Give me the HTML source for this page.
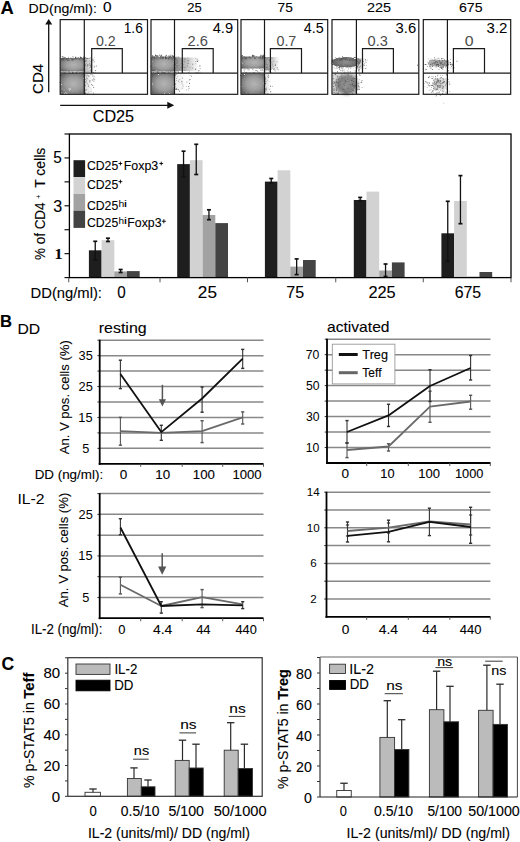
<!DOCTYPE html>
<html><head><meta charset="utf-8"><style>
html,body{margin:0;padding:0;background:#fff;}
body{width:520px;height:842px;overflow:hidden;}
svg{display:block;font-family:"Liberation Sans",sans-serif;}
</style></head><body>
<svg width="520" height="842" viewBox="0 0 520 842" font-family="Liberation Sans, sans-serif">
<defs>
<radialGradient id="bg" cx="0.55" cy="0.5" r="0.68"><stop offset="0" stop-color="#b4b4b4"/><stop offset="0.5" stop-color="#9c9c9c"/><stop offset="0.8" stop-color="#7a7a7a"/><stop offset="1" stop-color="#5a5a5a"/></radialGradient>
<radialGradient id="bg2" cx="0.2" cy="0.5" r="0.8"><stop offset="0" stop-color="#777"/><stop offset="1" stop-color="#aaa"/></radialGradient>
<radialGradient id="bg3" cx="0.6" cy="0.5" r="0.6"><stop offset="0" stop-color="#777"/><stop offset="1" stop-color="#9a9a9a"/></radialGradient>
<linearGradient id="fd" x1="0" y1="0" x2="1" y2="0"><stop offset="0" stop-color="#7a7a7a" stop-opacity="1"/><stop offset="0.55" stop-color="#9a9a9a" stop-opacity="0.6"/><stop offset="1" stop-color="#ccc" stop-opacity="0"/></linearGradient>
<filter id="rough2" x="-20%" y="-30%" width="140%" height="160%">
 <feTurbulence type="fractalNoise" baseFrequency="0.8" numOctaves="2" seed="9" result="t"/>
 <feDisplacementMap in="SourceGraphic" in2="t" scale="3.5" xChannelSelector="R" yChannelSelector="G" result="d"/>
 <feGaussianBlur in="d" stdDeviation="0.5"/>
</filter>
<radialGradient id="bg4" cx="0.5" cy="0.5" r="0.5"><stop offset="0" stop-color="#8c8c8c"/><stop offset="0.7" stop-color="#6a6a6a"/><stop offset="1" stop-color="#555"/></radialGradient>
<filter id="soft" x="-30%" y="-30%" width="160%" height="160%">
 <feTurbulence type="fractalNoise" baseFrequency="0.8" numOctaves="2" seed="11" result="t"/>
 <feDisplacementMap in="SourceGraphic" in2="t" scale="4" xChannelSelector="R" yChannelSelector="G" result="d"/>
 <feGaussianBlur in="d" stdDeviation="1.6"/>
</filter>
<filter id="rough" x="-10%" y="-10%" width="120%" height="120%">
 <feTurbulence type="fractalNoise" baseFrequency="0.9" numOctaves="2" seed="4" result="t"/>
 <feDisplacementMap in="SourceGraphic" in2="t" scale="2.2" xChannelSelector="R" yChannelSelector="G"/>
</filter>
</defs>
<rect x="0.00" y="0.00" width="520.00" height="842.00" fill="#fff"/>
<text x="0.44" y="13.80" font-size="17.5" font-weight="bold" fill="#000" stroke="#000" stroke-width="0.1" textLength="13.26" lengthAdjust="spacingAndGlyphs">A</text>
<text x="28.62" y="12.60" font-size="13.2" fill="#000" stroke="#000" stroke-width="0.1" textLength="68.20" lengthAdjust="spacingAndGlyphs">DD(ng/ml):</text>
<text x="102.98" y="11.50" font-size="14.5" fill="#000" stroke="#000" stroke-width="0.1" textLength="8.57" lengthAdjust="spacingAndGlyphs">0</text>
<text x="187.35" y="11.85" font-size="13.5" fill="#000" stroke="#000" stroke-width="0.1" textLength="14.50" lengthAdjust="spacingAndGlyphs">25</text>
<text x="277.61" y="11.85" font-size="13.5" fill="#000" stroke="#000" stroke-width="0.1" textLength="15.27" lengthAdjust="spacingAndGlyphs">75</text>
<text x="366.98" y="11.85" font-size="13.5" fill="#000" stroke="#000" stroke-width="0.1" textLength="24.05" lengthAdjust="spacingAndGlyphs">225</text>
<text x="458.99" y="11.85" font-size="13.5" fill="#000" stroke="#000" stroke-width="0.1" textLength="23.62" lengthAdjust="spacingAndGlyphs">675</text>
<line x1="48.70" y1="23.50" x2="48.70" y2="92.30" stroke="#111" stroke-width="1.3"/>
<polygon points="48.7,19.1 45.2,24.4 52.2,24.4" fill="#111"/>
<text transform="translate(43.40,93.95) rotate(-90)" x="0" y="0" font-size="15.4" fill="#000" stroke="#000" stroke-width="0.1" textLength="30.11" lengthAdjust="spacingAndGlyphs">CD4</text>
<line x1="60.20" y1="105.30" x2="168.00" y2="105.30" stroke="#111" stroke-width="1.3"/>
<polygon points="174.2,105.3 167.3,101.8 167.3,108.8" fill="#111"/>
<text x="92.69" y="122.30" font-size="16" fill="#000" stroke="#000" stroke-width="0.1" textLength="41.38" lengthAdjust="spacingAndGlyphs">CD25</text>
<rect x="60.6" y="58.0" width="23.7" height="13.5" fill="url(#bg)" opacity="1.0" filter="url(#rough)"/>
<rect x="68.2" y="56.9" width="0.8" height="0.8" fill="rgb(111,111,111)" opacity="1.0"/>
<rect x="79.8" y="56.6" width="0.8" height="0.8" fill="rgb(107,107,107)" opacity="1.0"/>
<rect x="72.5" y="56.4" width="1.0" height="1.0" fill="rgb(97,97,97)" opacity="1.0"/>
<rect x="66.2" y="58.3" width="1.2" height="1.2" fill="rgb(73,73,73)" opacity="1.0"/>
<rect x="63.5" y="57.1" width="1.1" height="1.1" fill="rgb(110,110,110)" opacity="1.0"/>
<rect x="62.0" y="58.5" width="1.3" height="1.3" fill="rgb(73,73,73)" opacity="1.0"/>
<rect x="61.7" y="59.5" width="1.0" height="1.0" fill="rgb(88,88,88)" opacity="1.0"/>
<rect x="73.3" y="58.4" width="1.2" height="1.2" fill="rgb(105,105,105)" opacity="1.0"/>
<rect x="64.8" y="58.5" width="0.9" height="0.9" fill="rgb(110,110,110)" opacity="1.0"/>
<rect x="62.9" y="58.9" width="0.8" height="0.8" fill="rgb(106,106,106)" opacity="1.0"/>
<rect x="65.4" y="58.8" width="1.2" height="1.2" fill="rgb(97,97,97)" opacity="1.0"/>
<rect x="71.5" y="59.7" width="0.9" height="0.9" fill="rgb(93,93,93)" opacity="1.0"/>
<rect x="79.2" y="58.9" width="0.8" height="0.8" fill="rgb(85,85,85)" opacity="1.0"/>
<rect x="67.6" y="58.1" width="1.2" height="1.2" fill="rgb(91,91,91)" opacity="1.0"/>
<rect x="67.3" y="59.9" width="1.1" height="1.1" fill="rgb(77,77,77)" opacity="1.0"/>
<rect x="64.5" y="57.6" width="1.0" height="1.0" fill="rgb(101,101,101)" opacity="1.0"/>
<rect x="83.1" y="56.6" width="1.1" height="1.1" fill="rgb(105,105,105)" opacity="1.0"/>
<rect x="81.1" y="57.5" width="1.0" height="1.0" fill="rgb(114,114,114)" opacity="1.0"/>
<rect x="72.2" y="59.2" width="1.2" height="1.2" fill="rgb(74,74,74)" opacity="1.0"/>
<rect x="82.7" y="58.1" width="0.8" height="0.8" fill="rgb(112,112,112)" opacity="1.0"/>
<rect x="77.7" y="57.4" width="1.3" height="1.3" fill="rgb(106,106,106)" opacity="1.0"/>
<rect x="79.8" y="57.4" width="1.2" height="1.2" fill="rgb(94,94,94)" opacity="1.0"/>
<rect x="68.7" y="59.8" width="0.9" height="0.9" fill="rgb(92,92,92)" opacity="1.0"/>
<rect x="63.3" y="56.5" width="0.9" height="0.9" fill="rgb(119,119,119)" opacity="1.0"/>
<rect x="77.9" y="57.8" width="0.8" height="0.8" fill="rgb(101,101,101)" opacity="1.0"/>
<rect x="71.1" y="58.3" width="1.2" height="1.2" fill="rgb(78,78,78)" opacity="1.0"/>
<rect x="80.8" y="57.3" width="1.3" height="1.3" fill="rgb(96,96,96)" opacity="1.0"/>
<rect x="76.6" y="57.7" width="0.9" height="0.9" fill="rgb(84,84,84)" opacity="1.0"/>
<rect x="64.7" y="57.2" width="0.8" height="0.8" fill="rgb(84,84,84)" opacity="1.0"/>
<rect x="80.0" y="57.0" width="0.8" height="0.8" fill="rgb(88,88,88)" opacity="1.0"/>
<rect x="70.4" y="57.7" width="1.0" height="1.0" fill="rgb(106,106,106)" opacity="1.0"/>
<rect x="63.5" y="59.5" width="1.1" height="1.1" fill="rgb(109,109,109)" opacity="1.0"/>
<rect x="77.9" y="58.0" width="1.3" height="1.3" fill="rgb(119,119,119)" opacity="1.0"/>
<rect x="76.5" y="58.4" width="1.0" height="1.0" fill="rgb(95,95,95)" opacity="1.0"/>
<rect x="63.0" y="58.6" width="0.9" height="0.9" fill="rgb(73,73,73)" opacity="1.0"/>
<rect x="83.6" y="57.9" width="1.0" height="1.0" fill="rgb(77,77,77)" opacity="1.0"/>
<rect x="61.8" y="56.3" width="1.1" height="1.1" fill="rgb(79,79,79)" opacity="1.0"/>
<rect x="82.8" y="58.6" width="1.2" height="1.2" fill="rgb(74,74,74)" opacity="1.0"/>
<rect x="75.0" y="56.8" width="1.3" height="1.3" fill="rgb(86,86,86)" opacity="1.0"/>
<rect x="74.7" y="58.1" width="1.2" height="1.2" fill="rgb(77,77,77)" opacity="1.0"/>
<rect x="83.8" y="58.0" width="1.0" height="1.0" fill="rgb(100,100,100)" opacity="1.0"/>
<rect x="64.0" y="59.1" width="0.9" height="0.9" fill="rgb(117,117,117)" opacity="1.0"/>
<rect x="80.0" y="56.9" width="0.9" height="0.9" fill="rgb(71,71,71)" opacity="1.0"/>
<rect x="82.9" y="57.6" width="1.1" height="1.1" fill="rgb(114,114,114)" opacity="1.0"/>
<rect x="61.2" y="58.3" width="1.2" height="1.2" fill="rgb(111,111,111)" opacity="1.0"/>
<rect x="76.9" y="71.1" width="1.3" height="1.3" fill="rgb(156,156,156)" opacity="1.0"/>
<rect x="68.9" y="71.0" width="1.2" height="1.2" fill="rgb(179,179,179)" opacity="1.0"/>
<rect x="68.3" y="71.0" width="1.2" height="1.2" fill="rgb(134,134,134)" opacity="1.0"/>
<rect x="79.7" y="72.2" width="0.9" height="0.9" fill="rgb(139,139,139)" opacity="1.0"/>
<rect x="72.1" y="72.2" width="1.2" height="1.2" fill="rgb(113,113,113)" opacity="1.0"/>
<rect x="71.7" y="70.9" width="1.0" height="1.0" fill="rgb(154,154,154)" opacity="1.0"/>
<rect x="82.5" y="72.8" width="0.8" height="0.8" fill="rgb(156,156,156)" opacity="1.0"/>
<rect x="63.0" y="71.6" width="0.9" height="0.9" fill="rgb(153,153,153)" opacity="1.0"/>
<rect x="75.2" y="72.6" width="1.0" height="1.0" fill="rgb(110,110,110)" opacity="1.0"/>
<rect x="75.9" y="72.3" width="1.2" height="1.2" fill="rgb(120,120,120)" opacity="1.0"/>
<rect x="63.4" y="71.4" width="1.0" height="1.0" fill="rgb(135,135,135)" opacity="1.0"/>
<rect x="64.8" y="72.3" width="0.8" height="0.8" fill="rgb(152,152,152)" opacity="1.0"/>
<rect x="82.7" y="72.2" width="1.0" height="1.0" fill="rgb(169,169,169)" opacity="1.0"/>
<rect x="82.8" y="72.2" width="1.3" height="1.3" fill="rgb(131,131,131)" opacity="1.0"/>
<rect x="61.2" y="71.9" width="1.2" height="1.2" fill="rgb(169,169,169)" opacity="1.0"/>
<rect x="64.0" y="72.4" width="1.1" height="1.1" fill="rgb(170,170,170)" opacity="1.0"/>
<rect x="68.8" y="71.8" width="0.8" height="0.8" fill="rgb(126,126,126)" opacity="1.0"/>
<rect x="79.3" y="72.2" width="1.1" height="1.1" fill="rgb(123,123,123)" opacity="1.0"/>
<rect x="82.4" y="71.5" width="1.2" height="1.2" fill="rgb(134,134,134)" opacity="1.0"/>
<rect x="65.5" y="71.1" width="1.1" height="1.1" fill="rgb(147,147,147)" opacity="1.0"/>
<rect x="78.5" y="71.2" width="1.0" height="1.0" fill="rgb(179,179,179)" opacity="1.0"/>
<rect x="63.7" y="72.6" width="1.2" height="1.2" fill="rgb(155,155,155)" opacity="1.0"/>
<rect x="76.1" y="72.4" width="1.0" height="1.0" fill="rgb(176,176,176)" opacity="1.0"/>
<rect x="82.1" y="71.7" width="0.9" height="0.9" fill="rgb(178,178,178)" opacity="1.0"/>
<rect x="72.5" y="72.5" width="1.1" height="1.1" fill="rgb(133,133,133)" opacity="1.0"/>
<rect x="84.3" y="58.0" width="10.7" height="14.5" fill="url(#fd)" opacity="0.55" filter="url(#rough)"/>
<rect x="91.0" y="59.3" width="0.8" height="0.8" fill="rgb(108,108,108)" opacity="1.0"/>
<rect x="90.1" y="65.6" width="0.9" height="0.9" fill="rgb(131,131,131)" opacity="1.0"/>
<rect x="87.2" y="64.5" width="1.0" height="1.0" fill="rgb(103,103,103)" opacity="1.0"/>
<rect x="84.3" y="60.0" width="0.9" height="0.9" fill="rgb(95,95,95)" opacity="1.0"/>
<rect x="86.9" y="65.7" width="0.8" height="0.8" fill="rgb(98,98,98)" opacity="1.0"/>
<rect x="88.3" y="64.8" width="0.7" height="0.7" fill="rgb(155,155,155)" opacity="1.0"/>
<rect x="85.0" y="64.9" width="0.8" height="0.8" fill="rgb(151,151,151)" opacity="1.0"/>
<rect x="84.8" y="65.1" width="1.0" height="1.0" fill="rgb(123,123,123)" opacity="1.0"/>
<rect x="93.4" y="60.1" width="0.7" height="0.7" fill="rgb(147,147,147)" opacity="1.0"/>
<rect x="84.4" y="63.9" width="0.9" height="0.9" fill="rgb(99,99,99)" opacity="1.0"/>
<rect x="86.1" y="60.3" width="0.9" height="0.9" fill="rgb(128,128,128)" opacity="1.0"/>
<rect x="93.5" y="59.4" width="0.7" height="0.7" fill="rgb(136,136,136)" opacity="1.0"/>
<rect x="93.2" y="72.0" width="0.9" height="0.9" fill="rgb(118,118,118)" opacity="1.0"/>
<rect x="84.4" y="70.7" width="1.0" height="1.0" fill="rgb(110,110,110)" opacity="1.0"/>
<rect x="92.1" y="59.5" width="1.0" height="1.0" fill="rgb(145,145,145)" opacity="1.0"/>
<rect x="85.9" y="63.5" width="0.7" height="0.7" fill="rgb(135,135,135)" opacity="1.0"/>
<rect x="90.0" y="57.3" width="0.8" height="0.8" fill="rgb(160,160,160)" opacity="1.0"/>
<rect x="89.7" y="63.0" width="0.8" height="0.8" fill="rgb(156,156,156)" opacity="1.0"/>
<rect x="87.0" y="58.0" width="1.0" height="1.0" fill="rgb(119,119,119)" opacity="1.0"/>
<rect x="84.4" y="61.1" width="1.0" height="1.0" fill="rgb(95,95,95)" opacity="1.0"/>
<rect x="84.6" y="68.7" width="0.9" height="0.9" fill="rgb(144,144,144)" opacity="1.0"/>
<rect x="89.2" y="71.7" width="0.7" height="0.7" fill="rgb(141,141,141)" opacity="1.0"/>
<rect x="94.0" y="65.8" width="0.6" height="0.6" fill="rgb(131,131,131)" opacity="1.0"/>
<rect x="84.3" y="67.7" width="1.0" height="1.0" fill="rgb(144,144,144)" opacity="1.0"/>
<rect x="85.0" y="57.3" width="0.9" height="0.9" fill="rgb(101,101,101)" opacity="1.0"/>
<rect x="84.3" y="70.3" width="0.7" height="0.7" fill="rgb(98,98,98)" opacity="1.0"/>
<rect x="84.4" y="57.2" width="0.8" height="0.8" fill="rgb(160,160,160)" opacity="1.0"/>
<rect x="93.9" y="66.6" width="0.8" height="0.8" fill="rgb(95,95,95)" opacity="1.0"/>
<rect x="84.8" y="58.7" width="0.7" height="0.7" fill="rgb(110,110,110)" opacity="1.0"/>
<rect x="84.6" y="71.4" width="0.7" height="0.7" fill="rgb(170,170,170)" opacity="1.0"/>
<rect x="90.7" y="61.5" width="0.9" height="0.9" fill="rgb(154,154,154)" opacity="1.0"/>
<rect x="85.0" y="69.5" width="0.6" height="0.6" fill="rgb(122,122,122)" opacity="1.0"/>
<rect x="84.3" y="64.8" width="0.8" height="0.8" fill="rgb(114,114,114)" opacity="1.0"/>
<rect x="84.8" y="63.9" width="0.9" height="0.9" fill="rgb(145,145,145)" opacity="1.0"/>
<rect x="87.4" y="70.8" width="0.7" height="0.7" fill="rgb(154,154,154)" opacity="1.0"/>
<rect x="84.7" y="60.6" width="0.9" height="0.9" fill="rgb(115,115,115)" opacity="1.0"/>
<rect x="89.8" y="66.9" width="1.0" height="1.0" fill="rgb(141,141,141)" opacity="1.0"/>
<rect x="95.5" y="70.0" width="0.6" height="0.6" fill="rgb(91,91,91)" opacity="1.0"/>
<rect x="90.3" y="61.0" width="0.6" height="0.6" fill="rgb(110,110,110)" opacity="1.0"/>
<rect x="89.1" y="62.9" width="0.9" height="0.9" fill="rgb(154,154,154)" opacity="1.0"/>
<rect x="85.0" y="60.8" width="0.6" height="0.6" fill="rgb(127,127,127)" opacity="1.0"/>
<rect x="84.6" y="61.2" width="0.7" height="0.7" fill="rgb(90,90,90)" opacity="1.0"/>
<rect x="95.0" y="72.1" width="0.7" height="0.7" fill="rgb(160,160,160)" opacity="1.0"/>
<rect x="84.3" y="70.7" width="0.7" height="0.7" fill="rgb(117,117,117)" opacity="1.0"/>
<rect x="84.3" y="62.9" width="0.7" height="0.7" fill="rgb(150,150,150)" opacity="1.0"/>
<rect x="88.9" y="60.8" width="0.6" height="0.6" fill="rgb(90,90,90)" opacity="1.0"/>
<rect x="91.8" y="59.2" width="0.6" height="0.6" fill="rgb(165,165,165)" opacity="1.0"/>
<rect x="84.3" y="61.7" width="0.6" height="0.6" fill="rgb(119,119,119)" opacity="1.0"/>
<rect x="94.9" y="70.2" width="0.9" height="0.9" fill="rgb(109,109,109)" opacity="1.0"/>
<rect x="89.9" y="70.6" width="0.9" height="0.9" fill="rgb(139,139,139)" opacity="1.0"/>
<rect x="90.0" y="64.7" width="0.9" height="0.9" fill="rgb(126,126,126)" opacity="1.0"/>
<rect x="88.7" y="57.7" width="0.9" height="0.9" fill="rgb(155,155,155)" opacity="1.0"/>
<rect x="90.2" y="69.6" width="1.0" height="1.0" fill="rgb(107,107,107)" opacity="1.0"/>
<rect x="90.6" y="65.8" width="0.9" height="0.9" fill="rgb(92,92,92)" opacity="1.0"/>
<rect x="87.9" y="70.8" width="0.6" height="0.6" fill="rgb(119,119,119)" opacity="1.0"/>
<rect x="84.3" y="66.9" width="0.8" height="0.8" fill="rgb(103,103,103)" opacity="1.0"/>
<rect x="86.3" y="57.8" width="0.9" height="0.9" fill="rgb(92,92,92)" opacity="1.0"/>
<rect x="89.3" y="64.6" width="0.8" height="0.8" fill="rgb(90,90,90)" opacity="1.0"/>
<rect x="84.3" y="71.5" width="0.6" height="0.6" fill="rgb(158,158,158)" opacity="1.0"/>
<rect x="87.1" y="68.6" width="0.7" height="0.7" fill="rgb(150,150,150)" opacity="1.0"/>
<rect x="84.3" y="61.1" width="0.7" height="0.7" fill="rgb(116,116,116)" opacity="1.0"/>
<rect x="88.8" y="64.1" width="0.6" height="0.6" fill="rgb(138,138,138)" opacity="1.0"/>
<rect x="93.8" y="61.5" width="0.8" height="0.8" fill="rgb(95,95,95)" opacity="1.0"/>
<rect x="88.7" y="58.2" width="0.7" height="0.7" fill="rgb(108,108,108)" opacity="1.0"/>
<rect x="88.9" y="67.7" width="0.8" height="0.8" fill="rgb(169,169,169)" opacity="1.0"/>
<rect x="84.3" y="57.9" width="1.0" height="1.0" fill="rgb(124,124,124)" opacity="1.0"/>
<rect x="84.4" y="60.4" width="0.7" height="0.7" fill="rgb(152,152,152)" opacity="1.0"/>
<rect x="87.0" y="64.2" width="0.9" height="0.9" fill="rgb(149,149,149)" opacity="1.0"/>
<rect x="95.8" y="65.5" width="1.0" height="1.0" fill="rgb(129,129,129)" opacity="1.0"/>
<rect x="94.4" y="57.3" width="0.6" height="0.6" fill="rgb(148,148,148)" opacity="1.0"/>
<rect x="60.6" y="73.8" width="23.7" height="20.0" fill="url(#bg)" opacity="1.0" filter="url(#rough)"/>
<rect x="84.3" y="74.0" width="8.7" height="20.0" fill="url(#fd)" opacity="0.3" filter="url(#rough)"/>
<rect x="86.7" y="93.9" width="0.8" height="0.8" fill="rgb(124,124,124)" opacity="1.0"/>
<rect x="93.1" y="92.6" width="0.8" height="0.8" fill="rgb(99,99,99)" opacity="1.0"/>
<rect x="84.4" y="84.5" width="0.7" height="0.7" fill="rgb(136,136,136)" opacity="1.0"/>
<rect x="91.2" y="84.2" width="0.9" height="0.9" fill="rgb(104,104,104)" opacity="1.0"/>
<rect x="84.7" y="92.0" width="0.8" height="0.8" fill="rgb(152,152,152)" opacity="1.0"/>
<rect x="84.5" y="93.0" width="0.8" height="0.8" fill="rgb(147,147,147)" opacity="1.0"/>
<rect x="89.6" y="82.3" width="0.7" height="0.7" fill="rgb(138,138,138)" opacity="1.0"/>
<rect x="91.6" y="74.0" width="0.9" height="0.9" fill="rgb(133,133,133)" opacity="1.0"/>
<rect x="84.4" y="92.5" width="1.0" height="1.0" fill="rgb(91,91,91)" opacity="1.0"/>
<rect x="85.0" y="81.4" width="0.8" height="0.8" fill="rgb(140,140,140)" opacity="1.0"/>
<rect x="92.2" y="75.5" width="0.9" height="0.9" fill="rgb(144,144,144)" opacity="1.0"/>
<rect x="91.9" y="79.6" width="0.9" height="0.9" fill="rgb(96,96,96)" opacity="1.0"/>
<rect x="85.0" y="92.7" width="1.0" height="1.0" fill="rgb(121,121,121)" opacity="1.0"/>
<rect x="86.0" y="80.3" width="0.9" height="0.9" fill="rgb(137,137,137)" opacity="1.0"/>
<rect x="86.0" y="74.6" width="0.8" height="0.8" fill="rgb(170,170,170)" opacity="1.0"/>
<rect x="92.3" y="85.1" width="0.9" height="0.9" fill="rgb(116,116,116)" opacity="1.0"/>
<rect x="84.3" y="88.6" width="0.8" height="0.8" fill="rgb(147,147,147)" opacity="1.0"/>
<rect x="84.4" y="91.4" width="0.6" height="0.6" fill="rgb(152,152,152)" opacity="1.0"/>
<rect x="93.4" y="76.5" width="0.8" height="0.8" fill="rgb(150,150,150)" opacity="1.0"/>
<rect x="85.0" y="79.1" width="0.8" height="0.8" fill="rgb(123,123,123)" opacity="1.0"/>
<rect x="84.8" y="83.7" width="0.6" height="0.6" fill="rgb(140,140,140)" opacity="1.0"/>
<rect x="88.4" y="75.5" width="1.0" height="1.0" fill="rgb(154,154,154)" opacity="1.0"/>
<rect x="86.6" y="78.4" width="1.0" height="1.0" fill="rgb(132,132,132)" opacity="1.0"/>
<rect x="86.1" y="76.8" width="0.7" height="0.7" fill="rgb(114,114,114)" opacity="1.0"/>
<rect x="84.5" y="85.1" width="0.7" height="0.7" fill="rgb(130,130,130)" opacity="1.0"/>
<rect x="84.8" y="85.4" width="0.9" height="0.9" fill="rgb(92,92,92)" opacity="1.0"/>
<rect x="85.8" y="82.3" width="0.7" height="0.7" fill="rgb(157,157,157)" opacity="1.0"/>
<rect x="84.9" y="89.0" width="0.7" height="0.7" fill="rgb(153,153,153)" opacity="1.0"/>
<rect x="94.3" y="76.5" width="0.8" height="0.8" fill="rgb(154,154,154)" opacity="1.0"/>
<rect x="90.7" y="91.0" width="0.7" height="0.7" fill="rgb(101,101,101)" opacity="1.0"/>
<rect x="84.8" y="82.0" width="0.8" height="0.8" fill="rgb(147,147,147)" opacity="1.0"/>
<rect x="85.1" y="90.3" width="0.7" height="0.7" fill="rgb(92,92,92)" opacity="1.0"/>
<rect x="85.9" y="89.3" width="1.0" height="1.0" fill="rgb(150,150,150)" opacity="1.0"/>
<rect x="86.5" y="75.5" width="0.9" height="0.9" fill="rgb(157,157,157)" opacity="1.0"/>
<rect x="94.4" y="79.0" width="0.7" height="0.7" fill="rgb(103,103,103)" opacity="1.0"/>
<rect x="84.5" y="93.4" width="1.0" height="1.0" fill="rgb(103,103,103)" opacity="1.0"/>
<rect x="89.5" y="86.9" width="0.6" height="0.6" fill="rgb(148,148,148)" opacity="1.0"/>
<rect x="90.4" y="74.0" width="0.7" height="0.7" fill="rgb(106,106,106)" opacity="1.0"/>
<rect x="93.2" y="86.9" width="1.0" height="1.0" fill="rgb(128,128,128)" opacity="1.0"/>
<rect x="88.1" y="84.6" width="0.9" height="0.9" fill="rgb(145,145,145)" opacity="1.0"/>
<rect x="84.4" y="75.4" width="1.0" height="1.0" fill="rgb(157,157,157)" opacity="1.0"/>
<rect x="84.6" y="79.2" width="0.6" height="0.6" fill="rgb(166,166,166)" opacity="1.0"/>
<rect x="87.0" y="93.9" width="1.0" height="1.0" fill="rgb(125,125,125)" opacity="1.0"/>
<rect x="88.4" y="91.7" width="0.8" height="0.8" fill="rgb(150,150,150)" opacity="1.0"/>
<rect x="87.1" y="74.6" width="0.9" height="0.9" fill="rgb(142,142,142)" opacity="1.0"/>
<rect x="85.1" y="74.4" width="1.0" height="1.0" fill="rgb(153,153,153)" opacity="1.0"/>
<rect x="88.4" y="75.6" width="0.9" height="0.9" fill="rgb(119,119,119)" opacity="1.0"/>
<rect x="93.3" y="78.5" width="0.9" height="0.9" fill="rgb(94,94,94)" opacity="1.0"/>
<rect x="89.5" y="81.2" width="0.7" height="0.7" fill="rgb(140,140,140)" opacity="1.0"/>
<rect x="90.8" y="88.8" width="0.6" height="0.6" fill="rgb(154,154,154)" opacity="1.0"/>
<rect x="86.6" y="78.0" width="0.7" height="0.7" fill="rgb(114,114,114)" opacity="1.0"/>
<rect x="84.7" y="89.2" width="0.6" height="0.6" fill="rgb(127,127,127)" opacity="1.0"/>
<rect x="88.1" y="86.2" width="0.8" height="0.8" fill="rgb(118,118,118)" opacity="1.0"/>
<rect x="93.0" y="75.1" width="0.7" height="0.7" fill="rgb(166,166,166)" opacity="1.0"/>
<rect x="85.7" y="78.3" width="0.7" height="0.7" fill="rgb(166,166,166)" opacity="1.0"/>
<rect x="84.3" y="75.2" width="0.8" height="0.8" fill="rgb(140,140,140)" opacity="1.0"/>
<rect x="89.4" y="80.3" width="1.0" height="1.0" fill="rgb(104,104,104)" opacity="1.0"/>
<rect x="93.5" y="80.6" width="0.9" height="0.9" fill="rgb(113,113,113)" opacity="1.0"/>
<rect x="86.9" y="83.4" width="0.9" height="0.9" fill="rgb(129,129,129)" opacity="1.0"/>
<rect x="85.6" y="81.5" width="0.8" height="0.8" fill="rgb(132,132,132)" opacity="1.0"/>
<rect x="61.6" y="88.5" width="1.0" height="1.0" fill="rgb(175,175,175)" opacity="1.0"/>
<rect x="69.6" y="88.7" width="0.9" height="0.9" fill="rgb(218,218,218)" opacity="1.0"/>
<rect x="64.0" y="92.9" width="1.2" height="1.2" fill="rgb(222,222,222)" opacity="1.0"/>
<rect x="61.4" y="92.2" width="1.0" height="1.0" fill="rgb(182,182,182)" opacity="1.0"/>
<rect x="69.2" y="89.2" width="1.2" height="1.2" fill="rgb(193,193,193)" opacity="1.0"/>
<rect x="65.1" y="91.8" width="1.2" height="1.2" fill="rgb(185,185,185)" opacity="1.0"/>
<rect x="67.8" y="88.2" width="1.0" height="1.0" fill="rgb(172,172,172)" opacity="1.0"/>
<rect x="68.2" y="88.4" width="1.2" height="1.2" fill="rgb(182,182,182)" opacity="1.0"/>
<rect x="69.0" y="90.0" width="1.0" height="1.0" fill="rgb(187,187,187)" opacity="1.0"/>
<rect x="69.6" y="88.3" width="1.2" height="1.2" fill="rgb(217,217,217)" opacity="1.0"/>
<rect x="63.6" y="89.7" width="1.2" height="1.2" fill="rgb(170,170,170)" opacity="1.0"/>
<rect x="66.2" y="92.8" width="1.3" height="1.3" fill="rgb(230,230,230)" opacity="1.0"/>
<rect x="60.20" y="19.60" width="87.30" height="74.70" fill="none" stroke="#1a1a1a" stroke-width="1.2"/>
<line x1="84.30" y1="19.60" x2="84.30" y2="94.30" stroke="#1a1a1a" stroke-width="1.2"/>
<line x1="60.20" y1="73.10" x2="147.50" y2="73.10" stroke="#1a1a1a" stroke-width="1.2"/>
<polyline points="91.7,73.1 91.7,48.6 122.3,48.6 122.3,73.1" fill="none" stroke="#1a1a1a" stroke-width="1.2"/>
<text x="123.72" y="33.30" font-size="14" fill="#000" stroke="#000" stroke-width="0" textLength="19.08" lengthAdjust="spacingAndGlyphs">1.6</text>
<text x="95.93" y="45.80" font-size="14" fill="#4d4d4d" stroke="#4d4d4d" stroke-width="0" textLength="19.78" lengthAdjust="spacingAndGlyphs">0.2</text>
<rect x="151.4" y="56.5" width="23.1" height="15.0" fill="url(#bg)" opacity="1.0" filter="url(#rough)"/>
<rect x="151.9" y="55.4" width="1.2" height="1.2" fill="rgb(100,100,100)" opacity="1.0"/>
<rect x="161.9" y="57.6" width="0.9" height="0.9" fill="rgb(120,120,120)" opacity="1.0"/>
<rect x="161.1" y="56.5" width="0.9" height="0.9" fill="rgb(101,101,101)" opacity="1.0"/>
<rect x="169.5" y="57.5" width="1.2" height="1.2" fill="rgb(114,114,114)" opacity="1.0"/>
<rect x="165.1" y="55.8" width="1.0" height="1.0" fill="rgb(90,90,90)" opacity="1.0"/>
<rect x="169.1" y="56.9" width="0.9" height="0.9" fill="rgb(102,102,102)" opacity="1.0"/>
<rect x="168.4" y="55.5" width="1.1" height="1.1" fill="rgb(74,74,74)" opacity="1.0"/>
<rect x="162.3" y="56.7" width="1.3" height="1.3" fill="rgb(80,80,80)" opacity="1.0"/>
<rect x="171.4" y="58.5" width="1.1" height="1.1" fill="rgb(86,86,86)" opacity="1.0"/>
<rect x="156.1" y="56.2" width="1.3" height="1.3" fill="rgb(115,115,115)" opacity="1.0"/>
<rect x="155.3" y="55.0" width="1.1" height="1.1" fill="rgb(99,99,99)" opacity="1.0"/>
<rect x="166.6" y="57.5" width="1.1" height="1.1" fill="rgb(119,119,119)" opacity="1.0"/>
<rect x="154.1" y="57.9" width="0.9" height="0.9" fill="rgb(88,88,88)" opacity="1.0"/>
<rect x="157.4" y="55.5" width="0.9" height="0.9" fill="rgb(86,86,86)" opacity="1.0"/>
<rect x="157.0" y="55.5" width="0.9" height="0.9" fill="rgb(79,79,79)" opacity="1.0"/>
<rect x="171.9" y="55.3" width="1.0" height="1.0" fill="rgb(74,74,74)" opacity="1.0"/>
<rect x="173.8" y="56.5" width="1.1" height="1.1" fill="rgb(84,84,84)" opacity="1.0"/>
<rect x="153.7" y="56.4" width="0.9" height="0.9" fill="rgb(72,72,72)" opacity="1.0"/>
<rect x="162.1" y="57.8" width="1.3" height="1.3" fill="rgb(98,98,98)" opacity="1.0"/>
<rect x="152.3" y="55.7" width="0.8" height="0.8" fill="rgb(77,77,77)" opacity="1.0"/>
<rect x="165.0" y="57.8" width="1.3" height="1.3" fill="rgb(82,82,82)" opacity="1.0"/>
<rect x="159.8" y="58.0" width="1.1" height="1.1" fill="rgb(98,98,98)" opacity="1.0"/>
<rect x="168.9" y="57.2" width="0.9" height="0.9" fill="rgb(70,70,70)" opacity="1.0"/>
<rect x="164.9" y="57.0" width="0.8" height="0.8" fill="rgb(83,83,83)" opacity="1.0"/>
<rect x="159.1" y="54.7" width="0.8" height="0.8" fill="rgb(86,86,86)" opacity="1.0"/>
<rect x="167.9" y="58.2" width="1.2" height="1.2" fill="rgb(70,70,70)" opacity="1.0"/>
<rect x="160.6" y="56.0" width="1.0" height="1.0" fill="rgb(109,109,109)" opacity="1.0"/>
<rect x="156.0" y="57.7" width="1.0" height="1.0" fill="rgb(105,105,105)" opacity="1.0"/>
<rect x="160.6" y="57.7" width="1.1" height="1.1" fill="rgb(112,112,112)" opacity="1.0"/>
<rect x="165.8" y="54.9" width="1.0" height="1.0" fill="rgb(80,80,80)" opacity="1.0"/>
<rect x="157.5" y="58.5" width="1.0" height="1.0" fill="rgb(112,112,112)" opacity="1.0"/>
<rect x="172.9" y="55.7" width="1.2" height="1.2" fill="rgb(106,106,106)" opacity="1.0"/>
<rect x="160.8" y="54.6" width="1.3" height="1.3" fill="rgb(119,119,119)" opacity="1.0"/>
<rect x="159.6" y="55.3" width="1.0" height="1.0" fill="rgb(116,116,116)" opacity="1.0"/>
<rect x="172.7" y="56.2" width="1.0" height="1.0" fill="rgb(80,80,80)" opacity="1.0"/>
<rect x="169.9" y="56.1" width="1.0" height="1.0" fill="rgb(93,93,93)" opacity="1.0"/>
<rect x="155.1" y="54.6" width="0.9" height="0.9" fill="rgb(105,105,105)" opacity="1.0"/>
<rect x="169.6" y="56.1" width="1.1" height="1.1" fill="rgb(106,106,106)" opacity="1.0"/>
<rect x="159.8" y="56.5" width="1.0" height="1.0" fill="rgb(79,79,79)" opacity="1.0"/>
<rect x="155.1" y="55.2" width="0.9" height="0.9" fill="rgb(74,74,74)" opacity="1.0"/>
<rect x="162.5" y="57.7" width="1.0" height="1.0" fill="rgb(82,82,82)" opacity="1.0"/>
<rect x="170.3" y="54.7" width="1.0" height="1.0" fill="rgb(100,100,100)" opacity="1.0"/>
<rect x="165.1" y="57.0" width="1.3" height="1.3" fill="rgb(75,75,75)" opacity="1.0"/>
<rect x="165.4" y="57.8" width="1.1" height="1.1" fill="rgb(80,80,80)" opacity="1.0"/>
<rect x="170.8" y="57.0" width="1.2" height="1.2" fill="rgb(109,109,109)" opacity="1.0"/>
<rect x="170.1" y="70.9" width="0.8" height="0.8" fill="rgb(137,137,137)" opacity="1.0"/>
<rect x="172.6" y="70.9" width="0.9" height="0.9" fill="rgb(155,155,155)" opacity="1.0"/>
<rect x="157.0" y="72.2" width="0.8" height="0.8" fill="rgb(134,134,134)" opacity="1.0"/>
<rect x="164.1" y="72.2" width="1.1" height="1.1" fill="rgb(114,114,114)" opacity="1.0"/>
<rect x="158.7" y="71.4" width="1.1" height="1.1" fill="rgb(168,168,168)" opacity="1.0"/>
<rect x="165.6" y="71.2" width="1.0" height="1.0" fill="rgb(163,163,163)" opacity="1.0"/>
<rect x="157.0" y="71.4" width="1.0" height="1.0" fill="rgb(157,157,157)" opacity="1.0"/>
<rect x="161.3" y="70.6" width="1.0" height="1.0" fill="rgb(172,172,172)" opacity="1.0"/>
<rect x="161.5" y="71.9" width="1.2" height="1.2" fill="rgb(168,168,168)" opacity="1.0"/>
<rect x="169.7" y="71.4" width="0.9" height="0.9" fill="rgb(118,118,118)" opacity="1.0"/>
<rect x="161.1" y="70.7" width="1.1" height="1.1" fill="rgb(166,166,166)" opacity="1.0"/>
<rect x="166.3" y="70.6" width="0.8" height="0.8" fill="rgb(126,126,126)" opacity="1.0"/>
<rect x="168.0" y="72.3" width="0.8" height="0.8" fill="rgb(175,175,175)" opacity="1.0"/>
<rect x="168.4" y="72.6" width="0.8" height="0.8" fill="rgb(127,127,127)" opacity="1.0"/>
<rect x="152.9" y="71.9" width="0.9" height="0.9" fill="rgb(124,124,124)" opacity="1.0"/>
<rect x="173.6" y="71.6" width="1.1" height="1.1" fill="rgb(131,131,131)" opacity="1.0"/>
<rect x="167.7" y="71.0" width="1.1" height="1.1" fill="rgb(154,154,154)" opacity="1.0"/>
<rect x="157.1" y="71.2" width="1.3" height="1.3" fill="rgb(145,145,145)" opacity="1.0"/>
<rect x="161.7" y="71.1" width="0.9" height="0.9" fill="rgb(171,171,171)" opacity="1.0"/>
<rect x="157.3" y="71.7" width="1.0" height="1.0" fill="rgb(150,150,150)" opacity="1.0"/>
<rect x="155.9" y="71.4" width="1.1" height="1.1" fill="rgb(145,145,145)" opacity="1.0"/>
<rect x="171.6" y="70.9" width="0.9" height="0.9" fill="rgb(143,143,143)" opacity="1.0"/>
<rect x="163.4" y="72.0" width="1.3" height="1.3" fill="rgb(156,156,156)" opacity="1.0"/>
<rect x="161.6" y="71.7" width="0.9" height="0.9" fill="rgb(123,123,123)" opacity="1.0"/>
<rect x="163.5" y="72.5" width="0.9" height="0.9" fill="rgb(157,157,157)" opacity="1.0"/>
<rect x="174.5" y="57.5" width="25.5" height="13.5" fill="url(#fd)" opacity="0.9" filter="url(#rough)"/>
<rect x="199.5" y="65.7" width="0.7" height="0.7" fill="rgb(136,136,136)" opacity="1.0"/>
<rect x="174.6" y="60.2" width="0.9" height="0.9" fill="rgb(168,168,168)" opacity="1.0"/>
<rect x="174.5" y="69.6" width="0.7" height="0.7" fill="rgb(122,122,122)" opacity="1.0"/>
<rect x="198.1" y="70.4" width="0.9" height="0.9" fill="rgb(130,130,130)" opacity="1.0"/>
<rect x="187.9" y="60.0" width="0.8" height="0.8" fill="rgb(127,127,127)" opacity="1.0"/>
<rect x="178.5" y="64.7" width="0.7" height="0.7" fill="rgb(96,96,96)" opacity="1.0"/>
<rect x="175.5" y="66.9" width="0.6" height="0.6" fill="rgb(92,92,92)" opacity="1.0"/>
<rect x="181.8" y="61.4" width="0.7" height="0.7" fill="rgb(156,156,156)" opacity="1.0"/>
<rect x="175.5" y="65.8" width="0.7" height="0.7" fill="rgb(165,165,165)" opacity="1.0"/>
<rect x="177.3" y="69.8" width="0.7" height="0.7" fill="rgb(110,110,110)" opacity="1.0"/>
<rect x="196.6" y="60.4" width="0.8" height="0.8" fill="rgb(109,109,109)" opacity="1.0"/>
<rect x="174.6" y="58.8" width="0.8" height="0.8" fill="rgb(124,124,124)" opacity="1.0"/>
<rect x="175.9" y="56.7" width="1.0" height="1.0" fill="rgb(161,161,161)" opacity="1.0"/>
<rect x="182.6" y="65.8" width="1.0" height="1.0" fill="rgb(167,167,167)" opacity="1.0"/>
<rect x="187.4" y="60.5" width="0.6" height="0.6" fill="rgb(90,90,90)" opacity="1.0"/>
<rect x="180.8" y="63.0" width="0.7" height="0.7" fill="rgb(120,120,120)" opacity="1.0"/>
<rect x="195.3" y="58.2" width="0.8" height="0.8" fill="rgb(168,168,168)" opacity="1.0"/>
<rect x="196.8" y="58.8" width="0.8" height="0.8" fill="rgb(115,115,115)" opacity="1.0"/>
<rect x="184.1" y="66.9" width="0.9" height="0.9" fill="rgb(143,143,143)" opacity="1.0"/>
<rect x="175.0" y="61.5" width="0.9" height="0.9" fill="rgb(128,128,128)" opacity="1.0"/>
<rect x="199.7" y="68.1" width="0.9" height="0.9" fill="rgb(151,151,151)" opacity="1.0"/>
<rect x="174.5" y="70.0" width="0.6" height="0.6" fill="rgb(149,149,149)" opacity="1.0"/>
<rect x="184.6" y="59.3" width="0.7" height="0.7" fill="rgb(103,103,103)" opacity="1.0"/>
<rect x="184.2" y="58.5" width="0.9" height="0.9" fill="rgb(123,123,123)" opacity="1.0"/>
<rect x="175.9" y="65.4" width="0.9" height="0.9" fill="rgb(145,145,145)" opacity="1.0"/>
<rect x="195.6" y="72.1" width="0.9" height="0.9" fill="rgb(127,127,127)" opacity="1.0"/>
<rect x="198.1" y="60.0" width="0.6" height="0.6" fill="rgb(154,154,154)" opacity="1.0"/>
<rect x="175.8" y="60.3" width="1.0" height="1.0" fill="rgb(115,115,115)" opacity="1.0"/>
<rect x="187.9" y="61.7" width="0.7" height="0.7" fill="rgb(139,139,139)" opacity="1.0"/>
<rect x="175.6" y="71.0" width="1.0" height="1.0" fill="rgb(170,170,170)" opacity="1.0"/>
<rect x="199.0" y="70.0" width="0.8" height="0.8" fill="rgb(158,158,158)" opacity="1.0"/>
<rect x="191.9" y="67.7" width="0.8" height="0.8" fill="rgb(93,93,93)" opacity="1.0"/>
<rect x="187.1" y="65.6" width="0.9" height="0.9" fill="rgb(129,129,129)" opacity="1.0"/>
<rect x="177.7" y="65.9" width="1.0" height="1.0" fill="rgb(162,162,162)" opacity="1.0"/>
<rect x="174.9" y="56.9" width="0.8" height="0.8" fill="rgb(103,103,103)" opacity="1.0"/>
<rect x="175.0" y="72.1" width="0.6" height="0.6" fill="rgb(93,93,93)" opacity="1.0"/>
<rect x="174.8" y="66.8" width="0.9" height="0.9" fill="rgb(95,95,95)" opacity="1.0"/>
<rect x="187.5" y="57.6" width="0.9" height="0.9" fill="rgb(165,165,165)" opacity="1.0"/>
<rect x="175.2" y="71.8" width="1.0" height="1.0" fill="rgb(158,158,158)" opacity="1.0"/>
<rect x="174.6" y="70.4" width="0.6" height="0.6" fill="rgb(139,139,139)" opacity="1.0"/>
<rect x="175.3" y="58.3" width="1.0" height="1.0" fill="rgb(94,94,94)" opacity="1.0"/>
<rect x="195.3" y="68.6" width="0.9" height="0.9" fill="rgb(101,101,101)" opacity="1.0"/>
<rect x="183.8" y="61.1" width="0.7" height="0.7" fill="rgb(102,102,102)" opacity="1.0"/>
<rect x="189.8" y="66.8" width="0.7" height="0.7" fill="rgb(127,127,127)" opacity="1.0"/>
<rect x="178.4" y="56.8" width="1.0" height="1.0" fill="rgb(122,122,122)" opacity="1.0"/>
<rect x="174.5" y="68.7" width="0.9" height="0.9" fill="rgb(131,131,131)" opacity="1.0"/>
<rect x="182.8" y="64.1" width="0.8" height="0.8" fill="rgb(126,126,126)" opacity="1.0"/>
<rect x="174.5" y="63.1" width="0.8" height="0.8" fill="rgb(145,145,145)" opacity="1.0"/>
<rect x="174.7" y="64.0" width="0.8" height="0.8" fill="rgb(96,96,96)" opacity="1.0"/>
<rect x="175.4" y="70.3" width="0.8" height="0.8" fill="rgb(101,101,101)" opacity="1.0"/>
<rect x="176.1" y="63.5" width="0.7" height="0.7" fill="rgb(157,157,157)" opacity="1.0"/>
<rect x="188.5" y="72.1" width="0.7" height="0.7" fill="rgb(90,90,90)" opacity="1.0"/>
<rect x="174.6" y="67.6" width="1.0" height="1.0" fill="rgb(113,113,113)" opacity="1.0"/>
<rect x="182.6" y="71.8" width="0.7" height="0.7" fill="rgb(155,155,155)" opacity="1.0"/>
<rect x="197.0" y="61.0" width="1.0" height="1.0" fill="rgb(117,117,117)" opacity="1.0"/>
<rect x="175.5" y="59.2" width="0.8" height="0.8" fill="rgb(100,100,100)" opacity="1.0"/>
<rect x="199.5" y="65.5" width="0.9" height="0.9" fill="rgb(103,103,103)" opacity="1.0"/>
<rect x="177.1" y="62.9" width="1.0" height="1.0" fill="rgb(140,140,140)" opacity="1.0"/>
<rect x="187.9" y="63.3" width="0.7" height="0.7" fill="rgb(93,93,93)" opacity="1.0"/>
<rect x="176.3" y="63.3" width="0.8" height="0.8" fill="rgb(159,159,159)" opacity="1.0"/>
<rect x="177.5" y="70.6" width="1.0" height="1.0" fill="rgb(119,119,119)" opacity="1.0"/>
<rect x="174.8" y="66.0" width="0.9" height="0.9" fill="rgb(167,167,167)" opacity="1.0"/>
<rect x="177.0" y="61.7" width="0.9" height="0.9" fill="rgb(109,109,109)" opacity="1.0"/>
<rect x="178.9" y="65.4" width="0.7" height="0.7" fill="rgb(131,131,131)" opacity="1.0"/>
<rect x="178.7" y="68.9" width="0.7" height="0.7" fill="rgb(164,164,164)" opacity="1.0"/>
<rect x="176.8" y="66.8" width="0.8" height="0.8" fill="rgb(120,120,120)" opacity="1.0"/>
<rect x="175.9" y="68.6" width="0.7" height="0.7" fill="rgb(169,169,169)" opacity="1.0"/>
<rect x="174.9" y="60.5" width="0.8" height="0.8" fill="rgb(131,131,131)" opacity="1.0"/>
<rect x="177.0" y="60.3" width="0.7" height="0.7" fill="rgb(114,114,114)" opacity="1.0"/>
<rect x="197.5" y="72.4" width="1.0" height="1.0" fill="rgb(111,111,111)" opacity="1.0"/>
<rect x="174.7" y="62.6" width="0.9" height="0.9" fill="rgb(108,108,108)" opacity="1.0"/>
<rect x="187.4" y="63.5" width="0.6" height="0.6" fill="rgb(115,115,115)" opacity="1.0"/>
<rect x="195.3" y="61.0" width="0.8" height="0.8" fill="rgb(139,139,139)" opacity="1.0"/>
<rect x="174.5" y="70.2" width="0.9" height="0.9" fill="rgb(145,145,145)" opacity="1.0"/>
<rect x="180.1" y="66.6" width="0.6" height="0.6" fill="rgb(149,149,149)" opacity="1.0"/>
<rect x="175.8" y="68.3" width="0.9" height="0.9" fill="rgb(90,90,90)" opacity="1.0"/>
<rect x="195.1" y="63.4" width="0.8" height="0.8" fill="rgb(163,163,163)" opacity="1.0"/>
<rect x="184.3" y="70.0" width="0.9" height="0.9" fill="rgb(164,164,164)" opacity="1.0"/>
<rect x="185.4" y="66.8" width="0.8" height="0.8" fill="rgb(148,148,148)" opacity="1.0"/>
<rect x="175.8" y="67.7" width="0.7" height="0.7" fill="rgb(143,143,143)" opacity="1.0"/>
<rect x="177.9" y="67.9" width="0.7" height="0.7" fill="rgb(110,110,110)" opacity="1.0"/>
<rect x="178.4" y="63.8" width="0.9" height="0.9" fill="rgb(169,169,169)" opacity="1.0"/>
<rect x="180.5" y="67.1" width="1.0" height="1.0" fill="rgb(113,113,113)" opacity="1.0"/>
<rect x="176.7" y="56.7" width="1.0" height="1.0" fill="rgb(152,152,152)" opacity="1.0"/>
<rect x="174.7" y="60.5" width="0.7" height="0.7" fill="rgb(117,117,117)" opacity="1.0"/>
<rect x="189.3" y="71.5" width="0.7" height="0.7" fill="rgb(156,156,156)" opacity="1.0"/>
<rect x="192.2" y="63.8" width="0.9" height="0.9" fill="rgb(116,116,116)" opacity="1.0"/>
<rect x="180.4" y="66.7" width="0.8" height="0.8" fill="rgb(137,137,137)" opacity="1.0"/>
<rect x="178.1" y="71.7" width="1.0" height="1.0" fill="rgb(116,116,116)" opacity="1.0"/>
<rect x="175.1" y="64.7" width="0.9" height="0.9" fill="rgb(105,105,105)" opacity="1.0"/>
<rect x="183.2" y="66.7" width="0.7" height="0.7" fill="rgb(122,122,122)" opacity="1.0"/>
<rect x="177.9" y="56.7" width="1.0" height="1.0" fill="rgb(143,143,143)" opacity="1.0"/>
<rect x="183.7" y="67.3" width="0.7" height="0.7" fill="rgb(164,164,164)" opacity="1.0"/>
<rect x="175.5" y="68.4" width="1.0" height="1.0" fill="rgb(157,157,157)" opacity="1.0"/>
<rect x="199.7" y="71.9" width="0.7" height="0.7" fill="rgb(149,149,149)" opacity="1.0"/>
<rect x="174.8" y="68.9" width="0.8" height="0.8" fill="rgb(114,114,114)" opacity="1.0"/>
<rect x="181.7" y="60.1" width="0.7" height="0.7" fill="rgb(108,108,108)" opacity="1.0"/>
<rect x="184.0" y="69.6" width="0.8" height="0.8" fill="rgb(142,142,142)" opacity="1.0"/>
<rect x="176.2" y="65.3" width="0.9" height="0.9" fill="rgb(106,106,106)" opacity="1.0"/>
<rect x="179.3" y="69.0" width="0.7" height="0.7" fill="rgb(119,119,119)" opacity="1.0"/>
<rect x="177.5" y="60.6" width="0.9" height="0.9" fill="rgb(144,144,144)" opacity="1.0"/>
<rect x="179.6" y="69.4" width="0.7" height="0.7" fill="rgb(125,125,125)" opacity="1.0"/>
<rect x="184.5" y="61.6" width="0.8" height="0.8" fill="rgb(152,152,152)" opacity="1.0"/>
<rect x="184.0" y="67.0" width="0.7" height="0.7" fill="rgb(136,136,136)" opacity="1.0"/>
<rect x="176.3" y="62.7" width="0.9" height="0.9" fill="rgb(100,100,100)" opacity="1.0"/>
<rect x="195.0" y="69.0" width="0.8" height="0.8" fill="rgb(107,107,107)" opacity="1.0"/>
<rect x="177.0" y="65.8" width="0.7" height="0.7" fill="rgb(91,91,91)" opacity="1.0"/>
<rect x="174.6" y="61.2" width="0.6" height="0.6" fill="rgb(167,167,167)" opacity="1.0"/>
<rect x="174.9" y="60.2" width="0.7" height="0.7" fill="rgb(147,147,147)" opacity="1.0"/>
<rect x="174.9" y="71.0" width="0.7" height="0.7" fill="rgb(158,158,158)" opacity="1.0"/>
<rect x="151.4" y="73.8" width="23.1" height="20.0" fill="url(#bg)" opacity="1.0" filter="url(#rough)"/>
<rect x="174.5" y="74.0" width="13.5" height="16.0" fill="url(#fd)" opacity="0.15" filter="url(#rough)"/>
<rect x="188.1" y="86.2" width="0.9" height="0.9" fill="rgb(101,101,101)" opacity="1.0"/>
<rect x="188.2" y="89.8" width="0.7" height="0.7" fill="rgb(128,128,128)" opacity="1.0"/>
<rect x="182.3" y="84.6" width="0.9" height="0.9" fill="rgb(146,146,146)" opacity="1.0"/>
<rect x="174.7" y="76.4" width="0.7" height="0.7" fill="rgb(143,143,143)" opacity="1.0"/>
<rect x="174.7" y="83.9" width="0.8" height="0.8" fill="rgb(97,97,97)" opacity="1.0"/>
<rect x="188.6" y="88.0" width="0.8" height="0.8" fill="rgb(121,121,121)" opacity="1.0"/>
<rect x="179.0" y="91.3" width="0.7" height="0.7" fill="rgb(90,90,90)" opacity="1.0"/>
<rect x="175.9" y="87.9" width="0.9" height="0.9" fill="rgb(153,153,153)" opacity="1.0"/>
<rect x="186.4" y="81.5" width="1.0" height="1.0" fill="rgb(143,143,143)" opacity="1.0"/>
<rect x="181.9" y="77.6" width="0.9" height="0.9" fill="rgb(136,136,136)" opacity="1.0"/>
<rect x="174.5" y="86.2" width="0.9" height="0.9" fill="rgb(132,132,132)" opacity="1.0"/>
<rect x="174.6" y="83.7" width="0.6" height="0.6" fill="rgb(108,108,108)" opacity="1.0"/>
<rect x="182.9" y="86.5" width="0.6" height="0.6" fill="rgb(133,133,133)" opacity="1.0"/>
<rect x="181.5" y="80.8" width="0.8" height="0.8" fill="rgb(157,157,157)" opacity="1.0"/>
<rect x="188.8" y="79.7" width="0.8" height="0.8" fill="rgb(133,133,133)" opacity="1.0"/>
<rect x="179.3" y="90.5" width="0.7" height="0.7" fill="rgb(127,127,127)" opacity="1.0"/>
<rect x="178.2" y="80.7" width="0.9" height="0.9" fill="rgb(124,124,124)" opacity="1.0"/>
<rect x="176.2" y="78.1" width="0.9" height="0.9" fill="rgb(153,153,153)" opacity="1.0"/>
<rect x="176.0" y="80.3" width="0.7" height="0.7" fill="rgb(128,128,128)" opacity="1.0"/>
<rect x="191.0" y="75.8" width="0.8" height="0.8" fill="rgb(95,95,95)" opacity="1.0"/>
<rect x="179.3" y="82.1" width="0.6" height="0.6" fill="rgb(163,163,163)" opacity="1.0"/>
<rect x="175.7" y="74.1" width="0.9" height="0.9" fill="rgb(114,114,114)" opacity="1.0"/>
<rect x="177.9" y="89.3" width="0.9" height="0.9" fill="rgb(97,97,97)" opacity="1.0"/>
<rect x="188.7" y="86.2" width="0.7" height="0.7" fill="rgb(168,168,168)" opacity="1.0"/>
<rect x="181.8" y="87.8" width="0.7" height="0.7" fill="rgb(100,100,100)" opacity="1.0"/>
<rect x="181.7" y="83.2" width="0.6" height="0.6" fill="rgb(112,112,112)" opacity="1.0"/>
<rect x="174.9" y="74.7" width="1.0" height="1.0" fill="rgb(102,102,102)" opacity="1.0"/>
<rect x="181.4" y="81.4" width="0.9" height="0.9" fill="rgb(107,107,107)" opacity="1.0"/>
<rect x="179.4" y="79.2" width="0.7" height="0.7" fill="rgb(128,128,128)" opacity="1.0"/>
<rect x="174.5" y="74.4" width="0.9" height="0.9" fill="rgb(162,162,162)" opacity="1.0"/>
<rect x="189.6" y="75.1" width="0.8" height="0.8" fill="rgb(162,162,162)" opacity="1.0"/>
<rect x="186.0" y="89.5" width="0.8" height="0.8" fill="rgb(143,143,143)" opacity="1.0"/>
<rect x="189.0" y="82.9" width="0.9" height="0.9" fill="rgb(91,91,91)" opacity="1.0"/>
<rect x="180.1" y="93.9" width="0.8" height="0.8" fill="rgb(109,109,109)" opacity="1.0"/>
<rect x="177.0" y="76.0" width="0.7" height="0.7" fill="rgb(150,150,150)" opacity="1.0"/>
<rect x="174.8" y="74.3" width="0.6" height="0.6" fill="rgb(90,90,90)" opacity="1.0"/>
<rect x="181.7" y="93.7" width="0.7" height="0.7" fill="rgb(101,101,101)" opacity="1.0"/>
<rect x="174.7" y="83.4" width="0.9" height="0.9" fill="rgb(125,125,125)" opacity="1.0"/>
<rect x="175.3" y="88.7" width="1.0" height="1.0" fill="rgb(113,113,113)" opacity="1.0"/>
<rect x="176.4" y="88.9" width="0.9" height="0.9" fill="rgb(108,108,108)" opacity="1.0"/>
<rect x="174.6" y="86.6" width="0.8" height="0.8" fill="rgb(153,153,153)" opacity="1.0"/>
<rect x="189.5" y="79.1" width="0.9" height="0.9" fill="rgb(96,96,96)" opacity="1.0"/>
<rect x="174.5" y="74.3" width="0.6" height="0.6" fill="rgb(169,169,169)" opacity="1.0"/>
<rect x="175.8" y="88.6" width="1.0" height="1.0" fill="rgb(111,111,111)" opacity="1.0"/>
<rect x="186.3" y="86.2" width="0.7" height="0.7" fill="rgb(130,130,130)" opacity="1.0"/>
<rect x="151.00" y="19.60" width="86.70" height="74.70" fill="none" stroke="#1a1a1a" stroke-width="1.2"/>
<line x1="174.50" y1="19.60" x2="174.50" y2="94.30" stroke="#1a1a1a" stroke-width="1.2"/>
<line x1="151.00" y1="73.10" x2="237.70" y2="73.10" stroke="#1a1a1a" stroke-width="1.2"/>
<polyline points="182.3,73.1 182.3,48.6 213.2,48.6 213.2,73.1" fill="none" stroke="#1a1a1a" stroke-width="1.2"/>
<text x="212.71" y="33.30" font-size="14" fill="#000" stroke="#000" stroke-width="0" textLength="20.35" lengthAdjust="spacingAndGlyphs">4.9</text>
<text x="187.47" y="45.80" font-size="14" fill="#4d4d4d" stroke="#4d4d4d" stroke-width="0" textLength="20.42" lengthAdjust="spacingAndGlyphs">2.6</text>
<rect x="241.4" y="56.5" width="23.1" height="12.0" fill="url(#bg)" opacity="1.0" filter="url(#rough)"/>
<rect x="254.4" y="56.3" width="0.9" height="0.9" fill="rgb(113,113,113)" opacity="1.0"/>
<rect x="263.2" y="55.0" width="0.9" height="0.9" fill="rgb(111,111,111)" opacity="1.0"/>
<rect x="259.5" y="56.4" width="1.2" height="1.2" fill="rgb(119,119,119)" opacity="1.0"/>
<rect x="262.8" y="57.6" width="1.0" height="1.0" fill="rgb(106,106,106)" opacity="1.0"/>
<rect x="247.7" y="57.0" width="1.2" height="1.2" fill="rgb(111,111,111)" opacity="1.0"/>
<rect x="260.1" y="55.8" width="1.2" height="1.2" fill="rgb(108,108,108)" opacity="1.0"/>
<rect x="241.8" y="55.1" width="1.1" height="1.1" fill="rgb(89,89,89)" opacity="1.0"/>
<rect x="263.5" y="55.5" width="1.1" height="1.1" fill="rgb(94,94,94)" opacity="1.0"/>
<rect x="255.0" y="58.1" width="0.9" height="0.9" fill="rgb(98,98,98)" opacity="1.0"/>
<rect x="241.4" y="55.6" width="0.9" height="0.9" fill="rgb(97,97,97)" opacity="1.0"/>
<rect x="262.2" y="57.6" width="0.8" height="0.8" fill="rgb(120,120,120)" opacity="1.0"/>
<rect x="260.2" y="57.7" width="0.9" height="0.9" fill="rgb(106,106,106)" opacity="1.0"/>
<rect x="263.4" y="57.7" width="1.1" height="1.1" fill="rgb(105,105,105)" opacity="1.0"/>
<rect x="262.1" y="55.9" width="1.1" height="1.1" fill="rgb(75,75,75)" opacity="1.0"/>
<rect x="252.4" y="56.0" width="1.2" height="1.2" fill="rgb(120,120,120)" opacity="1.0"/>
<rect x="262.5" y="55.4" width="0.8" height="0.8" fill="rgb(108,108,108)" opacity="1.0"/>
<rect x="250.3" y="57.3" width="1.1" height="1.1" fill="rgb(86,86,86)" opacity="1.0"/>
<rect x="241.6" y="56.0" width="0.8" height="0.8" fill="rgb(104,104,104)" opacity="1.0"/>
<rect x="259.6" y="57.6" width="1.0" height="1.0" fill="rgb(84,84,84)" opacity="1.0"/>
<rect x="253.2" y="55.5" width="1.0" height="1.0" fill="rgb(103,103,103)" opacity="1.0"/>
<rect x="252.8" y="55.3" width="0.9" height="0.9" fill="rgb(83,83,83)" opacity="1.0"/>
<rect x="245.5" y="57.3" width="1.1" height="1.1" fill="rgb(93,93,93)" opacity="1.0"/>
<rect x="249.5" y="57.6" width="0.9" height="0.9" fill="rgb(79,79,79)" opacity="1.0"/>
<rect x="262.3" y="56.5" width="1.0" height="1.0" fill="rgb(76,76,76)" opacity="1.0"/>
<rect x="251.9" y="54.8" width="1.1" height="1.1" fill="rgb(90,90,90)" opacity="1.0"/>
<rect x="249.2" y="56.6" width="0.8" height="0.8" fill="rgb(71,71,71)" opacity="1.0"/>
<rect x="246.0" y="58.0" width="1.0" height="1.0" fill="rgb(106,106,106)" opacity="1.0"/>
<rect x="254.2" y="55.5" width="0.9" height="0.9" fill="rgb(119,119,119)" opacity="1.0"/>
<rect x="243.6" y="56.3" width="1.2" height="1.2" fill="rgb(107,107,107)" opacity="1.0"/>
<rect x="263.2" y="55.5" width="1.0" height="1.0" fill="rgb(72,72,72)" opacity="1.0"/>
<rect x="263.9" y="56.0" width="0.8" height="0.8" fill="rgb(71,71,71)" opacity="1.0"/>
<rect x="254.0" y="58.0" width="1.0" height="1.0" fill="rgb(99,99,99)" opacity="1.0"/>
<rect x="260.5" y="58.1" width="1.1" height="1.1" fill="rgb(108,108,108)" opacity="1.0"/>
<rect x="262.2" y="57.3" width="0.9" height="0.9" fill="rgb(75,75,75)" opacity="1.0"/>
<rect x="254.2" y="57.1" width="1.1" height="1.1" fill="rgb(112,112,112)" opacity="1.0"/>
<rect x="245.5" y="57.9" width="1.3" height="1.3" fill="rgb(93,93,93)" opacity="1.0"/>
<rect x="263.8" y="55.4" width="1.3" height="1.3" fill="rgb(72,72,72)" opacity="1.0"/>
<rect x="262.7" y="54.7" width="1.3" height="1.3" fill="rgb(105,105,105)" opacity="1.0"/>
<rect x="260.3" y="54.7" width="1.1" height="1.1" fill="rgb(120,120,120)" opacity="1.0"/>
<rect x="258.1" y="57.5" width="0.8" height="0.8" fill="rgb(100,100,100)" opacity="1.0"/>
<rect x="244.7" y="57.5" width="1.1" height="1.1" fill="rgb(82,82,82)" opacity="1.0"/>
<rect x="248.2" y="56.9" width="1.1" height="1.1" fill="rgb(118,118,118)" opacity="1.0"/>
<rect x="252.0" y="56.0" width="0.9" height="0.9" fill="rgb(94,94,94)" opacity="1.0"/>
<rect x="252.3" y="55.2" width="1.2" height="1.2" fill="rgb(85,85,85)" opacity="1.0"/>
<rect x="262.1" y="58.1" width="1.2" height="1.2" fill="rgb(99,99,99)" opacity="1.0"/>
<rect x="247.4" y="67.7" width="0.6" height="0.6" fill="rgb(128,128,128)" opacity="1.0"/>
<rect x="260.3" y="69.5" width="0.9" height="0.9" fill="rgb(117,117,117)" opacity="1.0"/>
<rect x="270.7" y="72.4" width="0.9" height="0.9" fill="rgb(149,149,149)" opacity="1.0"/>
<rect x="260.6" y="69.9" width="0.7" height="0.7" fill="rgb(143,143,143)" opacity="1.0"/>
<rect x="248.6" y="68.1" width="0.7" height="0.7" fill="rgb(146,146,146)" opacity="1.0"/>
<rect x="248.2" y="67.8" width="0.8" height="0.8" fill="rgb(157,157,157)" opacity="1.0"/>
<rect x="245.8" y="72.1" width="0.8" height="0.8" fill="rgb(134,134,134)" opacity="1.0"/>
<rect x="249.0" y="67.6" width="0.9" height="0.9" fill="rgb(173,173,173)" opacity="1.0"/>
<rect x="251.6" y="68.4" width="0.6" height="0.6" fill="rgb(162,162,162)" opacity="1.0"/>
<rect x="255.4" y="70.1" width="1.0" height="1.0" fill="rgb(119,119,119)" opacity="1.0"/>
<rect x="243.1" y="72.2" width="1.0" height="1.0" fill="rgb(185,185,185)" opacity="1.0"/>
<rect x="258.5" y="71.9" width="0.7" height="0.7" fill="rgb(115,115,115)" opacity="1.0"/>
<rect x="247.6" y="69.4" width="1.0" height="1.0" fill="rgb(133,133,133)" opacity="1.0"/>
<rect x="269.7" y="68.0" width="0.8" height="0.8" fill="rgb(137,137,137)" opacity="1.0"/>
<rect x="246.4" y="71.9" width="0.7" height="0.7" fill="rgb(137,137,137)" opacity="1.0"/>
<rect x="261.0" y="69.8" width="0.7" height="0.7" fill="rgb(164,164,164)" opacity="1.0"/>
<rect x="245.7" y="67.5" width="0.7" height="0.7" fill="rgb(167,167,167)" opacity="1.0"/>
<rect x="252.4" y="67.7" width="0.7" height="0.7" fill="rgb(152,152,152)" opacity="1.0"/>
<rect x="258.9" y="68.2" width="0.8" height="0.8" fill="rgb(123,123,123)" opacity="1.0"/>
<rect x="248.5" y="68.4" width="0.6" height="0.6" fill="rgb(176,176,176)" opacity="1.0"/>
<rect x="244.1" y="70.7" width="0.9" height="0.9" fill="rgb(163,163,163)" opacity="1.0"/>
<rect x="246.8" y="68.2" width="0.9" height="0.9" fill="rgb(185,185,185)" opacity="1.0"/>
<rect x="266.2" y="70.6" width="0.6" height="0.6" fill="rgb(125,125,125)" opacity="1.0"/>
<rect x="262.6" y="70.3" width="0.8" height="0.8" fill="rgb(107,107,107)" opacity="1.0"/>
<rect x="252.0" y="69.0" width="0.9" height="0.9" fill="rgb(181,181,181)" opacity="1.0"/>
<rect x="256.5" y="67.6" width="0.7" height="0.7" fill="rgb(161,161,161)" opacity="1.0"/>
<rect x="261.8" y="68.8" width="0.9" height="0.9" fill="rgb(172,172,172)" opacity="1.0"/>
<rect x="252.6" y="68.4" width="0.8" height="0.8" fill="rgb(147,147,147)" opacity="1.0"/>
<rect x="267.7" y="69.4" width="1.0" height="1.0" fill="rgb(157,157,157)" opacity="1.0"/>
<rect x="243.6" y="69.4" width="0.9" height="0.9" fill="rgb(131,131,131)" opacity="1.0"/>
<rect x="267.9" y="69.2" width="0.8" height="0.8" fill="rgb(148,148,148)" opacity="1.0"/>
<rect x="268.9" y="69.0" width="1.0" height="1.0" fill="rgb(113,113,113)" opacity="1.0"/>
<rect x="256.5" y="70.2" width="0.9" height="0.9" fill="rgb(167,167,167)" opacity="1.0"/>
<rect x="245.5" y="68.8" width="0.7" height="0.7" fill="rgb(111,111,111)" opacity="1.0"/>
<rect x="247.0" y="68.0" width="0.8" height="0.8" fill="rgb(132,132,132)" opacity="1.0"/>
<rect x="270.6" y="67.6" width="0.9" height="0.9" fill="rgb(189,189,189)" opacity="1.0"/>
<rect x="249.4" y="71.9" width="0.8" height="0.8" fill="rgb(181,181,181)" opacity="1.0"/>
<rect x="257.4" y="71.2" width="0.7" height="0.7" fill="rgb(113,113,113)" opacity="1.0"/>
<rect x="244.3" y="68.4" width="0.6" height="0.6" fill="rgb(134,134,134)" opacity="1.0"/>
<rect x="256.5" y="70.2" width="0.6" height="0.6" fill="rgb(135,135,135)" opacity="1.0"/>
<rect x="245.1" y="72.2" width="0.8" height="0.8" fill="rgb(169,169,169)" opacity="1.0"/>
<rect x="267.7" y="68.3" width="0.8" height="0.8" fill="rgb(173,173,173)" opacity="1.0"/>
<rect x="253.5" y="72.5" width="1.0" height="1.0" fill="rgb(102,102,102)" opacity="1.0"/>
<rect x="253.3" y="69.7" width="0.8" height="0.8" fill="rgb(177,177,177)" opacity="1.0"/>
<rect x="253.5" y="72.5" width="0.7" height="0.7" fill="rgb(146,146,146)" opacity="1.0"/>
<rect x="248.8" y="69.3" width="0.9" height="0.9" fill="rgb(155,155,155)" opacity="1.0"/>
<rect x="258.7" y="72.7" width="0.9" height="0.9" fill="rgb(141,141,141)" opacity="1.0"/>
<rect x="267.3" y="67.8" width="0.7" height="0.7" fill="rgb(166,166,166)" opacity="1.0"/>
<rect x="262.2" y="69.4" width="0.9" height="0.9" fill="rgb(154,154,154)" opacity="1.0"/>
<rect x="241.8" y="68.1" width="0.6" height="0.6" fill="rgb(123,123,123)" opacity="1.0"/>
<rect x="264.5" y="57.0" width="15.5" height="13.0" fill="url(#fd)" opacity="0.85" filter="url(#rough)"/>
<rect x="266.6" y="64.1" width="0.7" height="0.7" fill="rgb(92,92,92)" opacity="1.0"/>
<rect x="266.5" y="62.6" width="0.9" height="0.9" fill="rgb(148,148,148)" opacity="1.0"/>
<rect x="273.0" y="69.4" width="0.6" height="0.6" fill="rgb(95,95,95)" opacity="1.0"/>
<rect x="269.6" y="60.7" width="0.7" height="0.7" fill="rgb(169,169,169)" opacity="1.0"/>
<rect x="268.0" y="69.9" width="0.6" height="0.6" fill="rgb(169,169,169)" opacity="1.0"/>
<rect x="264.6" y="57.2" width="1.0" height="1.0" fill="rgb(120,120,120)" opacity="1.0"/>
<rect x="265.4" y="61.3" width="0.6" height="0.6" fill="rgb(111,111,111)" opacity="1.0"/>
<rect x="268.8" y="70.4" width="1.0" height="1.0" fill="rgb(155,155,155)" opacity="1.0"/>
<rect x="264.6" y="65.3" width="0.8" height="0.8" fill="rgb(108,108,108)" opacity="1.0"/>
<rect x="267.6" y="69.4" width="0.8" height="0.8" fill="rgb(142,142,142)" opacity="1.0"/>
<rect x="265.3" y="67.3" width="0.7" height="0.7" fill="rgb(159,159,159)" opacity="1.0"/>
<rect x="266.9" y="66.7" width="0.9" height="0.9" fill="rgb(118,118,118)" opacity="1.0"/>
<rect x="264.9" y="66.9" width="1.0" height="1.0" fill="rgb(148,148,148)" opacity="1.0"/>
<rect x="265.5" y="63.7" width="0.6" height="0.6" fill="rgb(129,129,129)" opacity="1.0"/>
<rect x="265.7" y="59.6" width="0.8" height="0.8" fill="rgb(159,159,159)" opacity="1.0"/>
<rect x="268.7" y="57.2" width="0.7" height="0.7" fill="rgb(135,135,135)" opacity="1.0"/>
<rect x="276.6" y="61.5" width="0.8" height="0.8" fill="rgb(131,131,131)" opacity="1.0"/>
<rect x="265.4" y="70.8" width="0.6" height="0.6" fill="rgb(127,127,127)" opacity="1.0"/>
<rect x="264.5" y="64.7" width="0.9" height="0.9" fill="rgb(167,167,167)" opacity="1.0"/>
<rect x="266.7" y="57.9" width="0.9" height="0.9" fill="rgb(139,139,139)" opacity="1.0"/>
<rect x="265.9" y="67.7" width="0.7" height="0.7" fill="rgb(156,156,156)" opacity="1.0"/>
<rect x="276.8" y="67.3" width="0.8" height="0.8" fill="rgb(109,109,109)" opacity="1.0"/>
<rect x="270.1" y="59.0" width="0.8" height="0.8" fill="rgb(115,115,115)" opacity="1.0"/>
<rect x="273.9" y="68.5" width="0.6" height="0.6" fill="rgb(156,156,156)" opacity="1.0"/>
<rect x="274.1" y="69.9" width="0.7" height="0.7" fill="rgb(150,150,150)" opacity="1.0"/>
<rect x="269.4" y="65.8" width="0.8" height="0.8" fill="rgb(106,106,106)" opacity="1.0"/>
<rect x="264.6" y="62.7" width="0.8" height="0.8" fill="rgb(160,160,160)" opacity="1.0"/>
<rect x="267.4" y="70.5" width="0.7" height="0.7" fill="rgb(163,163,163)" opacity="1.0"/>
<rect x="273.9" y="60.9" width="0.8" height="0.8" fill="rgb(169,169,169)" opacity="1.0"/>
<rect x="266.1" y="63.3" width="0.7" height="0.7" fill="rgb(148,148,148)" opacity="1.0"/>
<rect x="265.9" y="61.9" width="0.8" height="0.8" fill="rgb(157,157,157)" opacity="1.0"/>
<rect x="266.1" y="61.5" width="0.8" height="0.8" fill="rgb(153,153,153)" opacity="1.0"/>
<rect x="265.5" y="64.5" width="0.8" height="0.8" fill="rgb(108,108,108)" opacity="1.0"/>
<rect x="266.1" y="60.2" width="0.7" height="0.7" fill="rgb(132,132,132)" opacity="1.0"/>
<rect x="273.8" y="68.7" width="0.7" height="0.7" fill="rgb(131,131,131)" opacity="1.0"/>
<rect x="266.6" y="69.7" width="0.6" height="0.6" fill="rgb(91,91,91)" opacity="1.0"/>
<rect x="265.2" y="69.5" width="1.0" height="1.0" fill="rgb(128,128,128)" opacity="1.0"/>
<rect x="272.2" y="64.5" width="0.8" height="0.8" fill="rgb(145,145,145)" opacity="1.0"/>
<rect x="267.7" y="66.6" width="0.8" height="0.8" fill="rgb(139,139,139)" opacity="1.0"/>
<rect x="264.5" y="66.5" width="1.0" height="1.0" fill="rgb(147,147,147)" opacity="1.0"/>
<rect x="270.2" y="64.4" width="0.8" height="0.8" fill="rgb(102,102,102)" opacity="1.0"/>
<rect x="267.4" y="66.1" width="0.7" height="0.7" fill="rgb(163,163,163)" opacity="1.0"/>
<rect x="264.8" y="62.9" width="0.8" height="0.8" fill="rgb(141,141,141)" opacity="1.0"/>
<rect x="269.3" y="70.9" width="0.9" height="0.9" fill="rgb(133,133,133)" opacity="1.0"/>
<rect x="271.6" y="58.3" width="0.7" height="0.7" fill="rgb(136,136,136)" opacity="1.0"/>
<rect x="277.4" y="68.6" width="0.7" height="0.7" fill="rgb(155,155,155)" opacity="1.0"/>
<rect x="269.8" y="61.1" width="0.9" height="0.9" fill="rgb(133,133,133)" opacity="1.0"/>
<rect x="277.7" y="69.4" width="0.9" height="0.9" fill="rgb(143,143,143)" opacity="1.0"/>
<rect x="267.8" y="68.4" width="0.8" height="0.8" fill="rgb(116,116,116)" opacity="1.0"/>
<rect x="264.8" y="59.6" width="0.8" height="0.8" fill="rgb(170,170,170)" opacity="1.0"/>
<rect x="264.6" y="65.0" width="0.9" height="0.9" fill="rgb(170,170,170)" opacity="1.0"/>
<rect x="264.5" y="62.8" width="0.7" height="0.7" fill="rgb(90,90,90)" opacity="1.0"/>
<rect x="270.5" y="57.1" width="0.8" height="0.8" fill="rgb(128,128,128)" opacity="1.0"/>
<rect x="264.6" y="57.2" width="0.7" height="0.7" fill="rgb(93,93,93)" opacity="1.0"/>
<rect x="267.4" y="64.7" width="0.9" height="0.9" fill="rgb(124,124,124)" opacity="1.0"/>
<rect x="275.1" y="64.2" width="0.8" height="0.8" fill="rgb(108,108,108)" opacity="1.0"/>
<rect x="266.4" y="58.7" width="0.8" height="0.8" fill="rgb(110,110,110)" opacity="1.0"/>
<rect x="267.6" y="57.4" width="0.7" height="0.7" fill="rgb(99,99,99)" opacity="1.0"/>
<rect x="267.7" y="68.5" width="0.8" height="0.8" fill="rgb(168,168,168)" opacity="1.0"/>
<rect x="272.8" y="66.1" width="0.7" height="0.7" fill="rgb(164,164,164)" opacity="1.0"/>
<rect x="271.0" y="62.0" width="0.6" height="0.6" fill="rgb(111,111,111)" opacity="1.0"/>
<rect x="269.4" y="69.0" width="0.6" height="0.6" fill="rgb(164,164,164)" opacity="1.0"/>
<rect x="264.9" y="65.7" width="0.6" height="0.6" fill="rgb(92,92,92)" opacity="1.0"/>
<rect x="275.0" y="65.2" width="0.8" height="0.8" fill="rgb(95,95,95)" opacity="1.0"/>
<rect x="269.2" y="60.5" width="0.7" height="0.7" fill="rgb(95,95,95)" opacity="1.0"/>
<rect x="268.7" y="59.4" width="1.0" height="1.0" fill="rgb(90,90,90)" opacity="1.0"/>
<rect x="273.1" y="61.3" width="0.7" height="0.7" fill="rgb(167,167,167)" opacity="1.0"/>
<rect x="274.9" y="70.7" width="0.7" height="0.7" fill="rgb(98,98,98)" opacity="1.0"/>
<rect x="266.2" y="67.1" width="0.8" height="0.8" fill="rgb(118,118,118)" opacity="1.0"/>
<rect x="266.3" y="67.0" width="0.9" height="0.9" fill="rgb(92,92,92)" opacity="1.0"/>
<rect x="241.4" y="73.8" width="23.1" height="20.0" fill="url(#bg)" opacity="1.0" filter="url(#rough)"/>
<rect x="264.5" y="74.0" width="6.5" height="20.0" fill="url(#fd)" opacity="0.3" filter="url(#rough)"/>
<rect x="264.8" y="77.5" width="0.8" height="0.8" fill="rgb(135,135,135)" opacity="1.0"/>
<rect x="264.5" y="91.6" width="0.8" height="0.8" fill="rgb(140,140,140)" opacity="1.0"/>
<rect x="264.6" y="84.7" width="0.7" height="0.7" fill="rgb(139,139,139)" opacity="1.0"/>
<rect x="267.4" y="93.2" width="0.9" height="0.9" fill="rgb(144,144,144)" opacity="1.0"/>
<rect x="265.3" y="78.9" width="0.8" height="0.8" fill="rgb(114,114,114)" opacity="1.0"/>
<rect x="265.2" y="82.7" width="0.9" height="0.9" fill="rgb(125,125,125)" opacity="1.0"/>
<rect x="265.2" y="77.1" width="0.6" height="0.6" fill="rgb(106,106,106)" opacity="1.0"/>
<rect x="264.9" y="90.7" width="0.8" height="0.8" fill="rgb(106,106,106)" opacity="1.0"/>
<rect x="265.9" y="89.9" width="0.7" height="0.7" fill="rgb(120,120,120)" opacity="1.0"/>
<rect x="265.3" y="88.4" width="0.9" height="0.9" fill="rgb(138,138,138)" opacity="1.0"/>
<rect x="266.8" y="79.9" width="0.8" height="0.8" fill="rgb(150,150,150)" opacity="1.0"/>
<rect x="264.8" y="83.1" width="1.0" height="1.0" fill="rgb(106,106,106)" opacity="1.0"/>
<rect x="272.0" y="85.9" width="0.8" height="0.8" fill="rgb(146,146,146)" opacity="1.0"/>
<rect x="265.3" y="78.9" width="0.8" height="0.8" fill="rgb(167,167,167)" opacity="1.0"/>
<rect x="264.6" y="89.0" width="0.6" height="0.6" fill="rgb(155,155,155)" opacity="1.0"/>
<rect x="269.8" y="88.7" width="0.6" height="0.6" fill="rgb(139,139,139)" opacity="1.0"/>
<rect x="268.1" y="76.9" width="0.8" height="0.8" fill="rgb(91,91,91)" opacity="1.0"/>
<rect x="264.5" y="77.5" width="0.7" height="0.7" fill="rgb(119,119,119)" opacity="1.0"/>
<rect x="267.5" y="76.2" width="1.0" height="1.0" fill="rgb(161,161,161)" opacity="1.0"/>
<rect x="269.2" y="89.2" width="0.6" height="0.6" fill="rgb(114,114,114)" opacity="1.0"/>
<rect x="265.1" y="78.5" width="0.9" height="0.9" fill="rgb(106,106,106)" opacity="1.0"/>
<rect x="265.5" y="81.1" width="0.9" height="0.9" fill="rgb(149,149,149)" opacity="1.0"/>
<rect x="270.2" y="91.2" width="1.0" height="1.0" fill="rgb(106,106,106)" opacity="1.0"/>
<rect x="264.7" y="81.3" width="1.0" height="1.0" fill="rgb(134,134,134)" opacity="1.0"/>
<rect x="264.5" y="88.1" width="0.7" height="0.7" fill="rgb(149,149,149)" opacity="1.0"/>
<rect x="269.7" y="81.0" width="0.6" height="0.6" fill="rgb(170,170,170)" opacity="1.0"/>
<rect x="265.0" y="79.4" width="0.9" height="0.9" fill="rgb(167,167,167)" opacity="1.0"/>
<rect x="268.1" y="74.8" width="0.8" height="0.8" fill="rgb(95,95,95)" opacity="1.0"/>
<rect x="265.7" y="89.1" width="0.8" height="0.8" fill="rgb(109,109,109)" opacity="1.0"/>
<rect x="264.5" y="80.2" width="0.8" height="0.8" fill="rgb(112,112,112)" opacity="1.0"/>
<rect x="264.8" y="84.0" width="0.7" height="0.7" fill="rgb(156,156,156)" opacity="1.0"/>
<rect x="265.7" y="87.7" width="1.0" height="1.0" fill="rgb(134,134,134)" opacity="1.0"/>
<rect x="264.6" y="89.3" width="1.0" height="1.0" fill="rgb(126,126,126)" opacity="1.0"/>
<rect x="270.1" y="85.7" width="1.0" height="1.0" fill="rgb(96,96,96)" opacity="1.0"/>
<rect x="267.7" y="74.7" width="0.7" height="0.7" fill="rgb(130,130,130)" opacity="1.0"/>
<rect x="241.00" y="19.60" width="86.70" height="74.70" fill="none" stroke="#1a1a1a" stroke-width="1.2"/>
<line x1="264.50" y1="19.60" x2="264.50" y2="94.30" stroke="#1a1a1a" stroke-width="1.2"/>
<line x1="241.00" y1="73.10" x2="327.70" y2="73.10" stroke="#1a1a1a" stroke-width="1.2"/>
<polyline points="270.4,73.1 270.4,48.6 301.5,48.6 301.5,73.1" fill="none" stroke="#1a1a1a" stroke-width="1.2"/>
<text x="303.71" y="33.30" font-size="14" fill="#000" stroke="#000" stroke-width="0" textLength="19.96" lengthAdjust="spacingAndGlyphs">4.5</text>
<text x="276.43" y="45.80" font-size="14" fill="#4d4d4d" stroke="#4d4d4d" stroke-width="0" textLength="19.89" lengthAdjust="spacingAndGlyphs">0.7</text>
<ellipse cx="346.0" cy="62.3" rx="14.5" ry="5.3" fill="url(#bg4)" opacity="0.95" filter="url(#rough2)"/>
<rect x="355.9" y="59.4" width="1.0" height="1.0" fill="rgb(75,75,75)" opacity="1.0"/>
<rect x="351.6" y="60.0" width="1.2" height="1.2" fill="rgb(109,109,109)" opacity="1.0"/>
<rect x="340.0" y="57.7" width="1.3" height="1.3" fill="rgb(130,130,130)" opacity="1.0"/>
<rect x="344.1" y="58.4" width="1.2" height="1.2" fill="rgb(102,102,102)" opacity="1.0"/>
<rect x="353.7" y="59.1" width="1.1" height="1.1" fill="rgb(98,98,98)" opacity="1.0"/>
<rect x="349.9" y="58.0" width="1.1" height="1.1" fill="rgb(113,113,113)" opacity="1.0"/>
<rect x="356.2" y="57.8" width="0.9" height="0.9" fill="rgb(118,118,118)" opacity="1.0"/>
<rect x="356.8" y="59.6" width="0.9" height="0.9" fill="rgb(105,105,105)" opacity="1.0"/>
<rect x="346.7" y="59.9" width="0.9" height="0.9" fill="rgb(110,110,110)" opacity="1.0"/>
<rect x="339.5" y="59.9" width="1.0" height="1.0" fill="rgb(80,80,80)" opacity="1.0"/>
<rect x="343.3" y="58.0" width="0.9" height="0.9" fill="rgb(89,89,89)" opacity="1.0"/>
<rect x="350.2" y="58.7" width="0.9" height="0.9" fill="rgb(100,100,100)" opacity="1.0"/>
<rect x="339.0" y="58.8" width="0.9" height="0.9" fill="rgb(98,98,98)" opacity="1.0"/>
<rect x="349.0" y="59.2" width="1.2" height="1.2" fill="rgb(78,78,78)" opacity="1.0"/>
<rect x="336.5" y="58.9" width="1.1" height="1.1" fill="rgb(91,91,91)" opacity="1.0"/>
<rect x="335.9" y="58.6" width="0.9" height="0.9" fill="rgb(130,130,130)" opacity="1.0"/>
<rect x="349.7" y="59.0" width="1.2" height="1.2" fill="rgb(99,99,99)" opacity="1.0"/>
<rect x="343.2" y="58.0" width="0.9" height="0.9" fill="rgb(114,114,114)" opacity="1.0"/>
<rect x="342.0" y="58.0" width="1.2" height="1.2" fill="rgb(73,73,73)" opacity="1.0"/>
<rect x="340.6" y="57.8" width="1.0" height="1.0" fill="rgb(89,89,89)" opacity="1.0"/>
<rect x="335.8" y="58.3" width="1.1" height="1.1" fill="rgb(99,99,99)" opacity="1.0"/>
<rect x="340.2" y="58.9" width="0.8" height="0.8" fill="rgb(72,72,72)" opacity="1.0"/>
<rect x="357.8" y="59.4" width="1.2" height="1.2" fill="rgb(75,75,75)" opacity="1.0"/>
<rect x="341.3" y="59.3" width="0.9" height="0.9" fill="rgb(86,86,86)" opacity="1.0"/>
<rect x="345.2" y="58.6" width="1.2" height="1.2" fill="rgb(82,82,82)" opacity="1.0"/>
<rect x="341.0" y="58.4" width="1.1" height="1.1" fill="rgb(75,75,75)" opacity="1.0"/>
<rect x="348.7" y="59.8" width="1.1" height="1.1" fill="rgb(111,111,111)" opacity="1.0"/>
<rect x="349.3" y="57.7" width="0.8" height="0.8" fill="rgb(117,117,117)" opacity="1.0"/>
<rect x="352.4" y="59.6" width="1.0" height="1.0" fill="rgb(88,88,88)" opacity="1.0"/>
<rect x="357.1" y="58.8" width="1.3" height="1.3" fill="rgb(127,127,127)" opacity="1.0"/>
<rect x="337.0" y="71.1" width="0.9" height="0.9" fill="rgb(139,139,139)" opacity="1.0"/>
<rect x="341.4" y="67.2" width="0.7" height="0.7" fill="rgb(145,145,145)" opacity="1.0"/>
<rect x="342.6" y="69.6" width="0.9" height="0.9" fill="rgb(147,147,147)" opacity="1.0"/>
<rect x="339.4" y="66.4" width="0.8" height="0.8" fill="rgb(113,113,113)" opacity="1.0"/>
<rect x="349.7" y="71.3" width="0.8" height="0.8" fill="rgb(190,190,190)" opacity="1.0"/>
<rect x="333.8" y="67.4" width="0.8" height="0.8" fill="rgb(154,154,154)" opacity="1.0"/>
<rect x="336.7" y="67.9" width="0.9" height="0.9" fill="rgb(174,174,174)" opacity="1.0"/>
<rect x="336.3" y="67.5" width="0.8" height="0.8" fill="rgb(117,117,117)" opacity="1.0"/>
<rect x="359.2" y="66.6" width="0.9" height="0.9" fill="rgb(105,105,105)" opacity="1.0"/>
<rect x="345.6" y="67.4" width="0.6" height="0.6" fill="rgb(147,147,147)" opacity="1.0"/>
<rect x="355.6" y="71.6" width="0.8" height="0.8" fill="rgb(165,165,165)" opacity="1.0"/>
<rect x="340.2" y="70.3" width="0.9" height="0.9" fill="rgb(165,165,165)" opacity="1.0"/>
<rect x="357.0" y="66.4" width="0.9" height="0.9" fill="rgb(101,101,101)" opacity="1.0"/>
<rect x="355.2" y="71.9" width="0.8" height="0.8" fill="rgb(121,121,121)" opacity="1.0"/>
<rect x="332.5" y="71.2" width="0.7" height="0.7" fill="rgb(186,186,186)" opacity="1.0"/>
<rect x="337.8" y="66.6" width="0.8" height="0.8" fill="rgb(141,141,141)" opacity="1.0"/>
<rect x="344.2" y="69.5" width="0.9" height="0.9" fill="rgb(180,180,180)" opacity="1.0"/>
<rect x="359.3" y="72.3" width="0.6" height="0.6" fill="rgb(179,179,179)" opacity="1.0"/>
<rect x="354.7" y="70.7" width="0.8" height="0.8" fill="rgb(142,142,142)" opacity="1.0"/>
<rect x="340.6" y="69.7" width="0.8" height="0.8" fill="rgb(147,147,147)" opacity="1.0"/>
<rect x="350.3" y="67.9" width="0.8" height="0.8" fill="rgb(143,143,143)" opacity="1.0"/>
<rect x="349.9" y="71.5" width="0.9" height="0.9" fill="rgb(128,128,128)" opacity="1.0"/>
<rect x="344.7" y="66.6" width="0.8" height="0.8" fill="rgb(184,184,184)" opacity="1.0"/>
<rect x="347.7" y="72.1" width="0.8" height="0.8" fill="rgb(146,146,146)" opacity="1.0"/>
<rect x="348.0" y="68.6" width="0.7" height="0.7" fill="rgb(114,114,114)" opacity="1.0"/>
<rect x="359.1" y="67.3" width="0.7" height="0.7" fill="rgb(114,114,114)" opacity="1.0"/>
<rect x="355.5" y="70.2" width="0.8" height="0.8" fill="rgb(124,124,124)" opacity="1.0"/>
<rect x="339.3" y="69.2" width="0.8" height="0.8" fill="rgb(170,170,170)" opacity="1.0"/>
<rect x="347.3" y="70.5" width="1.0" height="1.0" fill="rgb(165,165,165)" opacity="1.0"/>
<rect x="348.0" y="71.5" width="0.6" height="0.6" fill="rgb(186,186,186)" opacity="1.0"/>
<rect x="344.5" y="71.6" width="0.8" height="0.8" fill="rgb(170,170,170)" opacity="1.0"/>
<rect x="355.5" y="72.2" width="1.0" height="1.0" fill="rgb(180,180,180)" opacity="1.0"/>
<rect x="352.3" y="66.7" width="0.8" height="0.8" fill="rgb(187,187,187)" opacity="1.0"/>
<rect x="337.1" y="72.2" width="0.8" height="0.8" fill="rgb(172,172,172)" opacity="1.0"/>
<rect x="335.0" y="68.4" width="0.6" height="0.6" fill="rgb(179,179,179)" opacity="1.0"/>
<rect x="338.9" y="68.4" width="0.9" height="0.9" fill="rgb(101,101,101)" opacity="1.0"/>
<rect x="358.8" y="69.0" width="0.9" height="0.9" fill="rgb(115,115,115)" opacity="1.0"/>
<rect x="344.2" y="71.8" width="1.0" height="1.0" fill="rgb(179,179,179)" opacity="1.0"/>
<rect x="338.0" y="66.7" width="0.7" height="0.7" fill="rgb(145,145,145)" opacity="1.0"/>
<rect x="353.0" y="68.2" width="0.6" height="0.6" fill="rgb(187,187,187)" opacity="1.0"/>
<rect x="339.5" y="67.6" width="0.9" height="0.9" fill="rgb(165,165,165)" opacity="1.0"/>
<rect x="358.6" y="70.7" width="0.9" height="0.9" fill="rgb(105,105,105)" opacity="1.0"/>
<rect x="342.2" y="68.3" width="0.9" height="0.9" fill="rgb(141,141,141)" opacity="1.0"/>
<rect x="335.5" y="72.0" width="0.7" height="0.7" fill="rgb(186,186,186)" opacity="1.0"/>
<rect x="342.2" y="70.5" width="0.9" height="0.9" fill="rgb(102,102,102)" opacity="1.0"/>
<rect x="356.4" y="58.0" width="9.6" height="11.0" fill="url(#fd)" opacity="0.5" filter="url(#rough)"/>
<rect x="359.6" y="59.4" width="0.8" height="0.8" fill="rgb(92,92,92)" opacity="1.0"/>
<rect x="356.4" y="61.1" width="0.8" height="0.8" fill="rgb(109,109,109)" opacity="1.0"/>
<rect x="357.1" y="66.2" width="0.9" height="0.9" fill="rgb(138,138,138)" opacity="1.0"/>
<rect x="359.7" y="61.0" width="1.0" height="1.0" fill="rgb(124,124,124)" opacity="1.0"/>
<rect x="356.4" y="62.1" width="0.8" height="0.8" fill="rgb(109,109,109)" opacity="1.0"/>
<rect x="358.5" y="58.4" width="0.6" height="0.6" fill="rgb(94,94,94)" opacity="1.0"/>
<rect x="360.1" y="65.7" width="0.8" height="0.8" fill="rgb(166,166,166)" opacity="1.0"/>
<rect x="358.5" y="59.9" width="0.8" height="0.8" fill="rgb(147,147,147)" opacity="1.0"/>
<rect x="364.3" y="65.3" width="0.7" height="0.7" fill="rgb(99,99,99)" opacity="1.0"/>
<rect x="359.0" y="61.7" width="0.8" height="0.8" fill="rgb(106,106,106)" opacity="1.0"/>
<rect x="356.4" y="60.0" width="0.9" height="0.9" fill="rgb(136,136,136)" opacity="1.0"/>
<rect x="357.3" y="63.6" width="0.7" height="0.7" fill="rgb(135,135,135)" opacity="1.0"/>
<rect x="357.4" y="63.8" width="0.6" height="0.6" fill="rgb(119,119,119)" opacity="1.0"/>
<rect x="358.3" y="69.8" width="0.9" height="0.9" fill="rgb(95,95,95)" opacity="1.0"/>
<rect x="361.7" y="59.7" width="0.7" height="0.7" fill="rgb(139,139,139)" opacity="1.0"/>
<rect x="358.7" y="61.1" width="0.8" height="0.8" fill="rgb(162,162,162)" opacity="1.0"/>
<rect x="359.7" y="59.7" width="1.0" height="1.0" fill="rgb(94,94,94)" opacity="1.0"/>
<rect x="364.9" y="59.1" width="0.9" height="0.9" fill="rgb(115,115,115)" opacity="1.0"/>
<rect x="360.3" y="65.6" width="0.9" height="0.9" fill="rgb(136,136,136)" opacity="1.0"/>
<rect x="362.8" y="60.9" width="0.9" height="0.9" fill="rgb(108,108,108)" opacity="1.0"/>
<rect x="357.2" y="67.2" width="0.8" height="0.8" fill="rgb(136,136,136)" opacity="1.0"/>
<rect x="360.3" y="62.2" width="0.9" height="0.9" fill="rgb(160,160,160)" opacity="1.0"/>
<rect x="357.4" y="66.5" width="1.0" height="1.0" fill="rgb(131,131,131)" opacity="1.0"/>
<rect x="362.6" y="64.0" width="0.9" height="0.9" fill="rgb(121,121,121)" opacity="1.0"/>
<rect x="366.9" y="59.8" width="0.6" height="0.6" fill="rgb(116,116,116)" opacity="1.0"/>
<rect x="364.2" y="63.4" width="0.8" height="0.8" fill="rgb(147,147,147)" opacity="1.0"/>
<rect x="362.4" y="69.2" width="0.6" height="0.6" fill="rgb(165,165,165)" opacity="1.0"/>
<rect x="357.2" y="61.7" width="0.8" height="0.8" fill="rgb(163,163,163)" opacity="1.0"/>
<rect x="365.6" y="62.1" width="0.8" height="0.8" fill="rgb(114,114,114)" opacity="1.0"/>
<rect x="356.4" y="60.1" width="0.7" height="0.7" fill="rgb(164,164,164)" opacity="1.0"/>
<rect x="358.4" y="69.6" width="0.9" height="0.9" fill="rgb(144,144,144)" opacity="1.0"/>
<rect x="365.3" y="68.1" width="1.0" height="1.0" fill="rgb(130,130,130)" opacity="1.0"/>
<rect x="357.0" y="61.1" width="0.9" height="0.9" fill="rgb(92,92,92)" opacity="1.0"/>
<rect x="360.2" y="60.8" width="0.7" height="0.7" fill="rgb(92,92,92)" opacity="1.0"/>
<rect x="357.8" y="60.4" width="0.7" height="0.7" fill="rgb(167,167,167)" opacity="1.0"/>
<rect x="358.7" y="59.2" width="0.9" height="0.9" fill="rgb(120,120,120)" opacity="1.0"/>
<rect x="366.2" y="65.2" width="0.6" height="0.6" fill="rgb(100,100,100)" opacity="1.0"/>
<rect x="363.2" y="64.9" width="0.6" height="0.6" fill="rgb(107,107,107)" opacity="1.0"/>
<rect x="357.0" y="65.7" width="0.9" height="0.9" fill="rgb(91,91,91)" opacity="1.0"/>
<rect x="365.3" y="60.5" width="0.9" height="0.9" fill="rgb(131,131,131)" opacity="1.0"/>
<rect x="356.4" y="63.8" width="0.9" height="0.9" fill="rgb(168,168,168)" opacity="1.0"/>
<rect x="357.4" y="58.7" width="0.9" height="0.9" fill="rgb(143,143,143)" opacity="1.0"/>
<rect x="356.4" y="65.4" width="1.0" height="1.0" fill="rgb(153,153,153)" opacity="1.0"/>
<rect x="357.8" y="69.3" width="0.6" height="0.6" fill="rgb(91,91,91)" opacity="1.0"/>
<rect x="357.2" y="65.8" width="0.6" height="0.6" fill="rgb(130,130,130)" opacity="1.0"/>
<rect x="333.0" y="74.0" width="23.4" height="19.8" fill="url(#bg3)" opacity="0.35" filter="url(#rough)"/>
<ellipse cx="347.0" cy="84.5" rx="11.0" ry="10.0" fill="url(#bg4)" opacity="0.8" filter="url(#soft)"/>
<rect x="347.1" y="88.5" width="0.7" height="0.7" fill="rgb(112,112,112)" opacity="1.0"/>
<rect x="332.8" y="78.2" width="1.0" height="1.0" fill="rgb(137,137,137)" opacity="1.0"/>
<rect x="334.6" y="90.3" width="0.8" height="0.8" fill="rgb(124,124,124)" opacity="1.0"/>
<rect x="348.7" y="91.3" width="0.9" height="0.9" fill="rgb(89,89,89)" opacity="1.0"/>
<rect x="346.8" y="80.6" width="0.9" height="0.9" fill="rgb(164,164,164)" opacity="1.0"/>
<rect x="351.9" y="83.6" width="1.0" height="1.0" fill="rgb(74,74,74)" opacity="1.0"/>
<rect x="339.8" y="89.5" width="0.8" height="0.8" fill="rgb(160,160,160)" opacity="1.0"/>
<rect x="339.1" y="84.5" width="0.7" height="0.7" fill="rgb(105,105,105)" opacity="1.0"/>
<rect x="332.6" y="83.5" width="1.0" height="1.0" fill="rgb(153,153,153)" opacity="1.0"/>
<rect x="355.8" y="77.0" width="0.7" height="0.7" fill="rgb(150,150,150)" opacity="1.0"/>
<rect x="350.6" y="75.8" width="0.9" height="0.9" fill="rgb(73,73,73)" opacity="1.0"/>
<rect x="335.3" y="84.9" width="0.9" height="0.9" fill="rgb(96,96,96)" opacity="1.0"/>
<rect x="336.8" y="92.8" width="1.0" height="1.0" fill="rgb(116,116,116)" opacity="1.0"/>
<rect x="354.1" y="91.4" width="0.7" height="0.7" fill="rgb(169,169,169)" opacity="1.0"/>
<rect x="333.1" y="89.6" width="0.8" height="0.8" fill="rgb(101,101,101)" opacity="1.0"/>
<rect x="353.0" y="78.3" width="1.1" height="1.1" fill="rgb(114,114,114)" opacity="1.0"/>
<rect x="341.7" y="78.2" width="0.7" height="0.7" fill="rgb(73,73,73)" opacity="1.0"/>
<rect x="350.0" y="75.3" width="1.1" height="1.1" fill="rgb(152,152,152)" opacity="1.0"/>
<rect x="348.6" y="81.0" width="0.9" height="0.9" fill="rgb(99,99,99)" opacity="1.0"/>
<rect x="342.2" y="92.4" width="0.9" height="0.9" fill="rgb(154,154,154)" opacity="1.0"/>
<rect x="337.8" y="79.0" width="1.0" height="1.0" fill="rgb(103,103,103)" opacity="1.0"/>
<rect x="338.2" y="81.1" width="1.0" height="1.0" fill="rgb(111,111,111)" opacity="1.0"/>
<rect x="347.8" y="80.0" width="0.7" height="0.7" fill="rgb(133,133,133)" opacity="1.0"/>
<rect x="346.1" y="77.1" width="0.7" height="0.7" fill="rgb(168,168,168)" opacity="1.0"/>
<rect x="350.4" y="90.5" width="0.6" height="0.6" fill="rgb(106,106,106)" opacity="1.0"/>
<rect x="332.5" y="91.4" width="0.7" height="0.7" fill="rgb(101,101,101)" opacity="1.0"/>
<rect x="348.8" y="86.0" width="0.7" height="0.7" fill="rgb(127,127,127)" opacity="1.0"/>
<rect x="333.7" y="89.6" width="0.8" height="0.8" fill="rgb(164,164,164)" opacity="1.0"/>
<rect x="351.1" y="91.3" width="0.8" height="0.8" fill="rgb(93,93,93)" opacity="1.0"/>
<rect x="335.8" y="92.7" width="0.6" height="0.6" fill="rgb(157,157,157)" opacity="1.0"/>
<rect x="335.1" y="93.5" width="0.7" height="0.7" fill="rgb(71,71,71)" opacity="1.0"/>
<rect x="339.7" y="84.1" width="0.6" height="0.6" fill="rgb(115,115,115)" opacity="1.0"/>
<rect x="336.4" y="87.7" width="0.8" height="0.8" fill="rgb(81,81,81)" opacity="1.0"/>
<rect x="347.8" y="87.3" width="1.0" height="1.0" fill="rgb(120,120,120)" opacity="1.0"/>
<rect x="355.9" y="74.7" width="0.7" height="0.7" fill="rgb(100,100,100)" opacity="1.0"/>
<rect x="347.5" y="74.3" width="0.9" height="0.9" fill="rgb(87,87,87)" opacity="1.0"/>
<rect x="338.0" y="82.6" width="1.0" height="1.0" fill="rgb(83,83,83)" opacity="1.0"/>
<rect x="333.6" y="91.9" width="1.0" height="1.0" fill="rgb(78,78,78)" opacity="1.0"/>
<rect x="335.3" y="83.7" width="0.9" height="0.9" fill="rgb(87,87,87)" opacity="1.0"/>
<rect x="332.5" y="78.5" width="0.7" height="0.7" fill="rgb(139,139,139)" opacity="1.0"/>
<rect x="350.1" y="84.0" width="0.9" height="0.9" fill="rgb(84,84,84)" opacity="1.0"/>
<rect x="352.5" y="93.1" width="0.8" height="0.8" fill="rgb(79,79,79)" opacity="1.0"/>
<rect x="337.6" y="93.4" width="1.0" height="1.0" fill="rgb(98,98,98)" opacity="1.0"/>
<rect x="339.0" y="77.5" width="0.7" height="0.7" fill="rgb(103,103,103)" opacity="1.0"/>
<rect x="355.6" y="77.9" width="0.8" height="0.8" fill="rgb(76,76,76)" opacity="1.0"/>
<rect x="345.8" y="81.3" width="0.8" height="0.8" fill="rgb(71,71,71)" opacity="1.0"/>
<rect x="333.4" y="83.1" width="0.9" height="0.9" fill="rgb(106,106,106)" opacity="1.0"/>
<rect x="349.0" y="93.6" width="1.0" height="1.0" fill="rgb(165,165,165)" opacity="1.0"/>
<rect x="342.0" y="80.4" width="0.8" height="0.8" fill="rgb(123,123,123)" opacity="1.0"/>
<rect x="336.0" y="89.2" width="1.0" height="1.0" fill="rgb(122,122,122)" opacity="1.0"/>
<rect x="354.0" y="86.7" width="0.9" height="0.9" fill="rgb(100,100,100)" opacity="1.0"/>
<rect x="354.6" y="79.1" width="1.0" height="1.0" fill="rgb(148,148,148)" opacity="1.0"/>
<rect x="356.2" y="90.5" width="0.7" height="0.7" fill="rgb(154,154,154)" opacity="1.0"/>
<rect x="352.6" y="89.7" width="0.6" height="0.6" fill="rgb(161,161,161)" opacity="1.0"/>
<rect x="349.1" y="80.5" width="0.8" height="0.8" fill="rgb(152,152,152)" opacity="1.0"/>
<rect x="348.4" y="83.1" width="0.6" height="0.6" fill="rgb(143,143,143)" opacity="1.0"/>
<rect x="350.3" y="91.1" width="0.8" height="0.8" fill="rgb(135,135,135)" opacity="1.0"/>
<rect x="345.5" y="81.6" width="1.0" height="1.0" fill="rgb(150,150,150)" opacity="1.0"/>
<rect x="353.3" y="81.1" width="0.8" height="0.8" fill="rgb(78,78,78)" opacity="1.0"/>
<rect x="345.0" y="86.3" width="1.0" height="1.0" fill="rgb(156,156,156)" opacity="1.0"/>
<rect x="334.1" y="89.9" width="0.7" height="0.7" fill="rgb(155,155,155)" opacity="1.0"/>
<rect x="347.1" y="79.3" width="1.0" height="1.0" fill="rgb(130,130,130)" opacity="1.0"/>
<rect x="340.7" y="85.8" width="0.7" height="0.7" fill="rgb(143,143,143)" opacity="1.0"/>
<rect x="335.8" y="92.5" width="0.8" height="0.8" fill="rgb(137,137,137)" opacity="1.0"/>
<rect x="337.3" y="77.4" width="0.7" height="0.7" fill="rgb(116,116,116)" opacity="1.0"/>
<rect x="336.5" y="90.4" width="0.7" height="0.7" fill="rgb(128,128,128)" opacity="1.0"/>
<rect x="355.1" y="91.1" width="1.0" height="1.0" fill="rgb(153,153,153)" opacity="1.0"/>
<rect x="333.4" y="81.6" width="0.7" height="0.7" fill="rgb(124,124,124)" opacity="1.0"/>
<rect x="336.1" y="79.0" width="0.8" height="0.8" fill="rgb(83,83,83)" opacity="1.0"/>
<rect x="348.3" y="84.5" width="0.8" height="0.8" fill="rgb(108,108,108)" opacity="1.0"/>
<rect x="334.5" y="81.9" width="0.9" height="0.9" fill="rgb(127,127,127)" opacity="1.0"/>
<rect x="343.2" y="83.6" width="1.0" height="1.0" fill="rgb(92,92,92)" opacity="1.0"/>
<rect x="336.0" y="87.6" width="0.8" height="0.8" fill="rgb(116,116,116)" opacity="1.0"/>
<rect x="348.2" y="86.5" width="0.8" height="0.8" fill="rgb(136,136,136)" opacity="1.0"/>
<rect x="341.5" y="74.4" width="0.6" height="0.6" fill="rgb(95,95,95)" opacity="1.0"/>
<rect x="338.6" y="85.8" width="1.0" height="1.0" fill="rgb(109,109,109)" opacity="1.0"/>
<rect x="339.0" y="80.5" width="0.7" height="0.7" fill="rgb(100,100,100)" opacity="1.0"/>
<rect x="342.9" y="84.5" width="1.0" height="1.0" fill="rgb(133,133,133)" opacity="1.0"/>
<rect x="337.2" y="82.5" width="0.9" height="0.9" fill="rgb(107,107,107)" opacity="1.0"/>
<rect x="341.3" y="74.9" width="0.8" height="0.8" fill="rgb(126,126,126)" opacity="1.0"/>
<rect x="333.4" y="89.1" width="0.8" height="0.8" fill="rgb(122,122,122)" opacity="1.0"/>
<rect x="347.0" y="79.1" width="0.8" height="0.8" fill="rgb(100,100,100)" opacity="1.0"/>
<rect x="346.3" y="92.5" width="1.1" height="1.1" fill="rgb(94,94,94)" opacity="1.0"/>
<rect x="352.8" y="85.6" width="0.9" height="0.9" fill="rgb(78,78,78)" opacity="1.0"/>
<rect x="340.3" y="75.4" width="0.8" height="0.8" fill="rgb(166,166,166)" opacity="1.0"/>
<rect x="341.8" y="82.3" width="1.0" height="1.0" fill="rgb(152,152,152)" opacity="1.0"/>
<rect x="333.0" y="85.9" width="1.1" height="1.1" fill="rgb(129,129,129)" opacity="1.0"/>
<rect x="349.2" y="82.7" width="0.7" height="0.7" fill="rgb(130,130,130)" opacity="1.0"/>
<rect x="334.0" y="82.0" width="0.9" height="0.9" fill="rgb(87,87,87)" opacity="1.0"/>
<rect x="352.2" y="87.4" width="0.7" height="0.7" fill="rgb(164,164,164)" opacity="1.0"/>
<rect x="345.4" y="92.5" width="0.9" height="0.9" fill="rgb(107,107,107)" opacity="1.0"/>
<rect x="350.9" y="89.4" width="0.6" height="0.6" fill="rgb(85,85,85)" opacity="1.0"/>
<rect x="352.7" y="85.4" width="0.7" height="0.7" fill="rgb(71,71,71)" opacity="1.0"/>
<rect x="334.5" y="89.1" width="0.8" height="0.8" fill="rgb(142,142,142)" opacity="1.0"/>
<rect x="352.2" y="78.0" width="0.8" height="0.8" fill="rgb(112,112,112)" opacity="1.0"/>
<rect x="333.7" y="87.8" width="1.0" height="1.0" fill="rgb(123,123,123)" opacity="1.0"/>
<rect x="335.8" y="82.1" width="1.0" height="1.0" fill="rgb(76,76,76)" opacity="1.0"/>
<rect x="335.9" y="80.7" width="1.1" height="1.1" fill="rgb(136,136,136)" opacity="1.0"/>
<rect x="336.9" y="84.8" width="0.7" height="0.7" fill="rgb(136,136,136)" opacity="1.0"/>
<rect x="339.9" y="79.1" width="0.9" height="0.9" fill="rgb(108,108,108)" opacity="1.0"/>
<rect x="344.7" y="82.4" width="0.8" height="0.8" fill="rgb(76,76,76)" opacity="1.0"/>
<rect x="338.4" y="81.6" width="1.0" height="1.0" fill="rgb(125,125,125)" opacity="1.0"/>
<rect x="338.6" y="78.0" width="0.7" height="0.7" fill="rgb(76,76,76)" opacity="1.0"/>
<rect x="348.1" y="92.6" width="0.8" height="0.8" fill="rgb(154,154,154)" opacity="1.0"/>
<rect x="346.4" y="81.3" width="0.7" height="0.7" fill="rgb(113,113,113)" opacity="1.0"/>
<rect x="354.5" y="85.1" width="1.0" height="1.0" fill="rgb(76,76,76)" opacity="1.0"/>
<rect x="332.6" y="75.4" width="1.0" height="1.0" fill="rgb(142,142,142)" opacity="1.0"/>
<rect x="333.2" y="78.4" width="0.7" height="0.7" fill="rgb(126,126,126)" opacity="1.0"/>
<rect x="349.5" y="90.0" width="0.9" height="0.9" fill="rgb(145,145,145)" opacity="1.0"/>
<rect x="342.1" y="88.6" width="1.0" height="1.0" fill="rgb(96,96,96)" opacity="1.0"/>
<rect x="333.8" y="82.7" width="0.7" height="0.7" fill="rgb(151,151,151)" opacity="1.0"/>
<rect x="335.7" y="91.6" width="0.8" height="0.8" fill="rgb(146,146,146)" opacity="1.0"/>
<rect x="332.7" y="88.4" width="1.0" height="1.0" fill="rgb(164,164,164)" opacity="1.0"/>
<rect x="344.4" y="87.5" width="1.0" height="1.0" fill="rgb(156,156,156)" opacity="1.0"/>
<rect x="351.6" y="84.7" width="0.7" height="0.7" fill="rgb(90,90,90)" opacity="1.0"/>
<rect x="354.4" y="78.1" width="0.8" height="0.8" fill="rgb(82,82,82)" opacity="1.0"/>
<rect x="337.2" y="75.8" width="0.8" height="0.8" fill="rgb(76,76,76)" opacity="1.0"/>
<rect x="348.2" y="79.2" width="0.9" height="0.9" fill="rgb(126,126,126)" opacity="1.0"/>
<rect x="336.1" y="75.1" width="0.7" height="0.7" fill="rgb(159,159,159)" opacity="1.0"/>
<rect x="336.2" y="82.9" width="0.7" height="0.7" fill="rgb(167,167,167)" opacity="1.0"/>
<rect x="346.4" y="80.4" width="1.0" height="1.0" fill="rgb(141,141,141)" opacity="1.0"/>
<rect x="339.8" y="79.2" width="1.0" height="1.0" fill="rgb(140,140,140)" opacity="1.0"/>
<rect x="336.0" y="90.0" width="0.8" height="0.8" fill="rgb(99,99,99)" opacity="1.0"/>
<rect x="333.2" y="81.6" width="0.7" height="0.7" fill="rgb(152,152,152)" opacity="1.0"/>
<rect x="348.1" y="87.9" width="0.8" height="0.8" fill="rgb(95,95,95)" opacity="1.0"/>
<rect x="349.9" y="82.6" width="0.8" height="0.8" fill="rgb(156,156,156)" opacity="1.0"/>
<rect x="333.3" y="81.0" width="1.1" height="1.1" fill="rgb(154,154,154)" opacity="1.0"/>
<rect x="356.3" y="92.8" width="0.6" height="0.6" fill="rgb(137,137,137)" opacity="1.0"/>
<rect x="344.2" y="74.4" width="0.8" height="0.8" fill="rgb(170,170,170)" opacity="1.0"/>
<rect x="354.7" y="75.9" width="0.7" height="0.7" fill="rgb(132,132,132)" opacity="1.0"/>
<rect x="339.7" y="85.7" width="0.6" height="0.6" fill="rgb(166,166,166)" opacity="1.0"/>
<rect x="335.8" y="79.4" width="1.0" height="1.0" fill="rgb(167,167,167)" opacity="1.0"/>
<rect x="337.9" y="92.5" width="0.9" height="0.9" fill="rgb(74,74,74)" opacity="1.0"/>
<rect x="334.8" y="74.0" width="1.1" height="1.1" fill="rgb(94,94,94)" opacity="1.0"/>
<rect x="348.2" y="75.0" width="0.8" height="0.8" fill="rgb(112,112,112)" opacity="1.0"/>
<rect x="343.9" y="80.6" width="0.7" height="0.7" fill="rgb(116,116,116)" opacity="1.0"/>
<rect x="351.3" y="80.0" width="1.0" height="1.0" fill="rgb(78,78,78)" opacity="1.0"/>
<rect x="343.3" y="88.9" width="1.0" height="1.0" fill="rgb(84,84,84)" opacity="1.0"/>
<rect x="346.7" y="83.2" width="0.6" height="0.6" fill="rgb(74,74,74)" opacity="1.0"/>
<rect x="346.3" y="82.3" width="0.7" height="0.7" fill="rgb(159,159,159)" opacity="1.0"/>
<rect x="346.3" y="81.1" width="1.0" height="1.0" fill="rgb(117,117,117)" opacity="1.0"/>
<rect x="350.0" y="81.2" width="1.1" height="1.1" fill="rgb(154,154,154)" opacity="1.0"/>
<rect x="340.4" y="90.8" width="0.8" height="0.8" fill="rgb(131,131,131)" opacity="1.0"/>
<rect x="338.7" y="76.1" width="0.7" height="0.7" fill="rgb(100,100,100)" opacity="1.0"/>
<rect x="344.3" y="84.7" width="0.8" height="0.8" fill="rgb(85,85,85)" opacity="1.0"/>
<rect x="338.3" y="85.4" width="0.9" height="0.9" fill="rgb(75,75,75)" opacity="1.0"/>
<rect x="341.2" y="78.0" width="0.9" height="0.9" fill="rgb(121,121,121)" opacity="1.0"/>
<rect x="356.1" y="92.2" width="1.0" height="1.0" fill="rgb(163,163,163)" opacity="1.0"/>
<rect x="344.4" y="91.8" width="0.7" height="0.7" fill="rgb(71,71,71)" opacity="1.0"/>
<rect x="333.7" y="89.8" width="0.9" height="0.9" fill="rgb(159,159,159)" opacity="1.0"/>
<rect x="348.9" y="78.6" width="0.7" height="0.7" fill="rgb(166,166,166)" opacity="1.0"/>
<rect x="352.6" y="94.0" width="0.8" height="0.8" fill="rgb(124,124,124)" opacity="1.0"/>
<rect x="344.8" y="79.8" width="0.6" height="0.6" fill="rgb(85,85,85)" opacity="1.0"/>
<rect x="346.3" y="78.7" width="1.0" height="1.0" fill="rgb(146,146,146)" opacity="1.0"/>
<rect x="344.7" y="90.4" width="0.6" height="0.6" fill="rgb(101,101,101)" opacity="1.0"/>
<rect x="340.5" y="76.0" width="0.9" height="0.9" fill="rgb(97,97,97)" opacity="1.0"/>
<rect x="349.0" y="90.3" width="0.6" height="0.6" fill="rgb(113,113,113)" opacity="1.0"/>
<rect x="350.6" y="85.8" width="0.6" height="0.6" fill="rgb(93,93,93)" opacity="1.0"/>
<rect x="355.0" y="82.2" width="0.6" height="0.6" fill="rgb(122,122,122)" opacity="1.0"/>
<rect x="351.3" y="77.0" width="0.9" height="0.9" fill="rgb(135,135,135)" opacity="1.0"/>
<rect x="336.0" y="80.9" width="0.7" height="0.7" fill="rgb(87,87,87)" opacity="1.0"/>
<rect x="354.6" y="87.7" width="1.1" height="1.1" fill="rgb(160,160,160)" opacity="1.0"/>
<rect x="356.3" y="89.8" width="0.6" height="0.6" fill="rgb(131,131,131)" opacity="1.0"/>
<rect x="345.0" y="80.6" width="1.0" height="1.0" fill="rgb(78,78,78)" opacity="1.0"/>
<rect x="347.7" y="78.0" width="0.6" height="0.6" fill="rgb(150,150,150)" opacity="1.0"/>
<rect x="341.2" y="82.2" width="1.0" height="1.0" fill="rgb(153,153,153)" opacity="1.0"/>
<rect x="340.8" y="77.2" width="0.9" height="0.9" fill="rgb(133,133,133)" opacity="1.0"/>
<rect x="350.3" y="76.7" width="1.1" height="1.1" fill="rgb(158,158,158)" opacity="1.0"/>
<rect x="354.1" y="88.9" width="1.0" height="1.0" fill="rgb(170,170,170)" opacity="1.0"/>
<rect x="346.6" y="82.7" width="1.0" height="1.0" fill="rgb(151,151,151)" opacity="1.0"/>
<rect x="353.3" y="80.0" width="0.9" height="0.9" fill="rgb(145,145,145)" opacity="1.0"/>
<rect x="355.1" y="76.3" width="1.0" height="1.0" fill="rgb(170,170,170)" opacity="1.0"/>
<rect x="338.4" y="90.8" width="0.7" height="0.7" fill="rgb(99,99,99)" opacity="1.0"/>
<rect x="346.5" y="85.2" width="0.9" height="0.9" fill="rgb(133,133,133)" opacity="1.0"/>
<rect x="354.8" y="91.8" width="0.8" height="0.8" fill="rgb(76,76,76)" opacity="1.0"/>
<rect x="351.2" y="89.9" width="1.0" height="1.0" fill="rgb(157,157,157)" opacity="1.0"/>
<rect x="340.6" y="81.6" width="0.7" height="0.7" fill="rgb(81,81,81)" opacity="1.0"/>
<rect x="348.5" y="89.8" width="0.9" height="0.9" fill="rgb(154,154,154)" opacity="1.0"/>
<rect x="352.5" y="89.9" width="0.8" height="0.8" fill="rgb(70,70,70)" opacity="1.0"/>
<rect x="346.9" y="93.0" width="0.8" height="0.8" fill="rgb(130,130,130)" opacity="1.0"/>
<rect x="358.3" y="83.1" width="0.8" height="0.8" fill="rgb(132,132,132)" opacity="1.0"/>
<rect x="356.4" y="81.9" width="0.8" height="0.8" fill="rgb(149,149,149)" opacity="1.0"/>
<rect x="356.8" y="75.8" width="0.7" height="0.7" fill="rgb(124,124,124)" opacity="1.0"/>
<rect x="360.7" y="82.1" width="0.9" height="0.9" fill="rgb(158,158,158)" opacity="1.0"/>
<rect x="356.5" y="87.7" width="0.8" height="0.8" fill="rgb(95,95,95)" opacity="1.0"/>
<rect x="360.8" y="81.8" width="1.0" height="1.0" fill="rgb(132,132,132)" opacity="1.0"/>
<rect x="357.0" y="78.5" width="1.0" height="1.0" fill="rgb(168,168,168)" opacity="1.0"/>
<rect x="361.5" y="80.2" width="1.0" height="1.0" fill="rgb(130,130,130)" opacity="1.0"/>
<rect x="357.7" y="93.8" width="0.9" height="0.9" fill="rgb(114,114,114)" opacity="1.0"/>
<rect x="361.6" y="81.8" width="0.6" height="0.6" fill="rgb(91,91,91)" opacity="1.0"/>
<rect x="356.5" y="92.9" width="0.8" height="0.8" fill="rgb(148,148,148)" opacity="1.0"/>
<rect x="358.6" y="88.7" width="1.0" height="1.0" fill="rgb(102,102,102)" opacity="1.0"/>
<rect x="359.2" y="89.1" width="0.7" height="0.7" fill="rgb(138,138,138)" opacity="1.0"/>
<rect x="359.4" y="79.1" width="0.6" height="0.6" fill="rgb(143,143,143)" opacity="1.0"/>
<rect x="358.4" y="82.9" width="0.7" height="0.7" fill="rgb(127,127,127)" opacity="1.0"/>
<rect x="358.7" y="86.6" width="1.0" height="1.0" fill="rgb(138,138,138)" opacity="1.0"/>
<rect x="359.9" y="75.2" width="0.8" height="0.8" fill="rgb(153,153,153)" opacity="1.0"/>
<rect x="358.9" y="74.4" width="0.8" height="0.8" fill="rgb(105,105,105)" opacity="1.0"/>
<rect x="357.4" y="89.0" width="0.9" height="0.9" fill="rgb(109,109,109)" opacity="1.0"/>
<rect x="359.4" y="74.7" width="0.8" height="0.8" fill="rgb(131,131,131)" opacity="1.0"/>
<rect x="356.4" y="92.7" width="0.7" height="0.7" fill="rgb(124,124,124)" opacity="1.0"/>
<rect x="358.1" y="85.5" width="1.0" height="1.0" fill="rgb(95,95,95)" opacity="1.0"/>
<rect x="356.5" y="85.8" width="0.9" height="0.9" fill="rgb(125,125,125)" opacity="1.0"/>
<rect x="356.6" y="89.5" width="0.8" height="0.8" fill="rgb(93,93,93)" opacity="1.0"/>
<rect x="361.7" y="87.0" width="0.8" height="0.8" fill="rgb(138,138,138)" opacity="1.0"/>
<rect x="332.00" y="19.60" width="86.80" height="74.70" fill="none" stroke="#1a1a1a" stroke-width="1.2"/>
<line x1="356.40" y1="19.60" x2="356.40" y2="94.30" stroke="#1a1a1a" stroke-width="1.2"/>
<line x1="332.00" y1="73.10" x2="418.80" y2="73.10" stroke="#1a1a1a" stroke-width="1.2"/>
<polyline points="362.5,73.1 362.5,48.6 393.4,48.6 393.4,73.1" fill="none" stroke="#1a1a1a" stroke-width="1.2"/>
<text x="395.61" y="33.30" font-size="14" fill="#000" stroke="#000" stroke-width="0" textLength="20.59" lengthAdjust="spacingAndGlyphs">3.6</text>
<text x="367.62" y="45.80" font-size="14" fill="#4d4d4d" stroke="#4d4d4d" stroke-width="0" textLength="20.27" lengthAdjust="spacingAndGlyphs">0.3</text>
<rect x="429.0" y="60.0" width="20.0" height="6.5" fill="url(#bg3)" opacity="0.7" filter="url(#rough)"/>
<rect x="444.5" y="62.9" width="0.8" height="0.8" fill="rgb(105,105,105)" opacity="1.0"/>
<rect x="442.1" y="60.6" width="1.0" height="1.0" fill="rgb(76,76,76)" opacity="1.0"/>
<rect x="435.8" y="64.4" width="1.0" height="1.0" fill="rgb(136,136,136)" opacity="1.0"/>
<rect x="443.6" y="64.1" width="0.7" height="0.7" fill="rgb(136,136,136)" opacity="1.0"/>
<rect x="437.1" y="64.1" width="1.1" height="1.1" fill="rgb(108,108,108)" opacity="1.0"/>
<rect x="439.1" y="60.8" width="0.7" height="0.7" fill="rgb(158,158,158)" opacity="1.0"/>
<rect x="431.9" y="69.1" width="0.9" height="0.9" fill="rgb(95,95,95)" opacity="1.0"/>
<rect x="444.4" y="62.1" width="0.7" height="0.7" fill="rgb(157,157,157)" opacity="1.0"/>
<rect x="432.6" y="64.9" width="0.7" height="0.7" fill="rgb(130,130,130)" opacity="1.0"/>
<rect x="442.4" y="68.8" width="0.9" height="0.9" fill="rgb(127,127,127)" opacity="1.0"/>
<rect x="434.5" y="64.1" width="0.6" height="0.6" fill="rgb(110,110,110)" opacity="1.0"/>
<rect x="436.4" y="66.4" width="0.9" height="0.9" fill="rgb(154,154,154)" opacity="1.0"/>
<rect x="432.4" y="59.4" width="0.8" height="0.8" fill="rgb(105,105,105)" opacity="1.0"/>
<rect x="436.6" y="60.7" width="1.0" height="1.0" fill="rgb(106,106,106)" opacity="1.0"/>
<rect x="443.5" y="65.2" width="0.6" height="0.6" fill="rgb(71,71,71)" opacity="1.0"/>
<rect x="442.2" y="60.2" width="0.9" height="0.9" fill="rgb(115,115,115)" opacity="1.0"/>
<rect x="425.5" y="68.9" width="1.0" height="1.0" fill="rgb(78,78,78)" opacity="1.0"/>
<rect x="445.8" y="65.3" width="1.0" height="1.0" fill="rgb(122,122,122)" opacity="1.0"/>
<rect x="434.2" y="57.4" width="0.9" height="0.9" fill="rgb(91,91,91)" opacity="1.0"/>
<rect x="447.7" y="62.5" width="0.7" height="0.7" fill="rgb(158,158,158)" opacity="1.0"/>
<rect x="426.9" y="66.1" width="0.8" height="0.8" fill="rgb(113,113,113)" opacity="1.0"/>
<rect x="431.7" y="63.3" width="1.0" height="1.0" fill="rgb(93,93,93)" opacity="1.0"/>
<rect x="445.1" y="66.6" width="0.9" height="0.9" fill="rgb(122,122,122)" opacity="1.0"/>
<rect x="441.1" y="62.4" width="0.9" height="0.9" fill="rgb(113,113,113)" opacity="1.0"/>
<rect x="440.3" y="62.8" width="1.0" height="1.0" fill="rgb(70,70,70)" opacity="1.0"/>
<rect x="433.5" y="60.3" width="0.7" height="0.7" fill="rgb(121,121,121)" opacity="1.0"/>
<rect x="436.4" y="58.7" width="1.0" height="1.0" fill="rgb(156,156,156)" opacity="1.0"/>
<rect x="440.1" y="62.0" width="1.0" height="1.0" fill="rgb(155,155,155)" opacity="1.0"/>
<rect x="438.3" y="64.6" width="1.0" height="1.0" fill="rgb(106,106,106)" opacity="1.0"/>
<rect x="437.4" y="58.4" width="0.8" height="0.8" fill="rgb(153,153,153)" opacity="1.0"/>
<rect x="435.6" y="66.9" width="0.8" height="0.8" fill="rgb(160,160,160)" opacity="1.0"/>
<rect x="446.8" y="60.7" width="0.9" height="0.9" fill="rgb(147,147,147)" opacity="1.0"/>
<rect x="428.4" y="63.0" width="0.8" height="0.8" fill="rgb(98,98,98)" opacity="1.0"/>
<rect x="432.2" y="65.9" width="0.8" height="0.8" fill="rgb(80,80,80)" opacity="1.0"/>
<rect x="437.2" y="62.3" width="0.7" height="0.7" fill="rgb(111,111,111)" opacity="1.0"/>
<rect x="426.5" y="64.4" width="0.7" height="0.7" fill="rgb(127,127,127)" opacity="1.0"/>
<rect x="445.1" y="64.3" width="0.9" height="0.9" fill="rgb(141,141,141)" opacity="1.0"/>
<rect x="446.5" y="63.9" width="0.7" height="0.7" fill="rgb(129,129,129)" opacity="1.0"/>
<rect x="439.6" y="66.9" width="1.1" height="1.1" fill="rgb(113,113,113)" opacity="1.0"/>
<rect x="433.0" y="62.9" width="1.0" height="1.0" fill="rgb(141,141,141)" opacity="1.0"/>
<rect x="441.4" y="68.1" width="0.9" height="0.9" fill="rgb(143,143,143)" opacity="1.0"/>
<rect x="449.9" y="64.1" width="1.0" height="1.0" fill="rgb(73,73,73)" opacity="1.0"/>
<rect x="437.2" y="65.8" width="0.7" height="0.7" fill="rgb(150,150,150)" opacity="1.0"/>
<rect x="440.9" y="63.9" width="0.9" height="0.9" fill="rgb(119,119,119)" opacity="1.0"/>
<rect x="433.7" y="62.3" width="1.0" height="1.0" fill="rgb(77,77,77)" opacity="1.0"/>
<rect x="444.1" y="62.7" width="0.6" height="0.6" fill="rgb(102,102,102)" opacity="1.0"/>
<rect x="434.3" y="63.4" width="1.1" height="1.1" fill="rgb(128,128,128)" opacity="1.0"/>
<rect x="445.1" y="60.8" width="0.8" height="0.8" fill="rgb(94,94,94)" opacity="1.0"/>
<rect x="440.6" y="65.7" width="1.0" height="1.0" fill="rgb(106,106,106)" opacity="1.0"/>
<rect x="451.2" y="65.8" width="0.8" height="0.8" fill="rgb(72,72,72)" opacity="1.0"/>
<rect x="441.5" y="67.1" width="1.0" height="1.0" fill="rgb(95,95,95)" opacity="1.0"/>
<rect x="441.5" y="67.5" width="1.0" height="1.0" fill="rgb(107,107,107)" opacity="1.0"/>
<rect x="452.9" y="61.4" width="1.0" height="1.0" fill="rgb(148,148,148)" opacity="1.0"/>
<rect x="442.4" y="63.9" width="1.0" height="1.0" fill="rgb(71,71,71)" opacity="1.0"/>
<rect x="430.7" y="59.9" width="0.7" height="0.7" fill="rgb(138,138,138)" opacity="1.0"/>
<rect x="435.4" y="64.5" width="0.8" height="0.8" fill="rgb(150,150,150)" opacity="1.0"/>
<rect x="436.0" y="64.2" width="0.9" height="0.9" fill="rgb(92,92,92)" opacity="1.0"/>
<rect x="436.5" y="63.6" width="1.0" height="1.0" fill="rgb(128,128,128)" opacity="1.0"/>
<rect x="430.4" y="67.6" width="1.0" height="1.0" fill="rgb(116,116,116)" opacity="1.0"/>
<rect x="417.0" y="64.7" width="1.0" height="1.0" fill="rgb(113,113,113)" opacity="1.0"/>
<rect x="425.1" y="64.0" width="1.0" height="1.0" fill="rgb(86,86,86)" opacity="1.0"/>
<rect x="432.8" y="62.9" width="0.7" height="0.7" fill="rgb(119,119,119)" opacity="1.0"/>
<rect x="438.0" y="63.8" width="1.0" height="1.0" fill="rgb(94,94,94)" opacity="1.0"/>
<rect x="456.5" y="60.8" width="1.0" height="1.0" fill="rgb(125,125,125)" opacity="1.0"/>
<rect x="437.4" y="61.7" width="0.7" height="0.7" fill="rgb(125,125,125)" opacity="1.0"/>
<rect x="442.8" y="63.4" width="0.9" height="0.9" fill="rgb(144,144,144)" opacity="1.0"/>
<rect x="450.6" y="64.1" width="0.8" height="0.8" fill="rgb(81,81,81)" opacity="1.0"/>
<rect x="452.1" y="64.7" width="1.1" height="1.1" fill="rgb(138,138,138)" opacity="1.0"/>
<rect x="442.0" y="61.4" width="1.0" height="1.0" fill="rgb(141,141,141)" opacity="1.0"/>
<rect x="428.0" y="63.6" width="0.6" height="0.6" fill="rgb(96,96,96)" opacity="1.0"/>
<rect x="439.8" y="65.6" width="0.6" height="0.6" fill="rgb(83,83,83)" opacity="1.0"/>
<rect x="450.1" y="58.9" width="0.8" height="0.8" fill="rgb(126,126,126)" opacity="1.0"/>
<rect x="429.4" y="61.3" width="1.1" height="1.1" fill="rgb(160,160,160)" opacity="1.0"/>
<rect x="438.7" y="59.8" width="1.0" height="1.0" fill="rgb(76,76,76)" opacity="1.0"/>
<rect x="443.0" y="66.6" width="1.0" height="1.0" fill="rgb(100,100,100)" opacity="1.0"/>
<rect x="423.8" y="64.3" width="0.7" height="0.7" fill="rgb(147,147,147)" opacity="1.0"/>
<rect x="446.0" y="61.3" width="0.9" height="0.9" fill="rgb(78,78,78)" opacity="1.0"/>
<rect x="442.5" y="58.0" width="0.8" height="0.8" fill="rgb(70,70,70)" opacity="1.0"/>
<rect x="441.1" y="58.5" width="1.0" height="1.0" fill="rgb(151,151,151)" opacity="1.0"/>
<rect x="434.9" y="61.7" width="1.0" height="1.0" fill="rgb(95,95,95)" opacity="1.0"/>
<rect x="440.1" y="63.4" width="1.1" height="1.1" fill="rgb(100,100,100)" opacity="1.0"/>
<rect x="449.7" y="62.1" width="1.1" height="1.1" fill="rgb(75,75,75)" opacity="1.0"/>
<rect x="427.9" y="58.7" width="0.6" height="0.6" fill="rgb(103,103,103)" opacity="1.0"/>
<rect x="430.2" y="63.9" width="1.0" height="1.0" fill="rgb(83,83,83)" opacity="1.0"/>
<rect x="440.3" y="62.5" width="1.0" height="1.0" fill="rgb(88,88,88)" opacity="1.0"/>
<rect x="442.4" y="65.9" width="0.9" height="0.9" fill="rgb(83,83,83)" opacity="1.0"/>
<rect x="444.6" y="62.6" width="0.6" height="0.6" fill="rgb(70,70,70)" opacity="1.0"/>
<rect x="447.9" y="64.0" width="0.9" height="0.9" fill="rgb(80,80,80)" opacity="1.0"/>
<rect x="431.1" y="60.8" width="0.6" height="0.6" fill="rgb(138,138,138)" opacity="1.0"/>
<rect x="446.3" y="64.4" width="0.8" height="0.8" fill="rgb(107,107,107)" opacity="1.0"/>
<rect x="433.7" y="60.3" width="0.6" height="0.6" fill="rgb(96,96,96)" opacity="1.0"/>
<rect x="444.1" y="59.0" width="0.7" height="0.7" fill="rgb(128,128,128)" opacity="1.0"/>
<rect x="435.0" y="59.1" width="0.8" height="0.8" fill="rgb(155,155,155)" opacity="1.0"/>
<rect x="452.7" y="67.8" width="0.9" height="0.9" fill="rgb(139,139,139)" opacity="1.0"/>
<rect x="436.7" y="62.2" width="1.0" height="1.0" fill="rgb(100,100,100)" opacity="1.0"/>
<rect x="439.9" y="62.3" width="0.7" height="0.7" fill="rgb(117,117,117)" opacity="1.0"/>
<rect x="435.9" y="65.3" width="0.9" height="0.9" fill="rgb(133,133,133)" opacity="1.0"/>
<rect x="449.9" y="62.6" width="0.6" height="0.6" fill="rgb(70,70,70)" opacity="1.0"/>
<rect x="448.2" y="64.3" width="0.7" height="0.7" fill="rgb(146,146,146)" opacity="1.0"/>
<rect x="422.9" y="68.2" width="0.9" height="0.9" fill="rgb(148,148,148)" opacity="1.0"/>
<rect x="440.9" y="67.5" width="1.1" height="1.1" fill="rgb(80,80,80)" opacity="1.0"/>
<rect x="443.8" y="59.7" width="0.9" height="0.9" fill="rgb(73,73,73)" opacity="1.0"/>
<rect x="448.2" y="67.6" width="0.7" height="0.7" fill="rgb(77,77,77)" opacity="1.0"/>
<rect x="445.1" y="62.3" width="0.7" height="0.7" fill="rgb(160,160,160)" opacity="1.0"/>
<rect x="441.2" y="58.3" width="0.8" height="0.8" fill="rgb(73,73,73)" opacity="1.0"/>
<rect x="444.3" y="64.8" width="0.9" height="0.9" fill="rgb(153,153,153)" opacity="1.0"/>
<rect x="428.4" y="63.9" width="0.7" height="0.7" fill="rgb(111,111,111)" opacity="1.0"/>
<rect x="438.0" y="66.0" width="0.8" height="0.8" fill="rgb(72,72,72)" opacity="1.0"/>
<rect x="431.7" y="62.6" width="0.6" height="0.6" fill="rgb(112,112,112)" opacity="1.0"/>
<rect x="438.7" y="61.3" width="1.0" height="1.0" fill="rgb(113,113,113)" opacity="1.0"/>
<rect x="434.8" y="63.0" width="0.8" height="0.8" fill="rgb(110,110,110)" opacity="1.0"/>
<rect x="436.7" y="64.1" width="1.1" height="1.1" fill="rgb(85,85,85)" opacity="1.0"/>
<rect x="442.6" y="66.0" width="0.9" height="0.9" fill="rgb(153,153,153)" opacity="1.0"/>
<rect x="438.5" y="69.1" width="0.9" height="0.9" fill="rgb(136,136,136)" opacity="1.0"/>
<rect x="441.0" y="63.0" width="0.7" height="0.7" fill="rgb(97,97,97)" opacity="1.0"/>
<rect x="438.5" y="57.8" width="0.8" height="0.8" fill="rgb(103,103,103)" opacity="1.0"/>
<rect x="450.5" y="67.6" width="0.8" height="0.8" fill="rgb(148,148,148)" opacity="1.0"/>
<rect x="433.9" y="59.5" width="1.0" height="1.0" fill="rgb(106,106,106)" opacity="1.0"/>
<rect x="438.1" y="65.3" width="0.6" height="0.6" fill="rgb(73,73,73)" opacity="1.0"/>
<rect x="444.7" y="60.5" width="1.1" height="1.1" fill="rgb(149,149,149)" opacity="1.0"/>
<rect x="432.2" y="60.5" width="0.6" height="0.6" fill="rgb(153,153,153)" opacity="1.0"/>
<rect x="444.3" y="64.3" width="0.6" height="0.6" fill="rgb(79,79,79)" opacity="1.0"/>
<rect x="439.1" y="63.4" width="0.6" height="0.6" fill="rgb(116,116,116)" opacity="1.0"/>
<rect x="427.5" y="61.8" width="1.1" height="1.1" fill="rgb(152,152,152)" opacity="1.0"/>
<rect x="435.9" y="61.3" width="0.7" height="0.7" fill="rgb(127,127,127)" opacity="1.0"/>
<rect x="442.8" y="64.6" width="0.9" height="0.9" fill="rgb(122,122,122)" opacity="1.0"/>
<rect x="447.8" y="70.3" width="1.0" height="1.0" fill="rgb(82,82,82)" opacity="1.0"/>
<rect x="432.0" y="63.8" width="0.6" height="0.6" fill="rgb(96,96,96)" opacity="1.0"/>
<rect x="440.4" y="61.6" width="1.0" height="1.0" fill="rgb(96,96,96)" opacity="1.0"/>
<rect x="435.3" y="61.4" width="1.0" height="1.0" fill="rgb(71,71,71)" opacity="1.0"/>
<rect x="440.7" y="63.8" width="0.9" height="0.9" fill="rgb(154,154,154)" opacity="1.0"/>
<rect x="435.9" y="65.1" width="0.7" height="0.7" fill="rgb(75,75,75)" opacity="1.0"/>
<rect x="454.3" y="67.5" width="0.7" height="0.7" fill="rgb(119,119,119)" opacity="1.0"/>
<rect x="445.9" y="65.1" width="0.6" height="0.6" fill="rgb(77,77,77)" opacity="1.0"/>
<rect x="451.6" y="63.7" width="1.1" height="1.1" fill="rgb(86,86,86)" opacity="1.0"/>
<rect x="432.6" y="65.8" width="0.7" height="0.7" fill="rgb(92,92,92)" opacity="1.0"/>
<rect x="439.3" y="61.3" width="0.7" height="0.7" fill="rgb(116,116,116)" opacity="1.0"/>
<rect x="430.6" y="58.7" width="0.7" height="0.7" fill="rgb(91,91,91)" opacity="1.0"/>
<rect x="429.3" y="66.3" width="0.9" height="0.9" fill="rgb(98,98,98)" opacity="1.0"/>
<rect x="447.0" y="60.3" width="0.7" height="0.7" fill="rgb(116,116,116)" opacity="1.0"/>
<rect x="440.4" y="81.6" width="0.6" height="0.6" fill="rgb(70,70,70)" opacity="1.0"/>
<rect x="431.6" y="75.9" width="0.7" height="0.7" fill="rgb(100,100,100)" opacity="1.0"/>
<rect x="430.7" y="85.0" width="0.8" height="0.8" fill="rgb(84,84,84)" opacity="1.0"/>
<rect x="436.4" y="81.8" width="0.8" height="0.8" fill="rgb(85,85,85)" opacity="1.0"/>
<rect x="447.7" y="78.9" width="0.8" height="0.8" fill="rgb(124,124,124)" opacity="1.0"/>
<rect x="438.5" y="85.3" width="0.8" height="0.8" fill="rgb(116,116,116)" opacity="1.0"/>
<rect x="437.3" y="88.5" width="0.6" height="0.6" fill="rgb(77,77,77)" opacity="1.0"/>
<rect x="438.6" y="92.1" width="0.9" height="0.9" fill="rgb(142,142,142)" opacity="1.0"/>
<rect x="449.6" y="84.0" width="0.7" height="0.7" fill="rgb(118,118,118)" opacity="1.0"/>
<rect x="443.3" y="81.9" width="0.9" height="0.9" fill="rgb(100,100,100)" opacity="1.0"/>
<rect x="432.2" y="83.7" width="0.6" height="0.6" fill="rgb(82,82,82)" opacity="1.0"/>
<rect x="435.8" y="95.3" width="1.0" height="1.0" fill="rgb(128,128,128)" opacity="1.0"/>
<rect x="443.7" y="90.7" width="0.8" height="0.8" fill="rgb(150,150,150)" opacity="1.0"/>
<rect x="439.2" y="91.1" width="0.6" height="0.6" fill="rgb(116,116,116)" opacity="1.0"/>
<rect x="435.2" y="78.6" width="0.7" height="0.7" fill="rgb(102,102,102)" opacity="1.0"/>
<rect x="445.0" y="84.5" width="1.1" height="1.1" fill="rgb(135,135,135)" opacity="1.0"/>
<rect x="431.8" y="78.0" width="0.9" height="0.9" fill="rgb(74,74,74)" opacity="1.0"/>
<rect x="437.6" y="89.8" width="0.7" height="0.7" fill="rgb(147,147,147)" opacity="1.0"/>
<rect x="433.4" y="87.7" width="1.0" height="1.0" fill="rgb(111,111,111)" opacity="1.0"/>
<rect x="440.3" y="80.3" width="0.7" height="0.7" fill="rgb(153,153,153)" opacity="1.0"/>
<rect x="438.1" y="90.7" width="0.6" height="0.6" fill="rgb(162,162,162)" opacity="1.0"/>
<rect x="437.3" y="85.3" width="1.1" height="1.1" fill="rgb(126,126,126)" opacity="1.0"/>
<rect x="439.5" y="80.4" width="0.9" height="0.9" fill="rgb(110,110,110)" opacity="1.0"/>
<rect x="442.2" y="82.1" width="0.7" height="0.7" fill="rgb(156,156,156)" opacity="1.0"/>
<rect x="433.0" y="88.4" width="0.8" height="0.8" fill="rgb(78,78,78)" opacity="1.0"/>
<rect x="423.6" y="83.1" width="0.9" height="0.9" fill="rgb(132,132,132)" opacity="1.0"/>
<rect x="439.8" y="94.6" width="1.0" height="1.0" fill="rgb(94,94,94)" opacity="1.0"/>
<rect x="443.5" y="102.8" width="0.7" height="0.7" fill="rgb(128,128,128)" opacity="1.0"/>
<rect x="446.1" y="82.7" width="0.8" height="0.8" fill="rgb(74,74,74)" opacity="1.0"/>
<rect x="432.5" y="90.2" width="0.9" height="0.9" fill="rgb(72,72,72)" opacity="1.0"/>
<rect x="437.5" y="80.3" width="0.7" height="0.7" fill="rgb(70,70,70)" opacity="1.0"/>
<rect x="439.8" y="77.7" width="0.9" height="0.9" fill="rgb(130,130,130)" opacity="1.0"/>
<rect x="436.3" y="81.4" width="0.9" height="0.9" fill="rgb(100,100,100)" opacity="1.0"/>
<rect x="436.1" y="89.1" width="1.1" height="1.1" fill="rgb(87,87,87)" opacity="1.0"/>
<rect x="440.2" y="87.3" width="0.6" height="0.6" fill="rgb(166,166,166)" opacity="1.0"/>
<rect x="437.3" y="87.0" width="1.0" height="1.0" fill="rgb(144,144,144)" opacity="1.0"/>
<rect x="438.0" y="80.3" width="0.9" height="0.9" fill="rgb(142,142,142)" opacity="1.0"/>
<rect x="445.8" y="74.3" width="1.1" height="1.1" fill="rgb(104,104,104)" opacity="1.0"/>
<rect x="436.4" y="81.8" width="1.1" height="1.1" fill="rgb(125,125,125)" opacity="1.0"/>
<rect x="437.8" y="84.6" width="0.6" height="0.6" fill="rgb(107,107,107)" opacity="1.0"/>
<rect x="437.1" y="80.9" width="0.8" height="0.8" fill="rgb(87,87,87)" opacity="1.0"/>
<rect x="426.5" y="82.2" width="0.9" height="0.9" fill="rgb(154,154,154)" opacity="1.0"/>
<rect x="434.3" y="83.8" width="0.8" height="0.8" fill="rgb(101,101,101)" opacity="1.0"/>
<rect x="428.9" y="82.6" width="1.0" height="1.0" fill="rgb(117,117,117)" opacity="1.0"/>
<rect x="440.5" y="83.2" width="0.9" height="0.9" fill="rgb(79,79,79)" opacity="1.0"/>
<rect x="436.9" y="88.9" width="1.1" height="1.1" fill="rgb(158,158,158)" opacity="1.0"/>
<rect x="433.5" y="80.0" width="0.7" height="0.7" fill="rgb(137,137,137)" opacity="1.0"/>
<rect x="440.7" y="77.0" width="0.9" height="0.9" fill="rgb(77,77,77)" opacity="1.0"/>
<rect x="428.9" y="85.3" width="0.8" height="0.8" fill="rgb(71,71,71)" opacity="1.0"/>
<rect x="432.0" y="91.1" width="1.0" height="1.0" fill="rgb(152,152,152)" opacity="1.0"/>
<rect x="432.2" y="85.0" width="1.1" height="1.1" fill="rgb(99,99,99)" opacity="1.0"/>
<rect x="449.4" y="91.1" width="0.8" height="0.8" fill="rgb(139,139,139)" opacity="1.0"/>
<rect x="448.5" y="81.4" width="0.8" height="0.8" fill="rgb(99,99,99)" opacity="1.0"/>
<rect x="435.6" y="79.3" width="1.0" height="1.0" fill="rgb(133,133,133)" opacity="1.0"/>
<rect x="439.7" y="86.5" width="1.0" height="1.0" fill="rgb(97,97,97)" opacity="1.0"/>
<rect x="442.0" y="87.9" width="0.9" height="0.9" fill="rgb(121,121,121)" opacity="1.0"/>
<rect x="433.2" y="79.5" width="1.1" height="1.1" fill="rgb(128,128,128)" opacity="1.0"/>
<rect x="432.4" y="81.8" width="1.0" height="1.0" fill="rgb(160,160,160)" opacity="1.0"/>
<rect x="433.0" y="92.4" width="0.6" height="0.6" fill="rgb(158,158,158)" opacity="1.0"/>
<rect x="435.5" y="81.4" width="0.7" height="0.7" fill="rgb(117,117,117)" opacity="1.0"/>
<rect x="433.9" y="81.0" width="0.9" height="0.9" fill="rgb(140,140,140)" opacity="1.0"/>
<rect x="431.3" y="78.2" width="0.7" height="0.7" fill="rgb(168,168,168)" opacity="1.0"/>
<rect x="437.5" y="79.8" width="0.7" height="0.7" fill="rgb(102,102,102)" opacity="1.0"/>
<rect x="442.6" y="86.2" width="1.0" height="1.0" fill="rgb(155,155,155)" opacity="1.0"/>
<rect x="433.9" y="82.2" width="0.9" height="0.9" fill="rgb(71,71,71)" opacity="1.0"/>
<rect x="431.0" y="87.4" width="0.6" height="0.6" fill="rgb(73,73,73)" opacity="1.0"/>
<rect x="440.4" y="84.1" width="0.7" height="0.7" fill="rgb(159,159,159)" opacity="1.0"/>
<rect x="438.6" y="86.7" width="1.0" height="1.0" fill="rgb(161,161,161)" opacity="1.0"/>
<rect x="437.1" y="85.1" width="1.1" height="1.1" fill="rgb(80,80,80)" opacity="1.0"/>
<rect x="440.1" y="83.5" width="0.6" height="0.6" fill="rgb(112,112,112)" opacity="1.0"/>
<rect x="434.3" y="87.4" width="0.8" height="0.8" fill="rgb(165,165,165)" opacity="1.0"/>
<rect x="436.9" y="85.7" width="0.7" height="0.7" fill="rgb(80,80,80)" opacity="1.0"/>
<rect x="436.8" y="85.8" width="0.9" height="0.9" fill="rgb(76,76,76)" opacity="1.0"/>
<rect x="436.2" y="92.8" width="0.8" height="0.8" fill="rgb(163,163,163)" opacity="1.0"/>
<rect x="434.0" y="84.0" width="1.1" height="1.1" fill="rgb(147,147,147)" opacity="1.0"/>
<rect x="435.3" y="83.4" width="1.0" height="1.0" fill="rgb(89,89,89)" opacity="1.0"/>
<rect x="432.9" y="85.9" width="0.7" height="0.7" fill="rgb(72,72,72)" opacity="1.0"/>
<rect x="439.9" y="75.4" width="0.6" height="0.6" fill="rgb(82,82,82)" opacity="1.0"/>
<rect x="442.6" y="91.3" width="1.0" height="1.0" fill="rgb(127,127,127)" opacity="1.0"/>
<rect x="438.0" y="80.5" width="1.0" height="1.0" fill="rgb(81,81,81)" opacity="1.0"/>
<rect x="431.2" y="84.9" width="0.7" height="0.7" fill="rgb(71,71,71)" opacity="1.0"/>
<rect x="434.7" y="82.8" width="0.8" height="0.8" fill="rgb(151,151,151)" opacity="1.0"/>
<rect x="437.0" y="78.1" width="0.9" height="0.9" fill="rgb(136,136,136)" opacity="1.0"/>
<rect x="436.8" y="82.8" width="0.6" height="0.6" fill="rgb(162,162,162)" opacity="1.0"/>
<rect x="433.2" y="83.7" width="0.9" height="0.9" fill="rgb(161,161,161)" opacity="1.0"/>
<rect x="428.1" y="76.9" width="1.1" height="1.1" fill="rgb(96,96,96)" opacity="1.0"/>
<rect x="448.8" y="83.7" width="0.7" height="0.7" fill="rgb(86,86,86)" opacity="1.0"/>
<rect x="438.4" y="92.5" width="1.0" height="1.0" fill="rgb(160,160,160)" opacity="1.0"/>
<rect x="446.5" y="81.7" width="0.8" height="0.8" fill="rgb(109,109,109)" opacity="1.0"/>
<rect x="432.3" y="83.4" width="0.9" height="0.9" fill="rgb(169,169,169)" opacity="1.0"/>
<rect x="438.5" y="84.8" width="0.7" height="0.7" fill="rgb(135,135,135)" opacity="1.0"/>
<rect x="440.5" y="90.3" width="0.8" height="0.8" fill="rgb(101,101,101)" opacity="1.0"/>
<rect x="437.9" y="86.4" width="1.0" height="1.0" fill="rgb(134,134,134)" opacity="1.0"/>
<rect x="442.7" y="78.5" width="0.9" height="0.9" fill="rgb(130,130,130)" opacity="1.0"/>
<rect x="437.4" y="81.7" width="0.9" height="0.9" fill="rgb(78,78,78)" opacity="1.0"/>
<rect x="435.1" y="84.7" width="0.9" height="0.9" fill="rgb(155,155,155)" opacity="1.0"/>
<rect x="426.8" y="87.0" width="0.8" height="0.8" fill="rgb(161,161,161)" opacity="1.0"/>
<rect x="435.1" y="78.1" width="1.1" height="1.1" fill="rgb(169,169,169)" opacity="1.0"/>
<rect x="444.0" y="81.2" width="1.0" height="1.0" fill="rgb(83,83,83)" opacity="1.0"/>
<rect x="447.6" y="89.9" width="0.6" height="0.6" fill="rgb(87,87,87)" opacity="1.0"/>
<rect x="449.0" y="82.7" width="0.6" height="0.6" fill="rgb(86,86,86)" opacity="1.0"/>
<rect x="436.4" y="82.8" width="0.6" height="0.6" fill="rgb(154,154,154)" opacity="1.0"/>
<rect x="437.0" y="75.4" width="0.9" height="0.9" fill="rgb(125,125,125)" opacity="1.0"/>
<rect x="442.2" y="90.1" width="1.1" height="1.1" fill="rgb(161,161,161)" opacity="1.0"/>
<rect x="441.3" y="85.3" width="0.9" height="0.9" fill="rgb(168,168,168)" opacity="1.0"/>
<rect x="428.6" y="82.5" width="0.7" height="0.7" fill="rgb(110,110,110)" opacity="1.0"/>
<rect x="426.8" y="82.1" width="0.7" height="0.7" fill="rgb(91,91,91)" opacity="1.0"/>
<rect x="429.4" y="89.9" width="0.8" height="0.8" fill="rgb(160,160,160)" opacity="1.0"/>
<rect x="439.9" y="86.6" width="0.7" height="0.7" fill="rgb(140,140,140)" opacity="1.0"/>
<rect x="436.5" y="92.2" width="1.1" height="1.1" fill="rgb(162,162,162)" opacity="1.0"/>
<rect x="423.4" y="86.1" width="1.0" height="1.0" fill="rgb(147,147,147)" opacity="1.0"/>
<rect x="437.3" y="79.0" width="1.0" height="1.0" fill="rgb(95,95,95)" opacity="1.0"/>
<rect x="439.5" y="86.4" width="0.7" height="0.7" fill="rgb(132,132,132)" opacity="1.0"/>
<rect x="438.9" y="79.8" width="0.6" height="0.6" fill="rgb(101,101,101)" opacity="1.0"/>
<rect x="426.9" y="83.3" width="0.7" height="0.7" fill="rgb(159,159,159)" opacity="1.0"/>
<rect x="440.0" y="80.5" width="1.0" height="1.0" fill="rgb(92,92,92)" opacity="1.0"/>
<rect x="441.8" y="77.8" width="0.8" height="0.8" fill="rgb(154,154,154)" opacity="1.0"/>
<rect x="441.8" y="75.0" width="0.8" height="0.8" fill="rgb(143,143,143)" opacity="1.0"/>
<rect x="438.0" y="80.3" width="1.0" height="1.0" fill="rgb(75,75,75)" opacity="1.0"/>
<rect x="441.7" y="82.7" width="1.0" height="1.0" fill="rgb(110,110,110)" opacity="1.0"/>
<rect x="436.5" y="88.7" width="0.9" height="0.9" fill="rgb(117,117,117)" opacity="1.0"/>
<rect x="433.5" y="86.5" width="0.6" height="0.6" fill="rgb(99,99,99)" opacity="1.0"/>
<rect x="432.8" y="76.5" width="1.0" height="1.0" fill="rgb(168,168,168)" opacity="1.0"/>
<rect x="437.1" y="80.3" width="1.0" height="1.0" fill="rgb(152,152,152)" opacity="1.0"/>
<rect x="445.9" y="83.5" width="0.7" height="0.7" fill="rgb(166,166,166)" opacity="1.0"/>
<rect x="434.7" y="89.6" width="0.8" height="0.8" fill="rgb(111,111,111)" opacity="1.0"/>
<rect x="438.6" y="81.7" width="1.0" height="1.0" fill="rgb(139,139,139)" opacity="1.0"/>
<rect x="436.1" y="82.5" width="1.0" height="1.0" fill="rgb(92,92,92)" opacity="1.0"/>
<rect x="439.2" y="82.1" width="1.0" height="1.0" fill="rgb(165,165,165)" opacity="1.0"/>
<rect x="425.3" y="81.1" width="1.1" height="1.1" fill="rgb(140,140,140)" opacity="1.0"/>
<rect x="442.8" y="82.1" width="1.0" height="1.0" fill="rgb(129,129,129)" opacity="1.0"/>
<rect x="439.6" y="81.5" width="0.8" height="0.8" fill="rgb(113,113,113)" opacity="1.0"/>
<rect x="439.5" y="85.0" width="1.1" height="1.1" fill="rgb(73,73,73)" opacity="1.0"/>
<rect x="442.2" y="84.8" width="0.6" height="0.6" fill="rgb(148,148,148)" opacity="1.0"/>
<rect x="436.8" y="80.7" width="0.9" height="0.9" fill="rgb(129,129,129)" opacity="1.0"/>
<rect x="434.7" y="89.3" width="0.8" height="0.8" fill="rgb(118,118,118)" opacity="1.0"/>
<rect x="429.1" y="76.2" width="0.8" height="0.8" fill="rgb(130,130,130)" opacity="1.0"/>
<rect x="431.1" y="91.9" width="1.0" height="1.0" fill="rgb(164,164,164)" opacity="1.0"/>
<rect x="434.7" y="82.9" width="1.1" height="1.1" fill="rgb(145,145,145)" opacity="1.0"/>
<rect x="438.6" y="82.9" width="0.8" height="0.8" fill="rgb(127,127,127)" opacity="1.0"/>
<rect x="443.0" y="78.9" width="0.7" height="0.7" fill="rgb(96,96,96)" opacity="1.0"/>
<rect x="424.8" y="81.0" width="0.9" height="0.9" fill="rgb(154,154,154)" opacity="1.0"/>
<rect x="445.6" y="91.8" width="0.8" height="0.8" fill="rgb(74,74,74)" opacity="1.0"/>
<rect x="435.9" y="83.5" width="0.8" height="0.8" fill="rgb(86,86,86)" opacity="1.0"/>
<rect x="442.6" y="87.3" width="1.0" height="1.0" fill="rgb(135,135,135)" opacity="1.0"/>
<rect x="434.6" y="86.8" width="0.9" height="0.9" fill="rgb(165,165,165)" opacity="1.0"/>
<rect x="441.9" y="85.7" width="0.8" height="0.8" fill="rgb(164,164,164)" opacity="1.0"/>
<rect x="430.7" y="89.4" width="0.7" height="0.7" fill="rgb(123,123,123)" opacity="1.0"/>
<rect x="435.4" y="88.2" width="1.1" height="1.1" fill="rgb(163,163,163)" opacity="1.0"/>
<rect x="427.8" y="84.5" width="0.9" height="0.9" fill="rgb(71,71,71)" opacity="1.0"/>
<rect x="445.6" y="93.8" width="1.1" height="1.1" fill="rgb(141,141,141)" opacity="1.0"/>
<rect x="437.5" y="84.8" width="0.9" height="0.9" fill="rgb(153,153,153)" opacity="1.0"/>
<rect x="437.7" y="73.9" width="0.6" height="0.6" fill="rgb(116,116,116)" opacity="1.0"/>
<rect x="443.1" y="86.0" width="1.0" height="1.0" fill="rgb(134,134,134)" opacity="1.0"/>
<rect x="435.1" y="76.3" width="0.9" height="0.9" fill="rgb(97,97,97)" opacity="1.0"/>
<rect x="443.4" y="81.4" width="0.7" height="0.7" fill="rgb(88,88,88)" opacity="1.0"/>
<rect x="435.7" y="84.5" width="0.9" height="0.9" fill="rgb(87,87,87)" opacity="1.0"/>
<rect x="436.7" y="88.0" width="0.7" height="0.7" fill="rgb(123,123,123)" opacity="1.0"/>
<rect x="435.7" y="82.8" width="0.6" height="0.6" fill="rgb(169,169,169)" opacity="1.0"/>
<rect x="432.3" y="90.7" width="1.0" height="1.0" fill="rgb(165,165,165)" opacity="1.0"/>
<rect x="433.1" y="83.1" width="0.7" height="0.7" fill="rgb(92,92,92)" opacity="1.0"/>
<rect x="442.1" y="93.0" width="1.0" height="1.0" fill="rgb(144,144,144)" opacity="1.0"/>
<rect x="441.7" y="87.5" width="1.0" height="1.0" fill="rgb(146,146,146)" opacity="1.0"/>
<rect x="435.5" y="93.4" width="0.6" height="0.6" fill="rgb(135,135,135)" opacity="1.0"/>
<rect x="442.6" y="82.1" width="1.0" height="1.0" fill="rgb(81,81,81)" opacity="1.0"/>
<rect x="442.6" y="80.2" width="0.7" height="0.7" fill="rgb(123,123,123)" opacity="1.0"/>
<rect x="429.4" y="85.8" width="0.8" height="0.8" fill="rgb(139,139,139)" opacity="1.0"/>
<rect x="437.4" y="80.3" width="0.7" height="0.7" fill="rgb(95,95,95)" opacity="1.0"/>
<rect x="440.5" y="80.6" width="0.8" height="0.8" fill="rgb(125,125,125)" opacity="1.0"/>
<rect x="439.0" y="87.0" width="0.7" height="0.7" fill="rgb(80,80,80)" opacity="1.0"/>
<rect x="434.0" y="78.0" width="13.0" height="12.0" fill="url(#bg3)" opacity="0.3" filter="url(#rough)"/>
<rect x="423.30" y="19.60" width="87.40" height="74.70" fill="none" stroke="#1a1a1a" stroke-width="1.2"/>
<line x1="447.40" y1="19.60" x2="447.40" y2="94.30" stroke="#1a1a1a" stroke-width="1.2"/>
<line x1="423.30" y1="73.10" x2="510.70" y2="73.10" stroke="#1a1a1a" stroke-width="1.2"/>
<polyline points="453.4,73.1 453.4,48.6 484.5,48.6 484.5,73.1" fill="none" stroke="#1a1a1a" stroke-width="1.2"/>
<text x="486.60" y="33.30" font-size="14" fill="#000" stroke="#000" stroke-width="0" textLength="20.85" lengthAdjust="spacingAndGlyphs">3.2</text>
<text x="464.77" y="45.80" font-size="14" fill="#4d4d4d" stroke="#4d4d4d" stroke-width="0" textLength="8.81" lengthAdjust="spacingAndGlyphs">0</text>
<rect x="88.90" y="250.30" width="12.70" height="27.30" fill="#1e1e1e"/>
<rect x="101.60" y="240.20" width="12.70" height="37.40" fill="#d2d2d2"/>
<rect x="114.30" y="271.40" width="12.70" height="6.20" fill="#a2a2a2"/>
<rect x="127.00" y="271.10" width="12.70" height="6.50" fill="#434343"/>
<line x1="95.25" y1="241.30" x2="95.25" y2="259.70" stroke="#111" stroke-width="1.3"/>
<line x1="93.25" y1="241.30" x2="97.25" y2="241.30" stroke="#111" stroke-width="1.6900000000000002"/>
<line x1="93.25" y1="259.70" x2="97.25" y2="259.70" stroke="#111" stroke-width="1.6900000000000002"/>
<line x1="107.95" y1="238.20" x2="107.95" y2="241.50" stroke="#111" stroke-width="1.3"/>
<line x1="105.95" y1="238.20" x2="109.95" y2="238.20" stroke="#111" stroke-width="1.6900000000000002"/>
<line x1="105.95" y1="241.50" x2="109.95" y2="241.50" stroke="#111" stroke-width="1.6900000000000002"/>
<line x1="120.65" y1="269.50" x2="120.65" y2="272.50" stroke="#111" stroke-width="1.3"/>
<line x1="118.65" y1="269.50" x2="122.65" y2="269.50" stroke="#111" stroke-width="1.6900000000000002"/>
<line x1="118.65" y1="272.50" x2="122.65" y2="272.50" stroke="#111" stroke-width="1.6900000000000002"/>
<rect x="177.20" y="164.10" width="12.70" height="113.50" fill="#1e1e1e"/>
<rect x="189.90" y="160.20" width="12.70" height="117.40" fill="#d2d2d2"/>
<rect x="202.60" y="215.00" width="12.70" height="62.60" fill="#a2a2a2"/>
<rect x="215.30" y="223.10" width="12.70" height="54.50" fill="#434343"/>
<line x1="183.55" y1="151.20" x2="183.55" y2="176.60" stroke="#111" stroke-width="1.3"/>
<line x1="181.55" y1="151.20" x2="185.55" y2="151.20" stroke="#111" stroke-width="1.6900000000000002"/>
<line x1="181.55" y1="176.60" x2="185.55" y2="176.60" stroke="#111" stroke-width="1.6900000000000002"/>
<line x1="196.25" y1="144.30" x2="196.25" y2="174.50" stroke="#111" stroke-width="1.3"/>
<line x1="194.25" y1="144.30" x2="198.25" y2="144.30" stroke="#111" stroke-width="1.6900000000000002"/>
<line x1="194.25" y1="174.50" x2="198.25" y2="174.50" stroke="#111" stroke-width="1.6900000000000002"/>
<line x1="208.95" y1="209.80" x2="208.95" y2="219.70" stroke="#111" stroke-width="1.3"/>
<line x1="206.95" y1="209.80" x2="210.95" y2="209.80" stroke="#111" stroke-width="1.6900000000000002"/>
<line x1="206.95" y1="219.70" x2="210.95" y2="219.70" stroke="#111" stroke-width="1.6900000000000002"/>
<rect x="264.90" y="181.60" width="12.70" height="96.00" fill="#1e1e1e"/>
<rect x="277.60" y="170.30" width="12.70" height="107.30" fill="#d2d2d2"/>
<rect x="290.30" y="266.60" width="12.70" height="11.00" fill="#a2a2a2"/>
<rect x="303.00" y="260.00" width="12.70" height="17.60" fill="#434343"/>
<line x1="271.25" y1="178.50" x2="271.25" y2="182.80" stroke="#111" stroke-width="1.3"/>
<line x1="269.25" y1="178.50" x2="273.25" y2="178.50" stroke="#111" stroke-width="1.6900000000000002"/>
<line x1="269.25" y1="182.80" x2="273.25" y2="182.80" stroke="#111" stroke-width="1.6900000000000002"/>
<line x1="296.65" y1="258.90" x2="296.65" y2="274.60" stroke="#111" stroke-width="1.3"/>
<line x1="294.65" y1="258.90" x2="298.65" y2="258.90" stroke="#111" stroke-width="1.6900000000000002"/>
<line x1="294.65" y1="274.60" x2="298.65" y2="274.60" stroke="#111" stroke-width="1.6900000000000002"/>
<rect x="353.80" y="200.00" width="12.70" height="77.60" fill="#1e1e1e"/>
<rect x="366.50" y="191.60" width="12.70" height="86.00" fill="#d2d2d2"/>
<rect x="379.20" y="270.50" width="12.70" height="7.10" fill="#a2a2a2"/>
<rect x="391.90" y="262.40" width="12.70" height="15.20" fill="#434343"/>
<line x1="360.15" y1="197.40" x2="360.15" y2="200.60" stroke="#111" stroke-width="1.3"/>
<line x1="358.15" y1="197.40" x2="362.15" y2="197.40" stroke="#111" stroke-width="1.6900000000000002"/>
<line x1="358.15" y1="200.60" x2="362.15" y2="200.60" stroke="#111" stroke-width="1.6900000000000002"/>
<line x1="385.55" y1="264.00" x2="385.55" y2="276.50" stroke="#111" stroke-width="1.3"/>
<line x1="383.55" y1="264.00" x2="387.55" y2="264.00" stroke="#111" stroke-width="1.6900000000000002"/>
<line x1="383.55" y1="276.50" x2="387.55" y2="276.50" stroke="#111" stroke-width="1.6900000000000002"/>
<rect x="441.40" y="233.30" width="12.70" height="44.30" fill="#1e1e1e"/>
<rect x="454.10" y="201.00" width="12.70" height="76.60" fill="#d2d2d2"/>
<rect x="466.80" y="276.60" width="12.70" height="1.00" fill="#a2a2a2"/>
<rect x="479.50" y="272.00" width="12.70" height="5.60" fill="#434343"/>
<line x1="447.75" y1="201.30" x2="447.75" y2="261.30" stroke="#111" stroke-width="1.3"/>
<line x1="445.75" y1="201.30" x2="449.75" y2="201.30" stroke="#111" stroke-width="1.6900000000000002"/>
<line x1="445.75" y1="261.30" x2="449.75" y2="261.30" stroke="#111" stroke-width="1.6900000000000002"/>
<line x1="460.45" y1="175.60" x2="460.45" y2="223.70" stroke="#111" stroke-width="1.3"/>
<line x1="458.45" y1="175.60" x2="462.45" y2="175.60" stroke="#111" stroke-width="1.6900000000000002"/>
<line x1="458.45" y1="223.70" x2="462.45" y2="223.70" stroke="#111" stroke-width="1.6900000000000002"/>
<rect x="69.40" y="134.00" width="441.60" height="143.60" fill="none" stroke="#000" stroke-width="1.3"/>
<line x1="64.50" y1="277.60" x2="69.40" y2="277.60" stroke="#000" stroke-width="1.1"/>
<line x1="64.50" y1="253.67" x2="69.40" y2="253.67" stroke="#000" stroke-width="1.1"/>
<line x1="64.50" y1="229.73" x2="69.40" y2="229.73" stroke="#000" stroke-width="1.1"/>
<line x1="64.50" y1="205.80" x2="69.40" y2="205.80" stroke="#000" stroke-width="1.1"/>
<line x1="64.50" y1="181.87" x2="69.40" y2="181.87" stroke="#000" stroke-width="1.1"/>
<line x1="64.50" y1="157.93" x2="69.40" y2="157.93" stroke="#000" stroke-width="1.1"/>
<line x1="64.50" y1="134.00" x2="69.40" y2="134.00" stroke="#000" stroke-width="1.1"/>
<text x="53.24" y="163.10" font-size="16" fill="#000" stroke="#000" stroke-width="0.1" textLength="8.55" lengthAdjust="spacingAndGlyphs">5</text>
<text x="53.21" y="211.80" font-size="16" fill="#000" stroke="#000" stroke-width="0.1" textLength="8.96" lengthAdjust="spacingAndGlyphs">3</text>
<text x="54.52" y="258.70" font-size="14" font-weight="bold" font-family="Liberation Serif, serif" fill="#000" stroke="#000" stroke-width="0.1" textLength="7.97" lengthAdjust="spacingAndGlyphs">1</text>
<text transform="translate(44.70,260.07) rotate(-90)" x="0" y="0" font-size="14" fill="#000" stroke="#000" stroke-width="0.1" textLength="57.67" lengthAdjust="spacingAndGlyphs">% of CD4</text>
<text transform="translate(41.2,198.8) rotate(-90)" font-size="7" fill="#000">+</text>
<text transform="translate(44.70,187.78) rotate(-90)" x="0" y="0" font-size="14" fill="#000" stroke="#000" stroke-width="0.1" textLength="40.08" lengthAdjust="spacingAndGlyphs">T cells</text>
<rect x="73.50" y="160.20" width="11.60" height="16.90" fill="#1e1e1e"/>
<rect x="73.50" y="177.10" width="11.60" height="16.90" fill="#d2d2d2"/>
<rect x="73.50" y="194.00" width="11.60" height="16.70" fill="#a2a2a2"/>
<rect x="73.50" y="210.70" width="11.60" height="17.20" fill="#434343"/>
<text x="86.89" y="170.30" font-size="12.4" fill="#000" stroke="#000" stroke-width="0.1" textLength="31.32" lengthAdjust="spacingAndGlyphs">CD25</text>
<line x1="118.50" y1="163.50" x2="122.30" y2="163.50" stroke="#000" stroke-width="0.9"/>
<line x1="120.40" y1="161.60" x2="120.40" y2="165.40" stroke="#000" stroke-width="0.9"/>
<text x="123.71" y="170.30" font-size="12.4" fill="#000" stroke="#000" stroke-width="0.1" textLength="34.48" lengthAdjust="spacingAndGlyphs">Foxp3</text>
<line x1="159.40" y1="163.50" x2="163.10" y2="163.50" stroke="#000" stroke-width="0.9"/>
<line x1="161.25" y1="161.65" x2="161.25" y2="165.35" stroke="#000" stroke-width="0.9"/>
<text x="86.89" y="188.60" font-size="12.4" fill="#000" stroke="#000" stroke-width="0.1" textLength="31.32" lengthAdjust="spacingAndGlyphs">CD25</text>
<line x1="118.50" y1="181.60" x2="122.30" y2="181.60" stroke="#000" stroke-width="0.9"/>
<line x1="120.40" y1="179.70" x2="120.40" y2="183.50" stroke="#000" stroke-width="0.9"/>
<text x="86.89" y="210.00" font-size="12.4" fill="#000" stroke="#000" stroke-width="0.1" textLength="31.32" lengthAdjust="spacingAndGlyphs">CD25</text>
<text x="118.57" y="207.00" font-size="8.4" fill="#000" stroke="#000" stroke-width="0" textLength="5.83" lengthAdjust="spacingAndGlyphs">h</text>
<text x="123.89" y="207.00" font-size="8.4" fill="#000" stroke="#000" stroke-width="0" textLength="3.46" lengthAdjust="spacingAndGlyphs">i</text>
<text x="86.89" y="227.20" font-size="12.4" fill="#000" stroke="#000" stroke-width="0.1" textLength="31.32" lengthAdjust="spacingAndGlyphs">CD25</text>
<text x="118.60" y="224.30" font-size="8.4" fill="#000" stroke="#000" stroke-width="0" textLength="5.56" lengthAdjust="spacingAndGlyphs">h</text>
<text x="123.69" y="224.30" font-size="8.4" fill="#000" stroke="#000" stroke-width="0" textLength="3.46" lengthAdjust="spacingAndGlyphs">i</text>
<text x="127.32" y="227.20" font-size="12.4" fill="#000" stroke="#000" stroke-width="0.1" textLength="34.17" lengthAdjust="spacingAndGlyphs">Foxp3</text>
<line x1="161.80" y1="221.25" x2="165.90" y2="221.25" stroke="#000" stroke-width="0.9"/>
<line x1="163.85" y1="219.20" x2="163.85" y2="223.30" stroke="#000" stroke-width="0.9"/>
<line x1="68.75" y1="277.60" x2="68.75" y2="282.30" stroke="#555" stroke-width="1.0"/>
<line x1="160.00" y1="277.60" x2="160.00" y2="282.30" stroke="#555" stroke-width="1.0"/>
<line x1="247.50" y1="277.60" x2="247.50" y2="282.30" stroke="#555" stroke-width="1.0"/>
<line x1="335.75" y1="277.60" x2="335.75" y2="282.30" stroke="#555" stroke-width="1.0"/>
<line x1="423.25" y1="277.60" x2="423.25" y2="282.30" stroke="#555" stroke-width="1.0"/>
<line x1="511.00" y1="277.60" x2="511.00" y2="282.30" stroke="#555" stroke-width="1.0"/>
<text x="30.62" y="297.60" font-size="14.2" fill="#000" stroke="#000" stroke-width="0.1" textLength="71.36" lengthAdjust="spacingAndGlyphs">DD(ng/ml):</text>
<text x="117.19" y="298.20" font-size="16" fill="#000" stroke="#000" stroke-width="0.1" textLength="8.46" lengthAdjust="spacingAndGlyphs">0</text>
<text x="197.89" y="298.20" font-size="16" fill="#000" stroke="#000" stroke-width="0.1" textLength="19.08" lengthAdjust="spacingAndGlyphs">25</text>
<text x="286.30" y="298.20" font-size="16" fill="#000" stroke="#000" stroke-width="0.1" textLength="17.88" lengthAdjust="spacingAndGlyphs">75</text>
<text x="368.43" y="298.20" font-size="16" fill="#000" stroke="#000" stroke-width="0.1" textLength="27.28" lengthAdjust="spacingAndGlyphs">225</text>
<text x="454.71" y="298.20" font-size="16" fill="#000" stroke="#000" stroke-width="0.1" textLength="26.48" lengthAdjust="spacingAndGlyphs">675</text>
<text x="0.07" y="326.90" font-size="17" font-weight="bold" fill="#000" stroke="#000" stroke-width="0.1" textLength="12.02" lengthAdjust="spacingAndGlyphs">B</text>
<text x="17.49" y="333.60" font-size="14.5" fill="#000" stroke="#000" stroke-width="0.1" textLength="22.68" lengthAdjust="spacingAndGlyphs">DD</text>
<text x="98.76" y="332.70" font-size="15" fill="#000" stroke="#000" stroke-width="0.1" textLength="47.90" lengthAdjust="spacingAndGlyphs">resting</text>
<text x="326.97" y="331.60" font-size="15" fill="#000" stroke="#000" stroke-width="0.1" textLength="62.58" lengthAdjust="spacingAndGlyphs">activated</text>
<text x="17.48" y="503.70" font-size="15.2" fill="#000" stroke="#000" stroke-width="0" textLength="27.16" lengthAdjust="spacingAndGlyphs">IL-2</text>
<line x1="99.70" y1="340.20" x2="263.50" y2="340.20" stroke="#888" stroke-width="1.5"/>
<line x1="97.40" y1="340.20" x2="99.70" y2="340.20" stroke="#333" stroke-width="1.0"/>
<line x1="99.70" y1="355.65" x2="263.50" y2="355.65" stroke="#888" stroke-width="1.5"/>
<line x1="97.40" y1="355.65" x2="99.70" y2="355.65" stroke="#333" stroke-width="1.0"/>
<line x1="99.70" y1="371.10" x2="263.50" y2="371.10" stroke="#888" stroke-width="1.5"/>
<line x1="97.40" y1="371.10" x2="99.70" y2="371.10" stroke="#333" stroke-width="1.0"/>
<line x1="99.70" y1="386.55" x2="263.50" y2="386.55" stroke="#888" stroke-width="1.5"/>
<line x1="97.40" y1="386.55" x2="99.70" y2="386.55" stroke="#333" stroke-width="1.0"/>
<line x1="99.70" y1="402.00" x2="263.50" y2="402.00" stroke="#888" stroke-width="1.5"/>
<line x1="97.40" y1="402.00" x2="99.70" y2="402.00" stroke="#333" stroke-width="1.0"/>
<line x1="99.70" y1="417.45" x2="263.50" y2="417.45" stroke="#888" stroke-width="1.5"/>
<line x1="97.40" y1="417.45" x2="99.70" y2="417.45" stroke="#333" stroke-width="1.0"/>
<line x1="99.70" y1="432.90" x2="263.50" y2="432.90" stroke="#888" stroke-width="1.5"/>
<line x1="97.40" y1="432.90" x2="99.70" y2="432.90" stroke="#333" stroke-width="1.0"/>
<line x1="99.70" y1="448.35" x2="263.50" y2="448.35" stroke="#888" stroke-width="1.5"/>
<line x1="97.40" y1="448.35" x2="99.70" y2="448.35" stroke="#333" stroke-width="1.0"/>
<text x="78.60" y="360.15" font-size="12.8" fill="#000" stroke="#000" stroke-width="0" textLength="14.24" lengthAdjust="spacingAndGlyphs">35</text>
<text x="78.53" y="391.05" font-size="12.8" fill="#000" stroke="#000" stroke-width="0" textLength="14.24" lengthAdjust="spacingAndGlyphs">25</text>
<text x="78.37" y="421.95" font-size="12.8" fill="#000" stroke="#000" stroke-width="0" textLength="14.24" lengthAdjust="spacingAndGlyphs">15</text>
<text x="82.15" y="452.85" font-size="12.8" fill="#000" stroke="#000" stroke-width="0" textLength="7.12" lengthAdjust="spacingAndGlyphs">5</text>
<line x1="120.40" y1="417.40" x2="120.40" y2="445.20" stroke="#555" stroke-width="1.1"/>
<line x1="118.80" y1="417.40" x2="122.00" y2="417.40" stroke="#555" stroke-width="1.4300000000000002"/>
<line x1="118.80" y1="445.20" x2="122.00" y2="445.20" stroke="#555" stroke-width="1.4300000000000002"/>
<line x1="202.10" y1="420.70" x2="202.10" y2="442.60" stroke="#555" stroke-width="1.1"/>
<line x1="200.50" y1="420.70" x2="203.70" y2="420.70" stroke="#555" stroke-width="1.4300000000000002"/>
<line x1="200.50" y1="442.60" x2="203.70" y2="442.60" stroke="#555" stroke-width="1.4300000000000002"/>
<line x1="242.70" y1="411.90" x2="242.70" y2="424.00" stroke="#555" stroke-width="1.1"/>
<line x1="241.10" y1="411.90" x2="244.30" y2="411.90" stroke="#555" stroke-width="1.4300000000000002"/>
<line x1="241.10" y1="424.00" x2="244.30" y2="424.00" stroke="#555" stroke-width="1.4300000000000002"/>
<line x1="120.40" y1="360.20" x2="120.40" y2="388.60" stroke="#333" stroke-width="1.1"/>
<line x1="118.80" y1="360.20" x2="122.00" y2="360.20" stroke="#333" stroke-width="1.4300000000000002"/>
<line x1="118.80" y1="388.60" x2="122.00" y2="388.60" stroke="#333" stroke-width="1.4300000000000002"/>
<line x1="161.30" y1="425.30" x2="161.30" y2="440.30" stroke="#333" stroke-width="1.1"/>
<line x1="159.70" y1="425.30" x2="162.90" y2="425.30" stroke="#333" stroke-width="1.4300000000000002"/>
<line x1="159.70" y1="440.30" x2="162.90" y2="440.30" stroke="#333" stroke-width="1.4300000000000002"/>
<line x1="202.10" y1="387.00" x2="202.10" y2="412.20" stroke="#333" stroke-width="1.1"/>
<line x1="200.50" y1="387.00" x2="203.70" y2="387.00" stroke="#333" stroke-width="1.4300000000000002"/>
<line x1="200.50" y1="412.20" x2="203.70" y2="412.20" stroke="#333" stroke-width="1.4300000000000002"/>
<line x1="242.70" y1="349.40" x2="242.70" y2="368.40" stroke="#333" stroke-width="1.1"/>
<line x1="241.10" y1="349.40" x2="244.30" y2="349.40" stroke="#333" stroke-width="1.4300000000000002"/>
<line x1="241.10" y1="368.40" x2="244.30" y2="368.40" stroke="#333" stroke-width="1.4300000000000002"/>
<polyline points="120.40,431.10 161.30,432.80 202.10,431.10 242.70,417.40" fill="none" stroke="#6a6a6a" stroke-width="1.8" stroke-linejoin="round"/>
<polyline points="120.40,374.00 161.30,432.10 202.10,398.50 242.70,358.60" fill="none" stroke="#111" stroke-width="1.8" stroke-linejoin="round"/>
<line x1="99.70" y1="339.70" x2="99.70" y2="464.80" stroke="#000" stroke-width="1.8"/>
<line x1="98.70" y1="463.80" x2="263.50" y2="463.80" stroke="#000" stroke-width="1.8"/>
<line x1="140.70" y1="463.80" x2="140.70" y2="466.80" stroke="#555" stroke-width="1.0"/>
<line x1="182.20" y1="463.80" x2="182.20" y2="466.80" stroke="#555" stroke-width="1.0"/>
<line x1="222.70" y1="463.80" x2="222.70" y2="466.80" stroke="#555" stroke-width="1.0"/>
<line x1="263.50" y1="463.80" x2="263.50" y2="466.80" stroke="#555" stroke-width="1.0"/>
<line x1="162.40" y1="384.80" x2="162.40" y2="400.20" stroke="#555" stroke-width="1.5"/>
<polygon points="162.4,406.4 158.8,399.2 166.0,399.2" fill="#555"/>
<text x="119.76" y="479.00" font-size="13.5" fill="#000" stroke="#000" stroke-width="0.1" textLength="7.53" lengthAdjust="spacingAndGlyphs">0</text>
<text x="155.19" y="479.00" font-size="13.5" fill="#000" stroke="#000" stroke-width="0.1" textLength="14.91" lengthAdjust="spacingAndGlyphs">10</text>
<text x="192.81" y="479.00" font-size="13.5" fill="#000" stroke="#000" stroke-width="0.1" textLength="22.10" lengthAdjust="spacingAndGlyphs">100</text>
<text x="232.41" y="479.00" font-size="13.5" fill="#000" stroke="#000" stroke-width="0.1" textLength="29.24" lengthAdjust="spacingAndGlyphs">1000</text>
<text transform="translate(68.60,454.30) rotate(-90)" x="0" y="0" font-size="13.6" fill="#000" stroke="#000" stroke-width="0.1" textLength="114.05" lengthAdjust="spacingAndGlyphs">An. V pos. cells (%)</text>
<text x="34.63" y="479.20" font-size="13.5" fill="#000" stroke="#000" stroke-width="0.1" textLength="68.50" lengthAdjust="spacingAndGlyphs">DD (ng/ml):</text>
<line x1="327.00" y1="339.20" x2="490.50" y2="339.20" stroke="#888" stroke-width="1.5"/>
<line x1="324.70" y1="339.20" x2="327.00" y2="339.20" stroke="#333" stroke-width="1.0"/>
<line x1="327.00" y1="354.68" x2="490.50" y2="354.68" stroke="#888" stroke-width="1.5"/>
<line x1="324.70" y1="354.68" x2="327.00" y2="354.68" stroke="#333" stroke-width="1.0"/>
<line x1="327.00" y1="370.15" x2="490.50" y2="370.15" stroke="#888" stroke-width="1.5"/>
<line x1="324.70" y1="370.15" x2="327.00" y2="370.15" stroke="#333" stroke-width="1.0"/>
<line x1="327.00" y1="385.62" x2="490.50" y2="385.62" stroke="#888" stroke-width="1.5"/>
<line x1="324.70" y1="385.62" x2="327.00" y2="385.62" stroke="#333" stroke-width="1.0"/>
<line x1="327.00" y1="401.10" x2="490.50" y2="401.10" stroke="#888" stroke-width="1.5"/>
<line x1="324.70" y1="401.10" x2="327.00" y2="401.10" stroke="#333" stroke-width="1.0"/>
<line x1="327.00" y1="416.57" x2="490.50" y2="416.57" stroke="#888" stroke-width="1.5"/>
<line x1="324.70" y1="416.57" x2="327.00" y2="416.57" stroke="#333" stroke-width="1.0"/>
<line x1="327.00" y1="432.05" x2="490.50" y2="432.05" stroke="#888" stroke-width="1.5"/>
<line x1="324.70" y1="432.05" x2="327.00" y2="432.05" stroke="#333" stroke-width="1.0"/>
<line x1="327.00" y1="447.52" x2="490.50" y2="447.52" stroke="#888" stroke-width="1.5"/>
<line x1="324.70" y1="447.52" x2="327.00" y2="447.52" stroke="#333" stroke-width="1.0"/>
<text x="305.84" y="359.07" font-size="12.2" fill="#000" stroke="#000" stroke-width="0" textLength="13.57" lengthAdjust="spacingAndGlyphs">70</text>
<text x="305.90" y="390.02" font-size="12.2" fill="#000" stroke="#000" stroke-width="0" textLength="13.57" lengthAdjust="spacingAndGlyphs">50</text>
<text x="305.90" y="420.97" font-size="12.2" fill="#000" stroke="#000" stroke-width="0" textLength="13.57" lengthAdjust="spacingAndGlyphs">30</text>
<text x="305.68" y="451.92" font-size="12.2" fill="#000" stroke="#000" stroke-width="0" textLength="13.57" lengthAdjust="spacingAndGlyphs">10</text>
<line x1="347.00" y1="443.00" x2="347.00" y2="457.60" stroke="#555" stroke-width="1.1"/>
<line x1="345.40" y1="443.00" x2="348.60" y2="443.00" stroke="#555" stroke-width="1.4300000000000002"/>
<line x1="345.40" y1="457.60" x2="348.60" y2="457.60" stroke="#555" stroke-width="1.4300000000000002"/>
<line x1="388.50" y1="443.80" x2="388.50" y2="451.00" stroke="#555" stroke-width="1.1"/>
<line x1="386.90" y1="443.80" x2="390.10" y2="443.80" stroke="#555" stroke-width="1.4300000000000002"/>
<line x1="386.90" y1="451.00" x2="390.10" y2="451.00" stroke="#555" stroke-width="1.4300000000000002"/>
<line x1="430.00" y1="391.20" x2="430.00" y2="422.30" stroke="#555" stroke-width="1.1"/>
<line x1="428.40" y1="391.20" x2="431.60" y2="391.20" stroke="#555" stroke-width="1.4300000000000002"/>
<line x1="428.40" y1="422.30" x2="431.60" y2="422.30" stroke="#555" stroke-width="1.4300000000000002"/>
<line x1="470.60" y1="395.30" x2="470.60" y2="409.20" stroke="#555" stroke-width="1.1"/>
<line x1="469.00" y1="395.30" x2="472.20" y2="395.30" stroke="#555" stroke-width="1.4300000000000002"/>
<line x1="469.00" y1="409.20" x2="472.20" y2="409.20" stroke="#555" stroke-width="1.4300000000000002"/>
<line x1="347.00" y1="420.60" x2="347.00" y2="443.00" stroke="#333" stroke-width="1.1"/>
<line x1="345.40" y1="420.60" x2="348.60" y2="420.60" stroke="#333" stroke-width="1.4300000000000002"/>
<line x1="345.40" y1="443.00" x2="348.60" y2="443.00" stroke="#333" stroke-width="1.4300000000000002"/>
<line x1="388.50" y1="404.30" x2="388.50" y2="426.50" stroke="#333" stroke-width="1.1"/>
<line x1="386.90" y1="404.30" x2="390.10" y2="404.30" stroke="#333" stroke-width="1.4300000000000002"/>
<line x1="386.90" y1="426.50" x2="390.10" y2="426.50" stroke="#333" stroke-width="1.4300000000000002"/>
<line x1="430.00" y1="369.70" x2="430.00" y2="401.50" stroke="#333" stroke-width="1.1"/>
<line x1="428.40" y1="369.70" x2="431.60" y2="369.70" stroke="#333" stroke-width="1.4300000000000002"/>
<line x1="428.40" y1="401.50" x2="431.60" y2="401.50" stroke="#333" stroke-width="1.4300000000000002"/>
<line x1="470.60" y1="355.50" x2="470.60" y2="380.00" stroke="#333" stroke-width="1.1"/>
<line x1="469.00" y1="355.50" x2="472.20" y2="355.50" stroke="#333" stroke-width="1.4300000000000002"/>
<line x1="469.00" y1="380.00" x2="472.20" y2="380.00" stroke="#333" stroke-width="1.4300000000000002"/>
<polyline points="347.00,450.00 388.50,446.50 430.00,406.70 470.60,401.50" fill="none" stroke="#6a6a6a" stroke-width="1.8" stroke-linejoin="round"/>
<polyline points="347.00,432.00 388.50,415.40 430.00,386.00 470.60,368.00" fill="none" stroke="#111" stroke-width="1.8" stroke-linejoin="round"/>
<line x1="327.00" y1="338.70" x2="327.00" y2="464.00" stroke="#000" stroke-width="1.8"/>
<line x1="326.00" y1="463.00" x2="490.50" y2="463.00" stroke="#000" stroke-width="1.8"/>
<line x1="366.70" y1="463.00" x2="366.70" y2="466.00" stroke="#555" stroke-width="1.0"/>
<line x1="408.30" y1="463.00" x2="408.30" y2="466.00" stroke="#555" stroke-width="1.0"/>
<line x1="449.80" y1="463.00" x2="449.80" y2="466.00" stroke="#555" stroke-width="1.0"/>
<line x1="490.30" y1="463.00" x2="490.30" y2="466.00" stroke="#555" stroke-width="1.0"/>
<text x="341.56" y="478.30" font-size="13.0" fill="#000" stroke="#000" stroke-width="0.1" textLength="7.53" lengthAdjust="spacingAndGlyphs">0</text>
<text x="380.34" y="478.30" font-size="13.0" fill="#000" stroke="#000" stroke-width="0.1" textLength="14.24" lengthAdjust="spacingAndGlyphs">10</text>
<text x="418.22" y="478.30" font-size="13.0" fill="#000" stroke="#000" stroke-width="0.1" textLength="21.78" lengthAdjust="spacingAndGlyphs">100</text>
<text x="454.94" y="478.30" font-size="13.0" fill="#000" stroke="#000" stroke-width="0.1" textLength="28.51" lengthAdjust="spacingAndGlyphs">1000</text>
<rect x="332.30" y="344.20" width="62.60" height="39.70" fill="#fff" stroke="#999" stroke-width="0.9"/>
<line x1="338.80" y1="354.50" x2="357.70" y2="354.50" stroke="#111" stroke-width="3.0"/>
<line x1="338.80" y1="372.70" x2="357.70" y2="372.70" stroke="#666" stroke-width="3.0"/>
<text x="362.35" y="358.80" font-size="12" fill="#000" stroke="#000" stroke-width="0.1" textLength="25.67" lengthAdjust="spacingAndGlyphs">Treg</text>
<text x="362.36" y="377.00" font-size="12" fill="#000" stroke="#000" stroke-width="0.1" textLength="19.12" lengthAdjust="spacingAndGlyphs">Teff</text>
<line x1="99.70" y1="493.60" x2="263.50" y2="493.60" stroke="#888" stroke-width="1.5"/>
<line x1="97.40" y1="493.60" x2="99.70" y2="493.60" stroke="#333" stroke-width="1.0"/>
<line x1="99.70" y1="514.37" x2="263.50" y2="514.37" stroke="#888" stroke-width="1.5"/>
<line x1="97.40" y1="514.37" x2="99.70" y2="514.37" stroke="#333" stroke-width="1.0"/>
<line x1="99.70" y1="535.13" x2="263.50" y2="535.13" stroke="#888" stroke-width="1.5"/>
<line x1="97.40" y1="535.13" x2="99.70" y2="535.13" stroke="#333" stroke-width="1.0"/>
<line x1="99.70" y1="555.90" x2="263.50" y2="555.90" stroke="#888" stroke-width="1.5"/>
<line x1="97.40" y1="555.90" x2="99.70" y2="555.90" stroke="#333" stroke-width="1.0"/>
<line x1="99.70" y1="576.67" x2="263.50" y2="576.67" stroke="#888" stroke-width="1.5"/>
<line x1="97.40" y1="576.67" x2="99.70" y2="576.67" stroke="#333" stroke-width="1.0"/>
<line x1="99.70" y1="597.43" x2="263.50" y2="597.43" stroke="#888" stroke-width="1.5"/>
<line x1="97.40" y1="597.43" x2="99.70" y2="597.43" stroke="#333" stroke-width="1.0"/>
<text x="78.53" y="518.87" font-size="12.8" fill="#000" stroke="#000" stroke-width="0" textLength="14.24" lengthAdjust="spacingAndGlyphs">25</text>
<text x="78.37" y="560.40" font-size="12.8" fill="#000" stroke="#000" stroke-width="0" textLength="14.24" lengthAdjust="spacingAndGlyphs">15</text>
<text x="82.15" y="601.93" font-size="12.8" fill="#000" stroke="#000" stroke-width="0" textLength="7.12" lengthAdjust="spacingAndGlyphs">5</text>
<line x1="120.40" y1="577.20" x2="120.40" y2="593.90" stroke="#555" stroke-width="1.1"/>
<line x1="118.80" y1="577.20" x2="122.00" y2="577.20" stroke="#555" stroke-width="1.4300000000000002"/>
<line x1="118.80" y1="593.90" x2="122.00" y2="593.90" stroke="#555" stroke-width="1.4300000000000002"/>
<line x1="202.10" y1="589.60" x2="202.10" y2="607.60" stroke="#555" stroke-width="1.1"/>
<line x1="200.50" y1="589.60" x2="203.70" y2="589.60" stroke="#555" stroke-width="1.4300000000000002"/>
<line x1="200.50" y1="607.60" x2="203.70" y2="607.60" stroke="#555" stroke-width="1.4300000000000002"/>
<line x1="120.40" y1="518.70" x2="120.40" y2="534.70" stroke="#333" stroke-width="1.1"/>
<line x1="118.80" y1="518.70" x2="122.00" y2="518.70" stroke="#333" stroke-width="1.4300000000000002"/>
<line x1="118.80" y1="534.70" x2="122.00" y2="534.70" stroke="#333" stroke-width="1.4300000000000002"/>
<line x1="161.30" y1="601.70" x2="161.30" y2="613.10" stroke="#333" stroke-width="1.1"/>
<line x1="159.70" y1="601.70" x2="162.90" y2="601.70" stroke="#333" stroke-width="1.4300000000000002"/>
<line x1="159.70" y1="613.10" x2="162.90" y2="613.10" stroke="#333" stroke-width="1.4300000000000002"/>
<line x1="242.70" y1="601.70" x2="242.70" y2="608.60" stroke="#333" stroke-width="1.1"/>
<line x1="241.10" y1="601.70" x2="244.30" y2="601.70" stroke="#333" stroke-width="1.4300000000000002"/>
<line x1="241.10" y1="608.60" x2="244.30" y2="608.60" stroke="#333" stroke-width="1.4300000000000002"/>
<polyline points="120.40,584.70 161.30,606.00 202.10,597.10 242.70,604.30" fill="none" stroke="#6a6a6a" stroke-width="1.8" stroke-linejoin="round"/>
<polyline points="120.40,527.50 161.30,606.00 202.10,604.30 242.70,605.30" fill="none" stroke="#111" stroke-width="1.8" stroke-linejoin="round"/>
<line x1="99.70" y1="493.10" x2="99.70" y2="619.20" stroke="#000" stroke-width="1.8"/>
<line x1="98.70" y1="618.20" x2="263.50" y2="618.20" stroke="#000" stroke-width="1.8"/>
<line x1="140.70" y1="618.20" x2="140.70" y2="621.20" stroke="#555" stroke-width="1.0"/>
<line x1="182.20" y1="618.20" x2="182.20" y2="621.20" stroke="#555" stroke-width="1.0"/>
<line x1="222.70" y1="618.20" x2="222.70" y2="621.20" stroke="#555" stroke-width="1.0"/>
<line x1="263.50" y1="618.20" x2="263.50" y2="621.20" stroke="#555" stroke-width="1.0"/>
<line x1="162.20" y1="553.30" x2="162.20" y2="567.40" stroke="#555" stroke-width="1.5"/>
<polygon points="162.2,574.8 158.1,566.4 166.29999999999998,566.4" fill="#555"/>
<text x="118.28" y="634.40" font-size="13.5" fill="#000" stroke="#000" stroke-width="0.1" textLength="7.18" lengthAdjust="spacingAndGlyphs">0</text>
<text x="153.02" y="634.40" font-size="13.5" fill="#000" stroke="#000" stroke-width="0.1" textLength="19.30" lengthAdjust="spacingAndGlyphs">4.4</text>
<text x="196.14" y="634.40" font-size="13.5" fill="#000" stroke="#000" stroke-width="0.1" textLength="14.48" lengthAdjust="spacingAndGlyphs">44</text>
<text x="235.44" y="634.40" font-size="13.5" fill="#000" stroke="#000" stroke-width="0.1" textLength="21.35" lengthAdjust="spacingAndGlyphs">440</text>
<text transform="translate(68.30,607.20) rotate(-90)" x="0" y="0" font-size="13.6" fill="#000" stroke="#000" stroke-width="0.1" textLength="114.46" lengthAdjust="spacingAndGlyphs">An. V pos. cells (%)</text>
<text x="31.01" y="633.80" font-size="14" fill="#000" stroke="#000" stroke-width="0.1" textLength="71.39" lengthAdjust="spacingAndGlyphs">IL-2 (ng/ml):</text>
<line x1="326.50" y1="492.20" x2="490.40" y2="492.20" stroke="#888" stroke-width="1.5"/>
<line x1="324.20" y1="492.20" x2="326.50" y2="492.20" stroke="#333" stroke-width="1.0"/>
<line x1="326.50" y1="510.00" x2="490.40" y2="510.00" stroke="#888" stroke-width="1.5"/>
<line x1="324.20" y1="510.00" x2="326.50" y2="510.00" stroke="#333" stroke-width="1.0"/>
<line x1="326.50" y1="527.80" x2="490.40" y2="527.80" stroke="#888" stroke-width="1.5"/>
<line x1="324.20" y1="527.80" x2="326.50" y2="527.80" stroke="#333" stroke-width="1.0"/>
<line x1="326.50" y1="545.60" x2="490.40" y2="545.60" stroke="#888" stroke-width="1.5"/>
<line x1="324.20" y1="545.60" x2="326.50" y2="545.60" stroke="#333" stroke-width="1.0"/>
<line x1="326.50" y1="563.40" x2="490.40" y2="563.40" stroke="#888" stroke-width="1.5"/>
<line x1="324.20" y1="563.40" x2="326.50" y2="563.40" stroke="#333" stroke-width="1.0"/>
<line x1="326.50" y1="581.20" x2="490.40" y2="581.20" stroke="#888" stroke-width="1.5"/>
<line x1="324.20" y1="581.20" x2="326.50" y2="581.20" stroke="#333" stroke-width="1.0"/>
<line x1="326.50" y1="599.00" x2="490.40" y2="599.00" stroke="#888" stroke-width="1.5"/>
<line x1="324.20" y1="599.00" x2="326.50" y2="599.00" stroke="#333" stroke-width="1.0"/>
<text x="306.80" y="496.10" font-size="11.6" fill="#000" stroke="#000" stroke-width="0" textLength="12.90" lengthAdjust="spacingAndGlyphs">14</text>
<text x="306.83" y="531.70" font-size="11.6" fill="#000" stroke="#000" stroke-width="0" textLength="12.90" lengthAdjust="spacingAndGlyphs">10</text>
<text x="310.22" y="567.30" font-size="11.6" fill="#000" stroke="#000" stroke-width="0" textLength="6.45" lengthAdjust="spacingAndGlyphs">6</text>
<text x="310.28" y="602.90" font-size="11.6" fill="#000" stroke="#000" stroke-width="0" textLength="6.45" lengthAdjust="spacingAndGlyphs">2</text>
<line x1="347.50" y1="525.00" x2="347.50" y2="536.00" stroke="#555" stroke-width="1.1"/>
<line x1="345.90" y1="525.00" x2="349.10" y2="525.00" stroke="#555" stroke-width="1.4300000000000002"/>
<line x1="345.90" y1="536.00" x2="349.10" y2="536.00" stroke="#555" stroke-width="1.4300000000000002"/>
<line x1="388.50" y1="523.00" x2="388.50" y2="533.00" stroke="#555" stroke-width="1.1"/>
<line x1="386.90" y1="523.00" x2="390.10" y2="523.00" stroke="#555" stroke-width="1.4300000000000002"/>
<line x1="386.90" y1="533.00" x2="390.10" y2="533.00" stroke="#555" stroke-width="1.4300000000000002"/>
<line x1="470.60" y1="515.00" x2="470.60" y2="535.00" stroke="#555" stroke-width="1.1"/>
<line x1="469.00" y1="515.00" x2="472.20" y2="515.00" stroke="#555" stroke-width="1.4300000000000002"/>
<line x1="469.00" y1="535.00" x2="472.20" y2="535.00" stroke="#555" stroke-width="1.4300000000000002"/>
<line x1="347.50" y1="522.00" x2="347.50" y2="542.00" stroke="#333" stroke-width="1.1"/>
<line x1="345.90" y1="522.00" x2="349.10" y2="522.00" stroke="#333" stroke-width="1.4300000000000002"/>
<line x1="345.90" y1="542.00" x2="349.10" y2="542.00" stroke="#333" stroke-width="1.4300000000000002"/>
<line x1="388.50" y1="520.20" x2="388.50" y2="541.80" stroke="#333" stroke-width="1.1"/>
<line x1="386.90" y1="520.20" x2="390.10" y2="520.20" stroke="#333" stroke-width="1.4300000000000002"/>
<line x1="386.90" y1="541.80" x2="390.10" y2="541.80" stroke="#333" stroke-width="1.4300000000000002"/>
<line x1="429.40" y1="508.20" x2="429.40" y2="535.60" stroke="#333" stroke-width="1.1"/>
<line x1="427.80" y1="508.20" x2="431.00" y2="508.20" stroke="#333" stroke-width="1.4300000000000002"/>
<line x1="427.80" y1="535.60" x2="431.00" y2="535.60" stroke="#333" stroke-width="1.4300000000000002"/>
<line x1="470.60" y1="507.30" x2="470.60" y2="543.30" stroke="#333" stroke-width="1.1"/>
<line x1="469.00" y1="507.30" x2="472.20" y2="507.30" stroke="#333" stroke-width="1.4300000000000002"/>
<line x1="469.00" y1="543.30" x2="472.20" y2="543.30" stroke="#333" stroke-width="1.4300000000000002"/>
<polyline points="347.50,531.00 388.50,527.60 429.40,521.50 470.60,524.50" fill="none" stroke="#6a6a6a" stroke-width="1.8" stroke-linejoin="round"/>
<polyline points="347.50,535.90 388.50,531.90 429.40,521.80 470.60,527.00" fill="none" stroke="#111" stroke-width="1.8" stroke-linejoin="round"/>
<line x1="326.50" y1="491.70" x2="326.50" y2="617.80" stroke="#000" stroke-width="1.8"/>
<line x1="325.50" y1="616.80" x2="490.40" y2="616.80" stroke="#000" stroke-width="1.8"/>
<line x1="366.70" y1="616.80" x2="366.70" y2="619.80" stroke="#555" stroke-width="1.0"/>
<line x1="408.30" y1="616.80" x2="408.30" y2="619.80" stroke="#555" stroke-width="1.0"/>
<line x1="449.80" y1="616.80" x2="449.80" y2="619.80" stroke="#555" stroke-width="1.0"/>
<line x1="490.30" y1="616.80" x2="490.30" y2="619.80" stroke="#555" stroke-width="1.0"/>
<text x="341.85" y="633.60" font-size="13.1" fill="#000" stroke="#000" stroke-width="0.1" textLength="7.65" lengthAdjust="spacingAndGlyphs">0</text>
<text x="378.72" y="633.60" font-size="13.1" fill="#000" stroke="#000" stroke-width="0.1" textLength="19.40" lengthAdjust="spacingAndGlyphs">4.4</text>
<text x="422.23" y="633.60" font-size="13.1" fill="#000" stroke="#000" stroke-width="0.1" textLength="15.11" lengthAdjust="spacingAndGlyphs">44</text>
<text x="459.84" y="633.60" font-size="13.1" fill="#000" stroke="#000" stroke-width="0.1" textLength="21.66" lengthAdjust="spacingAndGlyphs">440</text>
<text x="1.60" y="669.60" font-size="17.6" font-weight="bold" fill="#000" stroke="#000" stroke-width="0.1" textLength="12.68" lengthAdjust="spacingAndGlyphs">C</text>

<rect x="85.00" y="792.30" width="15.40" height="4.00" fill="#fff" stroke="#333" stroke-width="0.9"/>
<rect x="127.40" y="778.50" width="13.90" height="17.80" fill="#bbb" stroke="#333" stroke-width="0.9"/>
<rect x="141.30" y="786.80" width="13.70" height="9.50" fill="#000" stroke="#333" stroke-width="0.9"/>
<rect x="175.20" y="760.40" width="14.00" height="35.90" fill="#bbb" stroke="#333" stroke-width="0.9"/>
<rect x="189.20" y="768.00" width="14.00" height="28.30" fill="#000" stroke="#333" stroke-width="0.9"/>
<rect x="224.20" y="750.20" width="14.00" height="46.10" fill="#bbb" stroke="#333" stroke-width="0.9"/>
<rect x="238.20" y="768.50" width="14.30" height="27.80" fill="#000" stroke="#333" stroke-width="0.9"/>
<line x1="93.00" y1="789.00" x2="93.00" y2="792.30" stroke="#2a2a2a" stroke-width="1.2"/>
<line x1="89.30" y1="789.00" x2="96.70" y2="789.00" stroke="#2a2a2a" stroke-width="1.3"/>
<line x1="134.00" y1="767.90" x2="134.00" y2="778.50" stroke="#2a2a2a" stroke-width="1.2"/>
<line x1="130.30" y1="767.90" x2="137.70" y2="767.90" stroke="#2a2a2a" stroke-width="1.3"/>
<line x1="148.00" y1="780.00" x2="148.00" y2="786.80" stroke="#2a2a2a" stroke-width="1.2"/>
<line x1="144.30" y1="780.00" x2="151.70" y2="780.00" stroke="#2a2a2a" stroke-width="1.3"/>
<line x1="182.50" y1="740.20" x2="182.50" y2="760.40" stroke="#2a2a2a" stroke-width="1.2"/>
<line x1="178.80" y1="740.20" x2="186.20" y2="740.20" stroke="#2a2a2a" stroke-width="1.3"/>
<line x1="196.00" y1="744.20" x2="196.00" y2="768.00" stroke="#2a2a2a" stroke-width="1.2"/>
<line x1="192.30" y1="744.20" x2="199.70" y2="744.20" stroke="#2a2a2a" stroke-width="1.3"/>
<line x1="230.70" y1="722.70" x2="230.70" y2="750.20" stroke="#2a2a2a" stroke-width="1.2"/>
<line x1="227.00" y1="722.70" x2="234.40" y2="722.70" stroke="#2a2a2a" stroke-width="1.3"/>
<line x1="244.40" y1="744.20" x2="244.40" y2="768.50" stroke="#2a2a2a" stroke-width="1.2"/>
<line x1="240.70" y1="744.20" x2="248.10" y2="744.20" stroke="#2a2a2a" stroke-width="1.3"/>
<rect x="67.80" y="657.70" width="194.40" height="138.60" fill="none" stroke="#333" stroke-width="1.2"/>
<line x1="65.00" y1="796.30" x2="67.80" y2="796.30" stroke="#333" stroke-width="1.0"/>
<line x1="65.00" y1="780.91" x2="67.80" y2="780.91" stroke="#333" stroke-width="1.0"/>
<line x1="65.00" y1="765.52" x2="67.80" y2="765.52" stroke="#333" stroke-width="1.0"/>
<line x1="65.00" y1="750.13" x2="67.80" y2="750.13" stroke="#333" stroke-width="1.0"/>
<line x1="65.00" y1="734.74" x2="67.80" y2="734.74" stroke="#333" stroke-width="1.0"/>
<line x1="65.00" y1="719.36" x2="67.80" y2="719.36" stroke="#333" stroke-width="1.0"/>
<line x1="65.00" y1="703.97" x2="67.80" y2="703.97" stroke="#333" stroke-width="1.0"/>
<line x1="65.00" y1="688.58" x2="67.80" y2="688.58" stroke="#333" stroke-width="1.0"/>
<line x1="65.00" y1="673.19" x2="67.80" y2="673.19" stroke="#333" stroke-width="1.0"/>
<line x1="65.00" y1="657.80" x2="67.80" y2="657.80" stroke="#333" stroke-width="1.0"/>
<text x="43.48" y="678.49" font-size="15.2" fill="#000" stroke="#000" stroke-width="0.1" textLength="16.69" lengthAdjust="spacingAndGlyphs">80</text>
<text x="43.48" y="709.27" font-size="15.2" fill="#000" stroke="#000" stroke-width="0.1" textLength="16.69" lengthAdjust="spacingAndGlyphs">60</text>
<text x="43.48" y="740.04" font-size="15.2" fill="#000" stroke="#000" stroke-width="0.1" textLength="16.69" lengthAdjust="spacingAndGlyphs">40</text>
<text x="43.48" y="770.82" font-size="15.2" fill="#000" stroke="#000" stroke-width="0.1" textLength="16.69" lengthAdjust="spacingAndGlyphs">20</text>
<text x="51.80" y="801.60" font-size="15.2" fill="#000" stroke="#000" stroke-width="0.1" textLength="8.34" lengthAdjust="spacingAndGlyphs">0</text>
<rect x="76.00" y="664.00" width="34.00" height="10.40" fill="#bbb" stroke="#333" stroke-width="0.9"/>
<rect x="76.00" y="680.20" width="34.00" height="10.60" fill="#000" stroke="#000" stroke-width="0.9"/>
<text x="114.40" y="674.40" font-size="13.8" fill="#000" stroke="#000" stroke-width="0.1" textLength="23.01" lengthAdjust="spacingAndGlyphs">IL-2</text>
<text x="114.24" y="690.30" font-size="13.8" fill="#000" stroke="#000" stroke-width="0.1" textLength="19.22" lengthAdjust="spacingAndGlyphs">DD</text>
<text x="133.86" y="754.80" font-size="13.5" fill="#000" stroke="#000" stroke-width="0.1" textLength="15.26" lengthAdjust="spacingAndGlyphs">ns</text>
<line x1="133.10" y1="759.20" x2="148.70" y2="759.20" stroke="#222" stroke-width="0.9"/>
<text x="180.19" y="729.40" font-size="13.5" fill="#000" stroke="#000" stroke-width="0.1" textLength="16.37" lengthAdjust="spacingAndGlyphs">ns</text>
<line x1="179.50" y1="732.90" x2="196.10" y2="732.90" stroke="#222" stroke-width="0.9"/>
<text x="229.39" y="713.30" font-size="13.5" fill="#000" stroke="#000" stroke-width="0.1" textLength="16.37" lengthAdjust="spacingAndGlyphs">ns</text>
<line x1="228.70" y1="716.40" x2="245.30" y2="716.40" stroke="#222" stroke-width="0.9"/>
<text x="89.47" y="816.00" font-size="13.8" fill="#000" stroke="#000" stroke-width="0.1" textLength="7.30" lengthAdjust="spacingAndGlyphs">0</text>
<text x="120.85" y="816.00" font-size="13.8" fill="#000" stroke="#000" stroke-width="0.1" textLength="38.54" lengthAdjust="spacingAndGlyphs">0.5/10</text>
<text x="168.43" y="816.00" font-size="13.8" fill="#000" stroke="#000" stroke-width="0.1" textLength="35.50" lengthAdjust="spacingAndGlyphs">5/100</text>
<text x="213.72" y="816.00" font-size="13.8" fill="#000" stroke="#000" stroke-width="0.1" textLength="52.79" lengthAdjust="spacingAndGlyphs">50/1000</text>
<text x="87.93" y="837.80" font-size="14.4" fill="#000" stroke="#000" stroke-width="0.1" textLength="161.94" lengthAdjust="spacingAndGlyphs">IL-2 (units/ml)/ DD (ng/ml)</text>
<text transform="translate(34.30,787.89) rotate(-90)" x="0" y="0" font-size="14" fill="#000" stroke="#000" stroke-width="0.1" textLength="85.72" lengthAdjust="spacingAndGlyphs">% p-STAT5 in</text>
<text transform="translate(34.10,698.65) rotate(-90)" x="0" y="0" font-size="14" font-weight="bold" fill="#000" stroke="#000" stroke-width="0.1" textLength="26.13" lengthAdjust="spacingAndGlyphs">Teff</text>
<rect x="336.75" y="790.50" width="14.50" height="6.50" fill="#fff" stroke="#333" stroke-width="0.9"/>
<rect x="379.90" y="737.40" width="14.70" height="59.60" fill="#bbb" stroke="#333" stroke-width="0.9"/>
<rect x="394.60" y="749.50" width="14.30" height="47.50" fill="#000" stroke="#333" stroke-width="0.9"/>
<rect x="429.40" y="709.70" width="14.50" height="87.30" fill="#bbb" stroke="#333" stroke-width="0.9"/>
<rect x="443.90" y="721.80" width="14.70" height="75.20" fill="#000" stroke="#333" stroke-width="0.9"/>
<rect x="478.60" y="710.30" width="14.50" height="86.70" fill="#bbb" stroke="#333" stroke-width="0.9"/>
<rect x="493.10" y="724.40" width="14.40" height="72.60" fill="#000" stroke="#333" stroke-width="0.9"/>
<line x1="344.00" y1="783.25" x2="344.00" y2="790.50" stroke="#2a2a2a" stroke-width="1.2"/>
<line x1="340.30" y1="783.25" x2="347.70" y2="783.25" stroke="#2a2a2a" stroke-width="1.3"/>
<line x1="387.30" y1="700.70" x2="387.30" y2="737.40" stroke="#2a2a2a" stroke-width="1.2"/>
<line x1="383.60" y1="700.70" x2="391.00" y2="700.70" stroke="#2a2a2a" stroke-width="1.3"/>
<line x1="401.70" y1="719.70" x2="401.70" y2="749.50" stroke="#2a2a2a" stroke-width="1.2"/>
<line x1="398.00" y1="719.70" x2="405.40" y2="719.70" stroke="#2a2a2a" stroke-width="1.3"/>
<line x1="436.60" y1="671.20" x2="436.60" y2="709.70" stroke="#2a2a2a" stroke-width="1.2"/>
<line x1="432.90" y1="671.20" x2="440.30" y2="671.20" stroke="#2a2a2a" stroke-width="1.3"/>
<line x1="450.00" y1="686.30" x2="450.00" y2="721.80" stroke="#2a2a2a" stroke-width="1.2"/>
<line x1="446.30" y1="686.30" x2="453.70" y2="686.30" stroke="#2a2a2a" stroke-width="1.3"/>
<line x1="486.90" y1="665.20" x2="486.90" y2="710.30" stroke="#2a2a2a" stroke-width="1.2"/>
<line x1="483.20" y1="665.20" x2="490.60" y2="665.20" stroke="#2a2a2a" stroke-width="1.3"/>
<line x1="500.00" y1="684.20" x2="500.00" y2="724.40" stroke="#2a2a2a" stroke-width="1.2"/>
<line x1="496.30" y1="684.20" x2="503.70" y2="684.20" stroke="#2a2a2a" stroke-width="1.3"/>
<line x1="320.00" y1="657.00" x2="517.40" y2="657.00" stroke="#666" stroke-width="1.2"/>
<line x1="517.40" y1="657.00" x2="517.40" y2="797.00" stroke="#444" stroke-width="1.0"/>
<line x1="320.00" y1="657.50" x2="320.00" y2="797.00" stroke="#222" stroke-width="1.1"/>
<line x1="320.00" y1="797.00" x2="517.40" y2="797.00" stroke="#222" stroke-width="1.1"/>
<line x1="317.00" y1="797.00" x2="320.00" y2="797.00" stroke="#333" stroke-width="1.0"/>
<line x1="317.00" y1="781.50" x2="320.00" y2="781.50" stroke="#333" stroke-width="1.0"/>
<line x1="317.00" y1="766.00" x2="320.00" y2="766.00" stroke="#333" stroke-width="1.0"/>
<line x1="317.00" y1="750.50" x2="320.00" y2="750.50" stroke="#333" stroke-width="1.0"/>
<line x1="317.00" y1="735.00" x2="320.00" y2="735.00" stroke="#333" stroke-width="1.0"/>
<line x1="317.00" y1="719.50" x2="320.00" y2="719.50" stroke="#333" stroke-width="1.0"/>
<line x1="317.00" y1="704.00" x2="320.00" y2="704.00" stroke="#333" stroke-width="1.0"/>
<line x1="317.00" y1="688.50" x2="320.00" y2="688.50" stroke="#333" stroke-width="1.0"/>
<line x1="317.00" y1="673.00" x2="320.00" y2="673.00" stroke="#333" stroke-width="1.0"/>
<line x1="317.00" y1="657.50" x2="320.00" y2="657.50" stroke="#333" stroke-width="1.0"/>
<text x="296.13" y="678.50" font-size="13.8" fill="#000" stroke="#000" stroke-width="0.1" textLength="15.80" lengthAdjust="spacingAndGlyphs">80</text>
<text x="296.13" y="709.50" font-size="13.8" fill="#000" stroke="#000" stroke-width="0.1" textLength="15.80" lengthAdjust="spacingAndGlyphs">60</text>
<text x="296.13" y="740.50" font-size="13.8" fill="#000" stroke="#000" stroke-width="0.1" textLength="15.80" lengthAdjust="spacingAndGlyphs">40</text>
<text x="296.13" y="771.50" font-size="13.8" fill="#000" stroke="#000" stroke-width="0.1" textLength="15.80" lengthAdjust="spacingAndGlyphs">20</text>
<text x="304.02" y="802.50" font-size="13.8" fill="#000" stroke="#000" stroke-width="0.1" textLength="7.90" lengthAdjust="spacingAndGlyphs">0</text>
<rect x="329.60" y="664.20" width="15.90" height="9.30" fill="#bbb" stroke="#333" stroke-width="0.9"/>
<rect x="329.60" y="680.50" width="15.90" height="8.90" fill="#000" stroke="#000" stroke-width="0.9"/>
<text x="349.21" y="673.90" font-size="13.9" fill="#000" stroke="#000" stroke-width="0.1" textLength="24.65" lengthAdjust="spacingAndGlyphs">IL-2</text>
<text x="349.74" y="689.40" font-size="13.9" fill="#000" stroke="#000" stroke-width="0.1" textLength="19.22" lengthAdjust="spacingAndGlyphs">DD</text>
<text x="386.30" y="690.30" font-size="13.5" fill="#000" stroke="#000" stroke-width="0.1" textLength="16.26" lengthAdjust="spacingAndGlyphs">ns</text>
<line x1="384.70" y1="693.70" x2="402.90" y2="693.70" stroke="#222" stroke-width="0.9"/>
<text x="437.17" y="666.00" font-size="13.5" fill="#000" stroke="#000" stroke-width="0.1" textLength="15.04" lengthAdjust="spacingAndGlyphs">ns</text>
<line x1="435.40" y1="667.60" x2="453.20" y2="667.60" stroke="#222" stroke-width="0.9"/>
<text x="491.37" y="674.70" font-size="13.5" fill="#000" stroke="#000" stroke-width="0.1" textLength="15.15" lengthAdjust="spacingAndGlyphs">ns</text>
<line x1="485.20" y1="661.20" x2="502.70" y2="661.20" stroke="#222" stroke-width="0.9"/>
<text x="339.68" y="816.00" font-size="13.8" fill="#000" stroke="#000" stroke-width="0.1" textLength="7.18" lengthAdjust="spacingAndGlyphs">0</text>
<text x="374.04" y="816.00" font-size="13.8" fill="#000" stroke="#000" stroke-width="0.1" textLength="39.06" lengthAdjust="spacingAndGlyphs">0.5/10</text>
<text x="427.45" y="816.00" font-size="13.8" fill="#000" stroke="#000" stroke-width="0.1" textLength="34.57" lengthAdjust="spacingAndGlyphs">5/100</text>
<text x="468.23" y="816.00" font-size="13.8" fill="#000" stroke="#000" stroke-width="0.1" textLength="51.57" lengthAdjust="spacingAndGlyphs">50/1000</text>
<text x="346.52" y="837.60" font-size="14.4" fill="#000" stroke="#000" stroke-width="0.1" textLength="163.36" lengthAdjust="spacingAndGlyphs">IL-2 (units/ml)/ DD (ng/ml)</text>
<text transform="translate(288.40,788.99) rotate(-90)" x="0" y="0" font-size="14" fill="#000" stroke="#000" stroke-width="0.1" textLength="85.42" lengthAdjust="spacingAndGlyphs">% p-STAT5 in</text>
<text transform="translate(288.20,699.75) rotate(-90)" x="0" y="0" font-size="14" font-weight="bold" fill="#000" stroke="#000" stroke-width="0.1" textLength="30.72" lengthAdjust="spacingAndGlyphs">Treg</text>
</svg>
</body></html>
